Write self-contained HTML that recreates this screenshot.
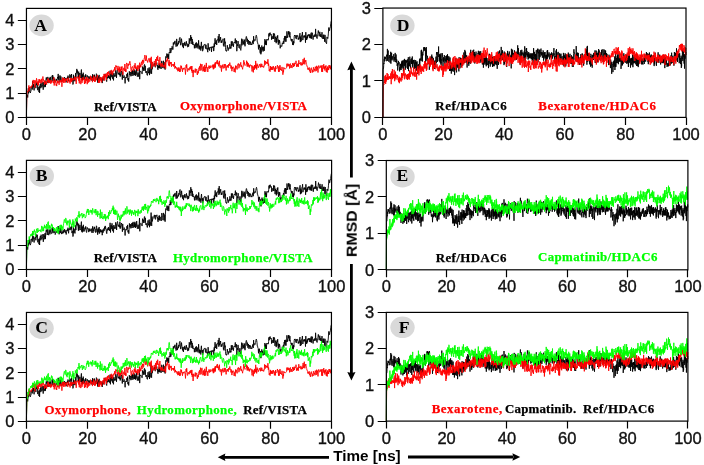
<!DOCTYPE html>
<html><head><meta charset="utf-8"><style>
html,body{margin:0;padding:0;background:#ffffff;}
svg{display:block;filter:blur(0.3px);}
text{will-change:transform;}
.tk{font-family:"Liberation Sans",sans-serif;font-size:16.5px;fill:#111;stroke:#111;stroke-width:0.35px;}
.lg{font-family:"Liberation Serif",serif;font-weight:bold;font-size:12.9px;stroke-width:0.25px;}
.lt{font-family:"Liberation Serif",serif;font-weight:bold;font-size:17.6px;fill:#000;text-anchor:middle;}
.ax{font-family:"Liberation Sans",sans-serif;font-weight:bold;font-size:15px;fill:#000;}
</style></head><body>
<svg width="704" height="465" viewBox="0 0 704 465">
<rect width="704" height="465" fill="#ffffff"/>
<clipPath id="cA"><rect x="25.45" y="7.40" width="307.00" height="110.00"/></clipPath>
<clipPath id="cB"><rect x="25.45" y="159.35" width="307.15" height="110.15"/></clipPath>
<clipPath id="cC"><rect x="25.45" y="311.45" width="307.00" height="109.85"/></clipPath>
<clipPath id="cD"><rect x="381.90" y="7.05" width="305.10" height="110.35"/></clipPath>
<clipPath id="cE"><rect x="385.30" y="159.50" width="303.60" height="110.30"/></clipPath>
<clipPath id="cF"><rect x="385.30" y="311.40" width="303.60" height="109.70"/></clipPath>
<ellipse cx="41.55" cy="25.40" rx="12.2" ry="10.8" fill="#d9d9d9"/>
<text x="40.70" y="31.00" class="lt">A</text>
<text x="94.05" y="110.9" fill="#000000" stroke="#000000" class="lg" textLength="62.56" lengthAdjust="spacing">Ref/VISTA</text>
<text x="179.90" y="110.4" fill="#ff0000" stroke="#ff0000" class="lg" textLength="127.03" lengthAdjust="spacing">Oxymorphone/VISTA</text>
<g clip-path="url(#cA)" fill="none" stroke-width="0.90" stroke-linejoin="round"><path stroke="#000000" d="M26.4 117.4l.4 -20.4 .3 -.9 .3 -1.4 .3 2.8 .3 -3.1 .3 -6.3 .3 5.2 .3 -2.6 .3 -2.6 .3 3.3 .3 -4.3 .3 5.3 .3 .6 .3 -1.4 .3 -.5 .3 -4 .3 .6 .3 -1.1 .4 2.9 .3 -8.3 .3 6 .3 -1.4 .3 -1.5 .3 4.5 .3 1.6 .3 -2.7 .3 -2.1 .3 -.2 .3 -.9 .3 1.4 .3 2.3 .3 -6 .3 3 .3 -1.4 .3 -.6 .3 -.5 .3 7.5 .4 -2.8 .3 -.5 .3 .6 .3 4.6 .3 -5.7 .3 6.5 .3 -7.6 .3 -1 .3 -.4 .3 4.3 .3 -5.6 .3 3.4 .3 .9 .3 .4 .3 -1.2 .3 -1.7 .3 -2.3 .3 7.6 .3 -4.6 .4 -3 .3 2.6 .3 -1 .3 3.5 .3 -6.3 .3 5.9 .3 -3.9 .3 -3.9 .3 -1.6 .3 2.1 .3 -1.6 .3 5 .3 -1.1 .3 -4.9 .3 3.2 .3 1.1 .3 1.9 .3 -3.6 .3 -1.7 .4 3.8 .3 .6 .3 -5.3 .3 3 .3 -.2 .3 1.7 .3 .2 .3 -.6 .3 -5.3 .3 3.6 .3 -4.3 .3 6.1 .3 -1.6 .3 -2.7 .3 2.1 .3 1.8 .3 -1 .3 -1 .3 3.8 .4 -1 .3 -1 .3 .1 .3 -1.6 .3 1.8 .3 -.3 .3 -2 .3 -1.4 .3 1.5 .3 -4.7 .3 5.7 .3 -3.5 .3 6.1 .3 -3.5 .3 -.5 .3 -2.8 .3 2.4 .3 3.2 .3 -4.5 .4 3.9 .3 1.6 .3 -1.9 .3 .3 .3 -.8 .3 1.9 .3 -3.8 .3 .9 .3 2.2 .3 -1 .3 -1 .3 -1.7 .3 2.8 .3 -1.7 .3 2.6 .3 -.7 .3 2.3 .3 -3.3 .4 -1 .3 1 .3 -2 .3 1.4 .3 -2.9 .3 3.4 .3 2.2 .3 -4.4 .3 1.1 .3 -.6 .3 -2.9 .3 1.4 .3 -.5 .3 2.7 .3 -.6 .3 -.3 .3 -3.1 .3 7 .3 -2.2 .4 .2 .3 5.5 .3 -.5 .3 -9.2 .3 6.3 .3 -4.3 .3 2.2 .3 1 .3 1.3 .3 -4.2 .3 -3.9 .3 4.8 .3 -5.3 .3 .1 .3 -3.9 .3 4.4 .3 -2.9 .3 2.1 .3 2.9 .4 3.2 .3 -7 .3 6.5 .3 -2 .3 -1.4 .3 -1.7 .3 5 .3 -1 .3 -.5 .3 -4.3 .3 -2.7 .3 10 .3 -4.9 .3 5.7 .3 -5.9 .3 4.4 .3 -6.1 .3 3.6 .3 3.3 .4 -1.3 .3 .3 .3 -3 .3 .3 .3 1.2 .3 -2.8 .3 2.8 .3 2.5 .3 .8 .3 -2.3 .3 -2.8 .3 1.3 .3 -.4 .3 .3 .3 3.3 .3 .2 .3 -3.7 .3 2.8 .3 -1.8 .4 -.4 .3 2.2 .3 -.4 .3 .2 .3 -2.4 .3 1.5 .3 2.6 .3 -1.1 .3 -2.4 .3 -2.9 .3 6.6 .3 -3.6 .3 1.5 .3 -3.2 .3 1.3 .3 -2.1 .3 2.6 .3 2.5 .3 .6 .4 -3.2 .3 .8 .3 -4.3 .3 .7 .3 5.8 .3 -2.9 .3 5.3 .3 -.6 .3 -5.8 .3 1.7 .3 2.3 .3 -5.3 .3 6.5 .3 -.2 .3 -4.1 .3 .7 .3 2.2 .3 -2.4 .3 .4 .4 2.1 .3 -1.1 .3 4.1 .3 -1.6 .3 -3.9 .3 2.9 .3 -3.1 .3 -.9 .3 2.5 .3 -1 .3 -3.4 .3 2.4 .3 -3.2 .3 .9 .3 2.3 .3 .9 .3 3.1 .3 .6 .4 -4.5 .3 .8 .3 .5 .3 -2.7 .3 2.1 .3 -2.8 .3 2.5 .3 -.6 .3 1.8 .3 -3.6 .3 -4.4 .3 9.7 .3 -5.1 .3 -2.2 .3 2.7 .3 .9 .3 -5.5 .3 6.8 .3 .7 .4 -4.8 .3 5.2 .3 1.3 .3 -7.5 .3 .8 .3 .9 .3 2.1 .3 -1.3 .3 1 .3 -6.1 .3 1.5 .3 .3 .3 5.8 .3 -5.2 .3 -2.5 .3 -.8 .3 2 .3 2.4 .3 .7 .4 -1.8 .3 1 .3 0 .3 1.5 .3 -5.6 .3 7 .3 -2.3 .3 .9 .3 -2.5 .3 -1.8 .3 1.8 .3 2 .3 4.9 .3 -7.8 .3 4.5 .3 .9 .3 .8 .3 -1.1 .3 -1.4 .4 1 .3 2.1 .3 4.8 .3 -5.7 .3 -.5 .3 0 .3 .9 .3 -1.4 .3 -2.6 .3 2.5 .3 -3.8 .3 7.4 .3 -.2 .3 -1.8 .3 3.4 .3 -3.9 .3 -6.4 .3 2.4 .3 1.4 .4 -3.1 .3 1.9 .3 2.4 .3 -2.1 .3 -.2 .3 -2.9 .3 4.8 .3 -5.1 .3 3.1 .3 -4.1 .3 5.7 .3 -.7 .3 -2.2 .3 -1.9 .3 4.4 .3 -5.4 .3 2.3 .3 3.8 .3 -4.3 .4 3.2 .3 -2.8 .3 -2.9 .3 4.8 .3 2.9 .3 -.6 .3 -3.5 .3 .2 .3 3.8 .3 -1.3 .3 -3.8 .3 -5.5 .3 13.2 .3 -7.4 .3 .3 .3 -.9 .3 .1 .3 .2 .4 .9 .3 1.4 .3 0 .3 -7.2 .3 1.6 .3 1 .3 -1.5 .3 3.2 .3 -4 .3 -2.3 .3 -.2 .3 6.3 .3 -4.9 .3 4.5 .3 2.6 .3 -.5 .3 .3 .3 -1.5 .3 3.9 .4 .3 .3 -3.1 .3 -4 .3 4.9 .3 -1.1 .3 .9 .3 -5.6 .3 7.7 .3 -5.3 .3 3.8 .3 -2.9 .3 -1.7 .3 -8.5 .3 9.6 .3 3.7 .3 -9.4 .3 4.9 .3 -2 .3 -.1 .4 -2 .3 -.1 .3 -.1 .3 -1.2 .3 -1 .3 3.1 .3 .6 .3 .8 .3 -4.3 .3 1.5 .3 -.3 .3 -.4 .3 -1.1 .3 3.5 .3 -1 .3 3.8 .3 .8 .3 -3.8 .3 1.9 .4 -4.3 .3 4.4 .3 -4.5 .3 4.9 .3 -2.3 .3 -.8 .3 -.1 .3 3.7 .3 -5.4 .3 -2.6 .3 .9 .3 3.6 .3 1 .3 1.7 .3 -4.4 .3 -2.9 .3 4.5 .3 3 .3 -4.7 .4 -1.3 .3 7.3 .3 -7.4 .3 -5.7 .3 .6 .3 .5 .3 -1.3 .3 -2.8 .3 5 .3 -1.5 .3 -2.9 .3 3 .3 -2.6 .3 4.5 .3 -6.1 .3 -.8 .3 .7 .3 -1.5 .3 -3.2 .4 4.9 .3 -.1 .3 -1.5 .3 -3.1 .3 .7 .3 -2.7 .3 .9 .3 2.4 .3 0 .3 -7 .3 1.9 .3 .2 .3 -2.6 .3 1.3 .3 -2.4 .3 -.2 .3 3.4 .3 1.3 .3 1.2 .4 -.6 .3 -7.2 .3 5 .3 2.3 .3 -2.3 .3 -.9 .3 -.5 .3 1.8 .3 -3.3 .3 1.5 .3 -4.3 .3 -.1 .3 -.7 .3 3.8 .3 4 .3 -.6 .3 -1.9 .3 -4 .4 3.6 .3 .6 .3 3.6 .3 -3.2 .3 1.7 .3 3.1 .3 -3.3 .3 -1.8 .3 2.4 .3 -3.2 .3 -.3 .3 2.3 .3 -.3 .3 2.2 .3 -1.3 .3 -3.5 .3 2.9 .3 -.2 .3 -.2 .4 3.3 .3 -.2 .3 -2.9 .3 2.5 .3 -1.7 .3 -6.5 .3 .6 .3 4.9 .3 -4.1 .3 .9 .3 -5.5 .3 5.1 .3 -.2 .3 -2.8 .3 6.8 .3 -5 .3 5.5 .3 -2.8 .3 1.8 .4 1.4 .3 -.5 .3 -.1 .3 4 .3 -3.5 .3 .8 .3 -.4 .3 -1.9 .3 4.9 .3 -5.9 .3 .4 .3 4.6 .3 -3.5 .3 -.1 .3 3.5 .3 1.3 .3 -2.4 .3 -5.8 .3 5.7 .4 3.4 .3 -3.7 .3 2.2 .3 .7 .3 -2.1 .3 4.1 .3 -6.3 .3 -2.4 .3 4.2 .3 2.4 .3 -2.4 .3 5.1 .3 -1 .3 -.6 .3 -3.6 .3 -.8 .3 .1 .3 -.9 .3 0 .4 -.3 .3 3.8 .3 .7 .3 -3.8 .3 3.8 .3 .6 .3 -.5 .3 -.8 .3 3 .3 1.3 .3 -8.9 .3 3.7 .3 2.4 .3 -1.1 .3 0 .3 2.3 .3 -3.5 .3 .9 .3 -.3 .4 -.5 .3 -.5 .3 5.2 .3 -4.9 .3 .6 .3 -.7 .3 .7 .3 -1.4 .3 -.3 .3 5.1 .3 -.2 .3 -7.3 .3 3.3 .3 -5.3 .3 -3.2 .3 5.8 .3 -1.2 .3 -1.6 .3 -.8 .4 4.5 .3 -5 .3 -.5 .3 .8 .3 -.1 .3 -3.9 .3 1.4 .3 5.1 .3 -8.8 .3 7.4 .3 -1.7 .3 .5 .3 -1.2 .3 -1.9 .3 4.5 .3 1.3 .3 -2.3 .3 2 .4 -1.2 .3 -.7 .3 -.6 .3 -1.4 .3 6.7 .3 -1.6 .3 2.7 .3 -4.4 .3 -3.8 .3 5.3 .3 -1.9 .3 6 .3 2.8 .3 -.4 .3 1.3 .3 -.2 .3 -1.5 .3 -4.5 .3 2.7 .4 -.4 .3 3 .3 -.9 .3 -1.8 .3 .8 .3 -1.8 .3 -2.6 .3 1.3 .3 3 .3 -1.3 .3 1.2 .3 -7 .3 4.8 .3 -1.6 .3 -3.3 .3 2.2 .3 2 .3 -1.2 .3 2.5 .4 -3.8 .3 -.9 .3 .3 .3 .5 .3 -1.7 .3 -2.7 .3 4.9 .3 -.2 .3 -.7 .3 -2.1 .3 10.8 .3 -4.3 .3 -2.5 .3 1.4 .3 -4.8 .3 2.2 .3 1.1 .3 3.6 .3 .3 .4 -.1 .3 -3.8 .3 3.3 .3 1.8 .3 1 .3 -2.1 .3 -6.4 .3 -3.2 .3 6.6 .3 -3 .3 .1 .3 -3 .3 4.1 .3 .6 .3 -2.8 .3 3.5 .3 -3.7 .3 -1.5 .3 6.7 .4 -4.9 .3 -1.1 .3 -2.8 .3 -1.1 .3 .4 .3 4.9 .3 -1 .3 -1.9 .3 5 .3 -.8 .3 -2.9 .3 2 .3 2.9 .3 -2.8 .3 -1 .3 2.3 .3 -1.9 .3 .4 .3 3 .4 -.9 .3 -.2 .3 1.1 .3 -2.3 .3 .3 .3 -2.4 .3 2.7 .3 .8 .3 -7.9 .3 5.3 .3 -1.8 .3 .3 .3 -.1 .3 .7 .3 -1.9 .3 -.3 .3 -2.4 .3 -.8 .4 1.4 .3 2.1 .3 3.6 .3 0 .3 1.7 .3 .5 .3 4.9 .3 -4.2 .3 2.2 .3 -2.6 .3 3.6 .3 3.6 .3 1.3 .3 -6 .3 7 .3 -2.2 .3 .1 .3 -6.7 .3 4.9 .4 -2.6 .3 -.8 .3 4.5 .3 -1.5 .3 -3.3 .3 1.7 .3 2.4 .3 -6.1 .3 -5.6 .3 5.8 .3 -4.3 .3 3.8 .3 -3.1 .3 3.8 .3 -5.7 .3 .9 .3 -.7 .3 -.3 .3 .8 .4 0 .3 -2.4 .3 -4.2 .3 2.8 .3 -3.1 .3 1 .3 -1.6 .3 2.6 .3 -.4 .3 .3 .3 -.7 .3 5.3 .3 -2.7 .3 -.6 .3 0 .3 2.6 .3 -.9 .3 -4.8 .3 5.6 .4 -3.3 .3 -2 .3 1.4 .3 7 .3 -5.3 .3 1.5 .3 -.3 .3 5.3 .3 -5.3 .3 4.1 .3 -5.7 .3 1.6 .3 -2.6 .3 5.9 .3 3.5 .3 -4.9 .3 .1 .3 3.4 .3 -3.1 .4 2 .3 6.1 .3 -2.4 .3 -.5 .3 -.1 .3 .7 .3 .6 .3 -1.1 .3 -2.6 .3 .4 .3 .7 .3 -2.3 .3 -.8 .3 2.8 .3 -5.4 .3 1.3 .3 -3.4 .3 5.4 .3 -5.7 .4 3 .3 2.8 .3 -5 .3 1.2 .3 -6.5 .3 3.7 .3 2.6 .3 -2.3 .3 -.5 .3 -3.6 .3 2.9 .3 -2.8 .3 5.9 .3 -2.5 .3 -2.6 .3 3.5 .3 2 .3 1.1 .3 1.7 .4 -1.4 .3 2.3 .3 -2.4 .3 3.6 .3 2.3 .3 -3.1 .3 3.3 .3 -3.9 .3 2.1 .3 -6.7 .3 -1.4 .3 .8 .3 -1 .3 2.4 .3 -.8 .3 1.8 .3 .7 .3 -3.8 .4 1.1 .3 .1 .3 -1.1 .3 .2 .3 3.9 .3 -1.7 .3 1.7 .3 -.7 .3 -.1 .3 -4.4 .3 -1.1 .3 8.9 .3 -5.5 .3 .8 .3 3.9 .3 -4 .3 -2.4 .3 -.1 .3 -2.7 .4 8 .3 -1.4 .3 -1.5 .3 -1.1 .3 -.6 .3 2 .3 -1.9 .3 1.3 .3 -1.1 .3 6.9 .3 -10.5 .3 6.2 .3 1.6 .3 -3.3 .3 2.7 .3 -3.9 .3 2.4 .3 -3.1 .3 .9 .4 -1.3 .3 1.8 .3 .1 .3 -1.7 .3 3.5 .3 -3.6 .3 .9 .3 2.9 .3 -5.5 .3 -.1 .3 6 .3 -3.6 .3 -2.4 .3 .4 .3 3.5 .3 3 .3 -4 .3 1.1 .3 .3 .4 -.3 .3 -2.1 .3 2.3 .3 -.9 .3 -7.1 .3 6.9 .3 -1.3 .3 2.9 .3 -.1 .3 1.3 .3 -3.2 .3 .3 .3 -2.7 .3 -2.5 .3 2.5 .3 .3 .3 3 .3 -1.9 .3 -2.6 .4 2.9 .3 2.1 .3 -2.6 .3 2.3 .3 -.1 .3 1 .3 -5.2 .3 6.5 .3 -.2 .3 -.6 .3 -2.8 .3 3.8 .3 -4.3 .3 2.3 .3 .9 .3 4 .3 -6.9 .3 4.3 .3 1.6 .4 2.3 .3 -.1 .3 .7 .3 -6.8 .3 .1 .3 1.2 .3 .5 .3 -2.1 .3 -3.5 .3 -5.5 .3 .7 .3 2.5 .3 -.1 .3 -3.1 .3 .1 .3 -1.3 .3 -2.8 .3 -1.7 .3 -1.2"/><path stroke="#ff0000" d="M26.4 117.4l.4 -23.2 .3 -.9 .3 -.9 .3 -1.1 .3 .6 .3 -2.7 .3 -.6 .3 -3.2 .3 5.4 .3 -2 .3 -.9 .3 0 .3 -.5 .3 -.9 .3 .5 .3 .7 .3 -2 .3 .7 .4 -.6 .3 -2.5 .3 -2.6 .3 -.8 .3 3.5 .3 -1.5 .3 -1.8 .3 .3 .3 5 .3 2.1 .3 -5.2 .3 -1.8 .3 1 .3 1.7 .3 -4.9 .3 .8 .3 2.4 .3 .8 .3 2.6 .4 -3.9 .3 4.5 .3 -4.9 .3 -1.4 .3 2.3 .3 -2 .3 3.6 .3 -2.9 .3 -.1 .3 .1 .3 3.1 .3 -4.5 .3 1 .3 2.6 .3 -.5 .3 -1.6 .3 -3.8 .3 3.6 .3 -.6 .4 2.4 .3 1.1 .3 2 .3 -4.7 .3 .6 .3 2.1 .3 .9 .3 -2.8 .3 1.3 .3 2.3 .3 -2 .3 -1.7 .3 .1 .3 -2.6 .3 3.2 .3 -2.9 .3 4 .3 -2.7 .3 .8 .4 1.9 .3 -2.9 .3 3.3 .3 .4 .3 -1.9 .3 1.6 .3 -3.3 .3 1.4 .3 -.4 .3 .5 .3 .8 .3 -.3 .3 0 .3 1.2 .3 -5.9 .3 8.2 .3 -3 .3 -1.6 .3 1.1 .4 -2.1 .3 1.9 .3 3.7 .3 -1.6 .3 2.2 .3 -4 .3 -1.5 .3 2.7 .3 -2.6 .3 1.5 .3 .5 .3 -1 .3 3.1 .3 -3.2 .3 .1 .3 -1.8 .3 0 .3 2.4 .3 .1 .4 -2 .3 -.4 .3 6.8 .3 -5.8 .3 -3.4 .3 3.9 .3 -2.1 .3 -1.5 .3 5 .3 -3.8 .3 -1.1 .3 1.3 .3 3.4 .3 -3.4 .3 2.5 .3 -2.8 .3 .3 .3 1.1 .4 -2.2 .3 2.8 .3 -.3 .3 2.2 .3 -4.1 .3 -1.1 .3 1.4 .3 1.5 .3 1.7 .3 -.5 .3 -2.1 .3 3.9 .3 -5.4 .3 3.2 .3 -3.5 .3 .4 .3 3.8 .3 -3.5 .3 1.8 .4 -1.5 .3 -.6 .3 2 .3 -.8 .3 -.8 .3 1.5 .3 -2.6 .3 -1 .3 .5 .3 1.3 .3 1.4 .3 -2.5 .3 6.6 .3 -4.5 .3 0 .3 -2.3 .3 -.3 .3 -.4 .3 1.7 .4 -.7 .3 3.3 .3 -2.2 .3 4.9 .3 -8.2 .3 .1 .3 6 .3 -.2 .3 3.1 .3 -2.4 .3 -3.6 .3 1.7 .3 3 .3 -2.4 .3 .4 .3 -3.4 .3 -.5 .3 2.6 .3 -.8 .4 2 .3 3.2 .3 -5 .3 .9 .3 -.9 .3 4.3 .3 -6.2 .3 3.4 .3 -.4 .3 -2.9 .3 7 .3 -1.1 .3 -4.1 .3 3.1 .3 .5 .3 -4.2 .3 1.7 .3 -.3 .3 1.8 .4 -.1 .3 -3.5 .3 -2.3 .3 4.4 .3 -2.7 .3 0 .3 1.9 .3 -.7 .3 3.6 .3 -1.8 .3 -2.5 .3 2.1 .3 -4.4 .3 5.1 .3 -1 .3 2.1 .3 -2.1 .3 -3.1 .3 5 .4 -2.8 .3 1.1 .3 -.1 .3 -2.4 .3 0 .3 -2.5 .3 1.6 .3 1.8 .3 .1 .3 4.6 .3 -2.6 .3 -1.5 .3 .4 .3 3.6 .3 -6.1 .3 .5 .3 3.3 .3 -1.2 .3 -2.1 .4 5 .3 -1.3 .3 -2.1 .3 -1.1 .3 -.2 .3 -1.5 .3 3.2 .3 -.7 .3 -4.7 .3 6.8 .3 -4.1 .3 -1.6 .3 2.2 .3 -3.3 .3 1.6 .3 -.7 .3 5.2 .3 -6.7 .4 -.5 .3 3.7 .3 -4.5 .3 2.3 .3 -.9 .3 -2 .3 2.8 .3 1.6 .3 -2.5 .3 1.1 .3 -1.2 .3 .6 .3 -.5 .3 -2.8 .3 -.6 .3 3.3 .3 -2.5 .3 4.4 .3 -2.6 .4 1 .3 -3.2 .3 .2 .3 1.1 .3 -2.2 .3 .5 .3 -2.7 .3 3.3 .3 -.6 .3 -1.6 .3 -3 .3 1.7 .3 -.9 .3 1.6 .3 1.6 .3 -.7 .3 1.8 .3 -4.5 .3 4.3 .4 -1.4 .3 3.6 .3 -4.7 .3 3.4 .3 -4.5 .3 5.5 .3 -2.3 .3 -.6 .3 1.4 .3 -3.6 .3 3 .3 -3.7 .3 5.3 .3 .5 .3 2.7 .3 -4.2 .3 -2 .3 -.8 .3 2.3 .4 .8 .3 -6.9 .3 3.5 .3 4.2 .3 -2.5 .3 2.7 .3 -7.6 .3 -1.3 .3 .2 .3 3.1 .3 1.8 .3 .7 .3 -5.2 .3 2 .3 -1.4 .3 .9 .3 -1.2 .3 -2.1 .3 -.6 .4 2.5 .3 1.9 .3 4 .3 2 .3 -1.1 .3 -3.1 .3 .4 .3 -1.4 .3 .2 .3 1.3 .3 2.7 .3 -1.7 .3 1.4 .3 -5.1 .3 1.9 .3 .7 .3 -4.6 .3 5.3 .3 -1.9 .4 2.4 .3 -1.4 .3 1.6 .3 -2.1 .3 -1.6 .3 4.6 .3 .9 .3 -5.6 .3 1.1 .3 -.1 .3 2.8 .3 -4.9 .3 -1.6 .3 4.7 .3 -2.7 .3 1.4 .3 1.1 .3 -3.9 .4 -1.6 .3 3 .3 .5 .3 -5.3 .3 2 .3 -1.8 .3 3.4 .3 -1 .3 -2.8 .3 -1.8 .3 0 .3 -2.9 .3 3.2 .3 2.6 .3 -1.1 .3 -2.3 .3 -1.8 .3 5.2 .3 -.1 .4 -.1 .3 1.9 .3 -1.3 .3 -1.4 .3 -1 .3 -.5 .3 1.7 .3 -.4 .3 2.7 .3 -4.4 .3 1 .3 1.8 .3 3.1 .3 -7 .3 11.9 .3 -4.5 .3 -.2 .3 -2.1 .3 4.7 .4 -2.5 .3 1.4 .3 -.3 .3 -4 .3 -.1 .3 .9 .3 .6 .3 3.9 .3 -7.5 .3 3.6 .3 2.5 .3 -5 .3 -3.1 .3 4 .3 -.3 .3 -4.9 .3 3.6 .3 1.2 .3 -.7 .4 5.3 .3 -3 .3 -.4 .3 -4.7 .3 7.1 .3 -.5 .3 2.8 .3 -2.9 .3 .4 .3 .4 .3 2.5 .3 -3.8 .3 2.8 .3 .1 .3 -.9 .3 1.1 .3 1.2 .3 0 .3 -2.6 .4 1.7 .3 -4.4 .3 4.1 .3 2.4 .3 -5.1 .3 -3.8 .3 2 .3 -.7 .3 -.3 .3 -2.9 .3 3.3 .3 .7 .3 2.1 .3 1.6 .3 -5.8 .3 1.3 .3 5.2 .3 -4.3 .3 1.1 .4 -.5 .3 1.7 .3 -2.2 .3 4.7 .3 -1.3 .3 -1.3 .3 1 .3 .4 .3 -.9 .3 -.5 .3 2.4 .3 -2.2 .3 1.3 .3 -3.4 .3 6.4 .3 -1.1 .3 -1.5 .3 2 .3 -.6 .4 .9 .3 -.7 .3 2.1 .3 -1.3 .3 .4 .3 2.5 .3 -3.8 .3 3.3 .3 -1.3 .3 -1.9 .3 1 .3 3.4 .3 -2.8 .3 2.4 .3 -.9 .3 -5.2 .3 2.9 .3 -2.3 .4 3.1 .3 .1 .3 2.5 .3 -3.4 .3 1.1 .3 -1.3 .3 .6 .3 .4 .3 -1.5 .3 .6 .3 .5 .3 2 .3 3.7 .3 -5.9 .3 -3.5 .3 3 .3 -3.8 .3 3.1 .3 3.9 .4 .3 .3 -3.3 .3 .3 .3 1 .3 -.7 .3 1.4 .3 -2.7 .3 .9 .3 -1 .3 -.9 .3 2.7 .3 -3 .3 .1 .3 4.8 .3 -5.2 .3 6.9 .3 -1.5 .3 -1.4 .3 7.1 .4 -7.2 .3 .3 .3 2.3 .3 -1 .3 -.2 .3 -.6 .3 -2.1 .3 4 .3 -1.2 .3 -.6 .3 -1.6 .3 -.2 .3 5.1 .3 .9 .3 -3.7 .3 .6 .3 1.4 .3 -3.5 .3 -2 .4 .8 .3 -2.3 .3 4.5 .3 -2.4 .3 -4.6 .3 2.6 .3 4 .3 -3.3 .3 -2.5 .3 -.6 .3 2.8 .3 .4 .3 4.1 .3 -1.5 .3 -3.2 .3 4.1 .3 -2.1 .3 3.3 .3 -7 .4 2.9 .3 -.8 .3 4.7 .3 -1.9 .3 -6.9 .3 5 .3 0 .3 -.7 .3 .6 .3 4.2 .3 -3.6 .3 -1 .3 .4 .3 -2.3 .3 3.2 .3 -1.3 .3 -1.4 .3 1.9 .3 .1 .4 -2.5 .3 .7 .3 .5 .3 .7 .3 -.2 .3 .2 .3 -2.6 .3 -.1 .3 4.6 .3 -4.5 .3 4 .3 -4.6 .3 3.3 .3 -3.2 .3 -1.7 .3 5 .3 -5.3 .3 1.8 .3 -.8 .4 -1.7 .3 .7 .3 -2.2 .3 4.1 .3 -1.6 .3 -.1 .3 .4 .3 3.4 .3 -3.9 .3 -1.6 .3 4.9 .3 2 .3 .1 .3 -1.3 .3 -1.3 .3 3.4 .3 3 .3 -5.7 .4 1.3 .3 -1.2 .3 -1.4 .3 3.9 .3 -1.6 .3 .3 .3 -1.9 .3 -1.3 .3 2.4 .3 1.8 .3 -4.2 .3 .7 .3 2.6 .3 3.2 .3 -2.1 .3 -1.6 .3 -1.3 .3 1.5 .3 -1.7 .4 2.5 .3 -.1 .3 -3.6 .3 1.3 .3 .5 .3 -1 .3 -2.3 .3 2.6 .3 0 .3 1.5 .3 1.9 .3 -3 .3 1.2 .3 4.4 .3 -4.3 .3 1.8 .3 -1.6 .3 -.2 .3 .1 .4 .1 .3 4.8 .3 -3.4 .3 2.1 .3 1.6 .3 .1 .3 -6.7 .3 2.8 .3 -2 .3 -.1 .3 1 .3 2.2 .3 -4.5 .3 -.4 .3 .5 .3 -1.7 .3 .3 .3 4.6 .3 -1 .4 -2.9 .3 .9 .3 .2 .3 -2.6 .3 -.6 .3 4.6 .3 -1.6 .3 1.8 .3 .4 .3 .3 .3 1.5 .3 -3 .3 .2 .3 -4.1 .3 -2.1 .3 3.2 .3 -1.1 .3 2.6 .3 .5 .4 -.5 .3 -.1 .3 -.6 .3 -.2 .3 -3.4 .3 3.7 .3 2.2 .3 -4.7 .3 4.4 .3 -1.7 .3 -1.3 .3 3.5 .3 -.3 .3 -1.7 .3 2.7 .3 -1.9 .3 -.7 .3 -.2 .3 1 .4 -.7 .3 .6 .3 4 .3 1.9 .3 -2.7 .3 -3.1 .3 1 .3 5.7 .3 -3.9 .3 -1.8 .3 3.2 .3 -4.9 .3 3.9 .3 -3.1 .3 2 .3 -6.9 .3 7.2 .3 -2.9 .4 4.3 .3 -5.9 .3 2.5 .3 -1.3 .3 1.5 .3 1.6 .3 -1.2 .3 .4 .3 -1.1 .3 -1.9 .3 .6 .3 1.2 .3 -.3 .3 1.8 .3 -3.7 .3 3.4 .3 -1.5 .3 -1.7 .3 1.7 .4 1.4 .3 -.1 .3 -1.2 .3 1.6 .3 .3 .3 -1.1 .3 -.3 .3 -5.7 .3 2.1 .3 2.1 .3 -3.6 .3 .7 .3 .4 .3 1.4 .3 -1.7 .3 1.1 .3 -.7 .3 1.5 .3 -4.5 .4 6.5 .3 -2.2 .3 2.2 .3 5.1 .3 -1.6 .3 1.6 .3 .8 .3 -5.7 .3 4 .3 -2.9 .3 2.5 .3 -2.5 .3 2.7 .3 -3.2 .3 2.9 .3 .5 .3 -1.1 .3 -2.7 .3 2.1 .4 -.4 .3 3.5 .3 -1.5 .3 -2.4 .3 4.1 .3 -5.5 .3 1.6 .3 .6 .3 .4 .3 -.2 .3 -.1 .3 -3.3 .3 1.5 .3 .2 .3 2.7 .3 2.3 .3 -5.5 .3 5.5 .3 -2.4 .4 -4.3 .3 .9 .3 4.1 .3 -1.4 .3 .4 .3 1 .3 .7 .3 -3.9 .3 2.6 .3 1 .3 4.2 .3 -4.5 .3 2.1 .3 -4.9 .3 .5 .3 1.2 .3 -.5 .3 0 .3 .2 .4 -.1 .3 -.5 .3 -.2 .3 -.5 .3 -3.8 .3 2.7 .3 -1.2 .3 -1.5 .3 1.3 .3 1.2 .3 -2.2 .3 -.1 .3 .2 .3 4.4 .3 -3.4 .3 -.5 .3 -1 .3 4.3 .3 -.8 .4 -1.9 .3 2.3 .3 .6 .3 -2.4 .3 -2.6 .3 1.8 .3 -.9 .3 3 .3 -3.6 .3 -.6 .3 3.3 .3 -2.8 .3 .4 .3 -.4 .3 .4 .3 -2.9 .3 2.9 .3 3.1 .4 -2.3 .3 -.3 .3 2.1 .3 -2.8 .3 3.4 .3 -1 .3 -5.6 .3 3.6 .3 -.9 .3 0 .3 1.2 .3 .3 .3 .1 .3 -2.6 .3 3.5 .3 -.3 .3 -1.9 .3 1 .3 .9 .4 -4.3 .3 -1.8 .3 2 .3 3.1 .3 -3.6 .3 -2.8 .3 6 .3 .6 .3 -3.7 .3 .9 .3 -1.5 .3 1.9 .3 2.3 .3 .3 .3 1.9 .3 0 .3 1.1 .3 2 .3 -1.6 .4 .8 .3 1 .3 -2.4 .3 3.9 .3 -.8 .3 -.8 .3 3.3 .3 -2.3 .3 -2.6 .3 -.4 .3 2 .3 -.4 .3 3.3 .3 -2 .3 -.6 .3 2.1 .3 -4.9 .3 .3 .3 2.4 .4 .2 .3 -1.2 .3 2.5 .3 -4.7 .3 1.3 .3 -.4 .3 3.5 .3 -5.1 .3 -.2 .3 3.9 .3 -2.9 .3 1.8 .3 3.9 .3 -5.2 .3 -1.7 .3 .8 .3 1.6 .3 .2 .3 -.1 .4 -2.5 .3 .3 .3 1.5 .3 .4 .3 -2.3 .3 6.3 .3 -3.8 .3 .8 .3 3.1 .3 -6.7 .3 3.4 .3 -3.3 .3 -1.1 .3 3.1 .3 1.9 .3 -2.6 .3 4 .3 -4.5 .3 1.7 .4 -2.4 .3 6.6 .3 -3.1 .3 -.9 .3 4.6 .3 -6 .3 3.4 .3 -2 .3 2.1 .3 -3.1 .3 -1.8 .3 2.9 .3 -1.3 .3 -1.7 .3 4.3 .3 -.4 .3 -2.7 .3 2.1 .3 -2.2"/></g>
<rect x="26.45" y="8.40" width="305.00" height="109.00" fill="none" stroke="#000" stroke-width="1.2"/>
<text x="14.4" y="123.2" class="tk" text-anchor="end">0</text>
<text x="14.4" y="98.9" class="tk" text-anchor="end">1</text>
<text x="14.4" y="74.6" class="tk" text-anchor="end">2</text>
<text x="14.4" y="50.3" class="tk" text-anchor="end">3</text>
<text x="14.4" y="26.0" class="tk" text-anchor="end">4</text>
<text x="26.4" y="139.9" class="tk" text-anchor="middle">0</text>
<text x="87.5" y="139.9" class="tk" text-anchor="middle">20</text>
<text x="148.4" y="139.9" class="tk" text-anchor="middle">40</text>
<text x="209.4" y="139.9" class="tk" text-anchor="middle">60</text>
<text x="270.4" y="139.9" class="tk" text-anchor="middle">80</text>
<text x="331.4" y="139.9" class="tk" text-anchor="middle">100</text>
<path d="M17.85 117.50H26.45M17.85 93.50H26.45M17.85 68.50H26.45M17.85 44.50H26.45M17.85 20.50H26.45M26.50 117.40V124.90M87.50 117.40V124.90M148.50 117.40V124.90M209.50 117.40V124.90M270.50 117.40V124.90M331.50 117.40V124.90" stroke="#000" stroke-width="1.2" fill="none"/>
<ellipse cx="41.80" cy="176.00" rx="12.2" ry="10.8" fill="#d9d9d9"/>
<text x="41.60" y="181.00" class="lt">B</text>
<text x="93.75" y="262.0" fill="#000000" stroke="#000000" class="lg" textLength="62.96" lengthAdjust="spacing">Ref/VISTA</text>
<text x="172.95" y="261.8" fill="#00ff00" stroke="#00ff00" class="lg" textLength="139.54" lengthAdjust="spacing">Hydromorphone/VISTA</text>
<g clip-path="url(#cB)" fill="none" stroke-width="0.90" stroke-linejoin="round"><path stroke="#000000" d="M26.4 269.5l.4 -20.4 .3 -.9 .3 -1.4 .3 2.8 .3 -3.1 .3 -6.3 .3 5.2 .3 -2.6 .3 -2.6 .3 3.3 .3 -4.3 .3 5.3 .3 .6 .3 -1.4 .3 -.5 .3 -4 .3 .6 .3 -1.1 .4 2.9 .3 -8.3 .3 6 .3 -1.4 .3 -1.5 .3 4.5 .3 1.6 .3 -2.7 .3 -2.1 .3 -.2 .3 -.9 .3 1.4 .3 2.3 .3 -6 .3 3 .3 -1.4 .3 -.6 .3 -.5 .4 7.5 .3 -2.8 .3 -.5 .3 .6 .3 4.6 .3 -5.7 .3 6.5 .3 -7.6 .3 -1 .3 -.4 .3 4.3 .3 -5.6 .3 3.4 .3 .9 .3 .4 .3 -1.2 .3 -1.7 .3 -2.3 .4 7.6 .3 -4.6 .3 -3 .3 2.6 .3 -1 .3 3.5 .3 -6.3 .3 5.9 .3 -3.9 .3 -3.9 .3 -1.6 .3 2.1 .3 -1.6 .3 5 .3 -1.1 .3 -4.9 .3 3.2 .3 1.1 .3 1.9 .4 -3.6 .3 -1.7 .3 3.8 .3 .6 .3 -5.3 .3 3 .3 -.2 .3 1.7 .3 .2 .3 -.6 .3 -5.3 .3 3.6 .3 -4.3 .3 6.1 .3 -1.6 .3 -2.7 .3 2.1 .3 1.8 .4 -1 .3 -1 .3 3.8 .3 -1 .3 -1 .3 .1 .3 -1.6 .3 1.8 .3 -.3 .3 -2 .3 -1.4 .3 1.5 .3 -4.7 .3 5.7 .3 -3.5 .3 6.1 .3 -3.5 .3 -.5 .4 -2.8 .3 2.4 .3 3.2 .3 -4.5 .3 3.9 .3 1.6 .3 -1.9 .3 .3 .3 -.8 .3 1.9 .3 -3.8 .3 .9 .3 2.2 .3 -1 .3 -1 .3 -1.7 .3 2.8 .3 -1.7 .3 2.6 .4 -.7 .3 2.3 .3 -3.3 .3 -1 .3 1 .3 -2 .3 1.4 .3 -2.9 .3 3.4 .3 2.2 .3 -4.4 .3 1.1 .3 -.6 .3 -2.9 .3 1.4 .3 -.5 .3 2.7 .3 -.6 .4 -.3 .3 -3.1 .3 7 .3 -2.2 .3 .2 .3 5.5 .3 -.5 .3 -9.2 .3 6.3 .3 -4.3 .3 2.2 .3 1 .3 1.3 .3 -4.2 .3 -3.9 .3 4.8 .3 -5.3 .3 .1 .4 -3.9 .3 4.4 .3 -2.9 .3 2.1 .3 2.9 .3 3.2 .3 -7 .3 6.5 .3 -2 .3 -1.4 .3 -1.7 .3 5 .3 -1 .3 -.5 .3 -4.3 .3 -2.7 .3 10 .3 -4.9 .3 5.7 .4 -5.9 .3 4.4 .3 -6.1 .3 3.6 .3 3.3 .3 -1.3 .3 .3 .3 -3 .3 .3 .3 1.2 .3 -2.8 .3 2.8 .3 2.5 .3 .8 .3 -2.3 .3 -2.8 .3 1.3 .3 -.4 .4 .3 .3 3.3 .3 .2 .3 -3.7 .3 2.8 .3 -1.8 .3 -.4 .3 2.2 .3 -.4 .3 .2 .3 -2.4 .3 1.5 .3 2.6 .3 -1.1 .3 -2.4 .3 -2.9 .3 6.6 .3 -3.6 .4 1.5 .3 -3.2 .3 1.3 .3 -2.1 .3 2.6 .3 2.5 .3 .6 .3 -3.2 .3 .8 .3 -4.3 .3 .7 .3 5.8 .3 -2.9 .3 5.3 .3 -.6 .3 -5.8 .3 1.7 .3 2.3 .3 -5.3 .4 6.5 .3 -.2 .3 -4.1 .3 .7 .3 2.2 .3 -2.4 .3 .4 .3 2.1 .3 -1.1 .3 4.1 .3 -1.6 .3 -3.9 .3 2.9 .3 -3.1 .3 -.9 .3 2.5 .3 -1 .3 -3.4 .4 2.4 .3 -3.2 .3 .9 .3 2.3 .3 .9 .3 3.1 .3 .6 .3 -4.5 .3 .8 .3 .5 .3 -2.7 .3 2.1 .3 -2.8 .3 2.5 .3 -.6 .3 1.8 .3 -3.6 .3 -4.4 .4 9.7 .3 -5.1 .3 -2.2 .3 2.7 .3 .9 .3 -5.5 .3 6.8 .3 .7 .3 -4.8 .3 5.2 .3 1.3 .3 -7.5 .3 .8 .3 .9 .3 2.1 .3 -1.3 .3 1 .3 -6.1 .3 1.5 .4 .3 .3 5.8 .3 -5.2 .3 -2.5 .3 -.8 .3 2 .3 2.4 .3 .7 .3 -1.8 .3 1 .3 0 .3 1.5 .3 -5.6 .3 7 .3 -2.3 .3 .9 .3 -2.5 .3 -1.8 .4 1.8 .3 2 .3 4.9 .3 -7.8 .3 4.5 .3 .9 .3 .8 .3 -1.1 .3 -1.4 .3 1 .3 2.1 .3 4.8 .3 -5.7 .3 -.5 .3 0 .3 .9 .3 -1.4 .3 -2.6 .4 2.5 .3 -3.8 .3 7.4 .3 -.2 .3 -1.8 .3 3.4 .3 -3.9 .3 -6.4 .3 2.4 .3 1.4 .3 -3.1 .3 1.9 .3 2.4 .3 -2.1 .3 -.2 .3 -2.9 .3 4.8 .3 -5.1 .3 3.1 .4 -4.1 .3 5.7 .3 -.7 .3 -2.2 .3 -1.9 .3 4.4 .3 -5.4 .3 2.3 .3 3.8 .3 -4.3 .3 3.2 .3 -2.8 .3 -2.9 .3 4.8 .3 2.9 .3 -.6 .3 -3.5 .3 .2 .4 3.8 .3 -1.3 .3 -3.8 .3 -5.5 .3 13.2 .3 -7.4 .3 .3 .3 -.9 .3 .1 .3 .2 .3 .9 .3 1.4 .3 0 .3 -7.2 .3 1.6 .3 1 .3 -1.5 .3 3.2 .4 -4 .3 -2.3 .3 -.2 .3 6.3 .3 -4.9 .3 4.5 .3 2.6 .3 -.5 .3 .3 .3 -1.5 .3 3.9 .3 .3 .3 -3.1 .3 -4 .3 4.9 .3 -1.1 .3 .9 .3 -5.6 .3 7.7 .4 -5.3 .3 3.8 .3 -2.9 .3 -1.7 .3 -8.5 .3 9.6 .3 3.7 .3 -9.4 .3 4.9 .3 -2 .3 -.1 .3 -2 .3 -.1 .3 -.1 .3 -1.2 .3 -1 .3 3.1 .3 .6 .4 .8 .3 -4.3 .3 1.5 .3 -.3 .3 -.4 .3 -1.1 .3 3.5 .3 -1 .3 3.8 .3 .8 .3 -3.8 .3 1.9 .3 -4.3 .3 4.4 .3 -4.5 .3 4.9 .3 -2.3 .3 -.8 .4 -.1 .3 3.7 .3 -5.4 .3 -2.6 .3 .9 .3 3.6 .3 1 .3 1.7 .3 -4.4 .3 -2.9 .3 4.5 .3 3 .3 -4.7 .3 -1.3 .3 7.3 .3 -7.4 .3 -5.7 .3 .6 .3 .5 .4 -1.3 .3 -2.8 .3 5 .3 -1.5 .3 -2.9 .3 3 .3 -2.6 .3 4.5 .3 -6.1 .3 -.8 .3 .7 .3 -1.5 .3 -3.2 .3 4.9 .3 -.1 .3 -1.5 .3 -3.1 .3 .7 .4 -2.7 .3 .9 .3 2.4 .3 0 .3 -7 .3 1.9 .3 .2 .3 -2.6 .3 1.3 .3 -2.4 .3 -.2 .3 3.4 .3 1.3 .3 1.2 .3 -.6 .3 -7.2 .3 5 .3 2.3 .4 -2.3 .3 -.9 .3 -.5 .3 1.8 .3 -3.3 .3 1.5 .3 -4.3 .3 -.1 .3 -.7 .3 3.8 .3 4 .3 -.6 .3 -1.9 .3 -4 .3 3.6 .3 .6 .3 3.6 .3 -3.2 .3 1.7 .4 3.1 .3 -3.3 .3 -1.8 .3 2.4 .3 -3.2 .3 -.3 .3 2.3 .3 -.3 .3 2.2 .3 -1.3 .3 -3.5 .3 2.9 .3 -.2 .3 -.2 .3 3.3 .3 -.2 .3 -2.9 .3 2.5 .4 -1.7 .3 -6.5 .3 .6 .3 4.9 .3 -4.1 .3 .9 .3 -5.5 .3 5.1 .3 -.2 .3 -2.8 .3 6.8 .3 -5 .3 5.5 .3 -2.8 .3 1.8 .3 1.4 .3 -.5 .3 -.1 .4 4 .3 -3.5 .3 .8 .3 -.4 .3 -1.9 .3 4.9 .3 -5.9 .3 .4 .3 4.6 .3 -3.5 .3 -.1 .3 3.5 .3 1.3 .3 -2.4 .3 -5.8 .3 5.7 .3 3.4 .3 -3.7 .3 2.2 .4 .7 .3 -2.1 .3 4.1 .3 -6.3 .3 -2.4 .3 4.2 .3 2.4 .3 -2.4 .3 5.1 .3 -1 .3 -.6 .3 -3.6 .3 -.8 .3 .1 .3 -.9 .3 0 .3 -.3 .3 3.8 .4 .7 .3 -3.8 .3 3.8 .3 .6 .3 -.5 .3 -.8 .3 3 .3 1.3 .3 -8.9 .3 3.7 .3 2.4 .3 -1.1 .3 0 .3 2.3 .3 -3.5 .3 .9 .3 -.3 .3 -.5 .4 -.5 .3 5.2 .3 -4.9 .3 .6 .3 -.7 .3 .7 .3 -1.4 .3 -.3 .3 5.1 .3 -.2 .3 -7.3 .3 3.3 .3 -5.3 .3 -3.2 .3 5.8 .3 -1.2 .3 -1.6 .3 -.8 .3 4.5 .4 -5 .3 -.5 .3 .8 .3 -.1 .3 -3.9 .3 1.4 .3 5.1 .3 -8.8 .3 7.4 .3 -1.7 .3 .5 .3 -1.2 .3 -1.9 .3 4.5 .3 1.3 .3 -2.3 .3 2 .3 -1.2 .4 -.7 .3 -.6 .3 -1.4 .3 6.7 .3 -1.6 .3 2.7 .3 -4.4 .3 -3.8 .3 5.3 .3 -1.9 .3 6 .3 2.8 .3 -.4 .3 1.3 .3 -.2 .3 -1.5 .3 -4.5 .3 2.7 .4 -.4 .3 3 .3 -.9 .3 -1.8 .3 .8 .3 -1.8 .3 -2.6 .3 1.3 .3 3 .3 -1.3 .3 1.2 .3 -7 .3 4.8 .3 -1.6 .3 -3.3 .3 2.2 .3 2 .3 -1.2 .3 2.5 .4 -3.8 .3 -.9 .3 .3 .3 .5 .3 -1.7 .3 -2.7 .3 4.9 .3 -.2 .3 -.7 .3 -2.1 .3 10.8 .3 -4.3 .3 -2.5 .3 1.4 .3 -4.8 .3 2.2 .3 1.1 .3 3.6 .4 .3 .3 -.1 .3 -3.8 .3 3.3 .3 1.8 .3 1 .3 -2.1 .3 -6.4 .3 -3.2 .3 6.6 .3 -3 .3 .1 .3 -3 .3 4.1 .3 .6 .3 -2.8 .3 3.5 .3 -3.7 .4 -1.5 .3 6.7 .3 -4.9 .3 -1.1 .3 -2.8 .3 -1.1 .3 .4 .3 4.9 .3 -1 .3 -1.9 .3 5 .3 -.8 .3 -2.9 .3 2 .3 2.9 .3 -2.8 .3 -1 .3 2.3 .3 -1.9 .4 .4 .3 3 .3 -.9 .3 -.2 .3 1.1 .3 -2.3 .3 .3 .3 -2.4 .3 2.7 .3 .8 .3 -7.9 .3 5.3 .3 -1.8 .3 .3 .3 -.1 .3 .7 .3 -1.9 .3 -.3 .4 -2.4 .3 -.8 .3 1.4 .3 2.1 .3 3.6 .3 0 .3 1.7 .3 .5 .3 4.9 .3 -4.2 .3 2.2 .3 -2.6 .3 3.6 .3 3.6 .3 1.3 .3 -6 .3 7 .3 -2.2 .4 .1 .3 -6.7 .3 4.9 .3 -2.6 .3 -.8 .3 4.5 .3 -1.5 .3 -3.3 .3 1.7 .3 2.4 .3 -6.1 .3 -5.6 .3 5.8 .3 -4.3 .3 3.8 .3 -3.1 .3 3.8 .3 -5.7 .3 .9 .4 -.7 .3 -.3 .3 .8 .3 0 .3 -2.4 .3 -4.2 .3 2.8 .3 -3.1 .3 1 .3 -1.6 .3 2.6 .3 -.4 .3 .3 .3 -.7 .3 5.3 .3 -2.7 .3 -.6 .3 0 .4 2.6 .3 -.9 .3 -4.8 .3 5.6 .3 -3.3 .3 -2 .3 1.4 .3 7 .3 -5.3 .3 1.5 .3 -.3 .3 5.3 .3 -5.3 .3 4.1 .3 -5.7 .3 1.6 .3 -2.6 .3 5.9 .4 3.5 .3 -4.9 .3 .1 .3 3.4 .3 -3.1 .3 2 .3 6.1 .3 -2.4 .3 -.5 .3 -.1 .3 .7 .3 .6 .3 -1.1 .3 -2.6 .3 .4 .3 .7 .3 -2.3 .3 -.8 .3 2.8 .4 -5.4 .3 1.3 .3 -3.4 .3 5.4 .3 -5.7 .3 3 .3 2.8 .3 -5 .3 1.2 .3 -6.5 .3 3.7 .3 2.6 .3 -2.3 .3 -.5 .3 -3.6 .3 2.9 .3 -2.8 .3 5.9 .4 -2.5 .3 -2.6 .3 3.5 .3 2 .3 1.1 .3 1.7 .3 -1.4 .3 2.3 .3 -2.4 .3 3.6 .3 2.3 .3 -3.1 .3 3.3 .3 -3.9 .3 2.1 .3 -6.7 .3 -1.4 .3 .8 .4 -1 .3 2.4 .3 -.8 .3 1.8 .3 .7 .3 -3.8 .3 1.1 .3 .1 .3 -1.1 .3 .2 .3 3.9 .3 -1.7 .3 1.7 .3 -.7 .3 -.1 .3 -4.4 .3 -1.1 .3 8.9 .3 -5.5 .4 .8 .3 3.9 .3 -4 .3 -2.4 .3 -.1 .3 -2.7 .3 8 .3 -1.4 .3 -1.5 .3 -1.1 .3 -.6 .3 2 .3 -1.9 .3 1.3 .3 -1.1 .3 6.9 .3 -10.5 .3 6.2 .4 1.6 .3 -3.3 .3 2.7 .3 -3.9 .3 2.4 .3 -3.1 .3 .9 .3 -1.3 .3 1.8 .3 .1 .3 -1.7 .3 3.5 .3 -3.6 .3 .9 .3 2.9 .3 -5.5 .3 -.1 .3 6 .4 -3.6 .3 -2.4 .3 .4 .3 3.5 .3 3 .3 -4 .3 1.1 .3 .3 .3 -.3 .3 -2.1 .3 2.3 .3 -.9 .3 -7.1 .3 6.9 .3 -1.3 .3 2.9 .3 -.1 .3 1.3 .3 -3.2 .4 .3 .3 -2.7 .3 -2.5 .3 2.5 .3 .3 .3 3 .3 -1.9 .3 -2.6 .3 2.9 .3 2.1 .3 -2.6 .3 2.3 .3 -.1 .3 1 .3 -5.2 .3 6.5 .3 -.2 .3 -.6 .4 -2.8 .3 3.8 .3 -4.3 .3 2.3 .3 .9 .3 4 .3 -6.9 .3 4.3 .3 1.6 .3 2.3 .3 -.1 .3 .7 .3 -6.8 .3 .1 .3 1.2 .3 .5 .3 -2.1 .3 -3.5 .4 -5.5 .3 .7 .3 2.5 .3 -.1 .3 -3.1 .3 .1 .3 -1.3 .3 -2.8 .3 -1.7 .3 -1.2"/><path stroke="#00ff00" d="M26.4 269.5l.4 -22.4 .3 -.6 .3 -.7 .3 1 .3 -6.7 .3 1.3 .3 1.1 .3 -1.9 .3 -4.1 .3 2.5 .3 -1.4 .3 -1.2 .3 -.6 .3 -1.4 .3 1.8 .3 -.4 .3 -2.1 .3 .8 .4 1.6 .3 -5.1 .3 1.7 .3 -1 .3 -.3 .3 3.7 .3 -4.3 .3 -1.2 .3 2 .3 -.6 .3 1.4 .3 4.1 .3 -4 .3 .3 .3 -4 .3 1.4 .3 1.2 .3 1.5 .4 -4.7 .3 1.1 .3 2.5 .3 -1.4 .3 .4 .3 0 .3 -.8 .3 .8 .3 -1.2 .3 1.4 .3 .9 .3 .3 .3 -3.3 .3 -3 .3 1.2 .3 3.5 .3 .6 .3 -4.5 .4 1.3 .3 3.1 .3 -3.1 .3 0 .3 -3.2 .3 3.2 .3 -2.2 .3 1.4 .3 1.1 .3 0 .3 .5 .3 -4.8 .3 2.3 .3 3.1 .3 -5.1 .3 -2.1 .3 0 .3 -.6 .3 7.1 .4 -2 .3 .9 .3 -2.4 .3 5 .3 -3.6 .3 1 .3 .6 .3 -2.2 .3 -2.2 .3 2.2 .3 -1.4 .3 1.3 .3 2.1 .3 .6 .3 .1 .3 -1.6 .3 3.8 .3 .4 .4 -3.2 .3 2.5 .3 -.9 .3 0 .3 1.2 .3 -1.7 .3 -2.1 .3 .5 .3 5.2 .3 -.8 .3 -5.2 .3 1.1 .3 5.9 .3 -1.9 .3 -2.8 .3 1.4 .3 -3.1 .3 -1.3 .4 -1 .3 3.2 .3 -.8 .3 -2.8 .3 5.8 .3 -5.3 .3 2.6 .3 -1.4 .3 .4 .3 3.1 .3 -.8 .3 -4 .3 -1.9 .3 -2 .3 -1.8 .3 .4 .3 1.8 .3 1.2 .3 -4.6 .4 -.1 .3 .7 .3 5.4 .3 -1.6 .3 2.8 .3 -4.7 .3 2.5 .3 -.8 .3 -.2 .3 0 .3 -1.7 .3 5.8 .3 1.5 .3 -8.4 .3 .4 .3 1 .3 3.4 .3 .3 .4 -.3 .3 2.1 .3 -1.3 .3 -2.5 .3 2.1 .3 -5.2 .3 8.4 .3 -2.6 .3 -4 .3 3.9 .3 .9 .3 .6 .3 -1.8 .3 -6.2 .3 2.2 .3 -.6 .3 .8 .3 -3.5 .4 0 .3 4.3 .3 -2.6 .3 -1.3 .3 -2.7 .3 1.4 .3 -1.8 .3 -3.5 .3 6.4 .3 -.1 .3 -3.5 .3 1.5 .3 .4 .3 .1 .3 -.8 .3 -1.8 .3 .7 .3 -1 .3 5 .4 -.8 .3 -2.5 .3 1.9 .3 -2.9 .3 1.5 .3 -.4 .3 -.5 .3 .6 .3 3 .3 -.3 .3 -.7 .3 -.3 .3 -2.2 .3 -3 .3 .7 .3 -3 .3 -.2 .3 3.5 .4 -3.6 .3 1.4 .3 4.6 .3 -3 .3 -.3 .3 .2 .3 -1.8 .3 .1 .3 -.3 .3 2.8 .3 -2.1 .3 1.8 .3 -2.3 .3 4.4 .3 -4.2 .3 -2 .3 1.8 .3 .8 .4 .2 .3 1.8 .3 .3 .3 -2.5 .3 -1.3 .3 .1 .3 3.3 .3 -3.8 .3 6.2 .3 -2.5 .3 -1 .3 -1 .3 3.2 .3 2.9 .3 -5.6 .3 2 .3 1.3 .3 -.5 .3 1.1 .4 -.8 .3 -.9 .3 5.2 .3 -9 .3 5.8 .3 2.5 .3 -1.1 .3 1.3 .3 -6.2 .3 4 .3 3.1 .3 -.3 .3 .5 .3 -2.3 .3 -.7 .3 2.2 .3 -4.4 .3 3.1 .4 1.4 .3 -4.2 .3 6.7 .3 -1.9 .3 -2.3 .3 1.5 .3 -.9 .3 -1.6 .3 1.7 .3 -1.8 .3 2.2 .3 1.3 .3 -7.2 .3 4.1 .3 -.2 .3 -5.2 .3 -.4 .3 3.4 .4 .4 .3 -1.8 .3 .1 .3 -2.3 .3 .9 .3 -.1 .3 -2.8 .3 1.8 .3 -3.5 .3 -.7 .3 8.2 .3 -6.4 .3 4.7 .3 2 .3 -4.2 .3 4.7 .3 -.5 .3 -4.5 .3 5.2 .4 -.9 .3 -1.3 .3 -2 .3 2.4 .3 6.9 .3 -1.8 .3 -1.4 .3 -3.1 .3 3 .3 -.7 .3 -.1 .3 4.6 .3 -1.6 .3 -1.4 .3 3.1 .3 -3.4 .3 -2.5 .3 3.7 .4 -2.9 .3 .6 .3 -1.6 .3 2.2 .3 -2.2 .3 -3.4 .3 1.7 .3 2.6 .3 -1.9 .3 -2.7 .3 3.6 .3 -.6 .3 -5.4 .3 5.5 .3 0 .3 .4 .3 -.9 .3 -7.1 .4 3.6 .3 3.6 .3 -1.1 .3 -1.9 .3 -.7 .3 2 .3 -2.1 .3 5 .3 -3.6 .3 .1 .3 -1.7 .3 3.4 .3 .6 .3 -3 .3 5.2 .3 -3.2 .3 -1.8 .3 -.3 .3 2.8 .4 .5 .3 -1.4 .3 2.7 .3 -1.9 .3 -1.7 .3 -1.5 .3 4 .3 -.4 .3 2.7 .3 -5.5 .3 2.3 .3 -1.8 .3 1.7 .3 -1.1 .3 -1 .3 .9 .3 4.5 .3 -6.9 .4 2.8 .3 1.6 .3 -2 .3 .4 .3 -.4 .3 1.9 .3 -3.1 .3 .2 .3 -.2 .3 2.2 .3 -2.7 .3 -1.8 .3 -1.4 .3 3 .3 -3.1 .3 1.8 .3 2.5 .3 -4.7 .4 3 .3 -3.8 .3 -1.3 .3 3.9 .3 1.7 .3 -5.9 .3 3.9 .3 .3 .3 -1.2 .3 2.8 .3 .5 .3 -.4 .3 3.6 .3 -8.1 .3 5.3 .3 .6 .3 -4.2 .3 -1 .3 2.2 .4 -2.4 .3 1 .3 -2.1 .3 1.3 .3 -1.6 .3 -3.2 .3 .7 .3 -.6 .3 -.2 .3 .4 .3 1.4 .3 -2.4 .3 -1.4 .3 2.1 .3 -1.6 .3 1.4 .3 -1.3 .3 -.9 .4 .8 .3 1.2 .3 1.4 .3 -.7 .3 -3.3 .3 0 .3 0 .3 1.8 .3 1.1 .3 -1.5 .3 1 .3 3.6 .3 -4.3 .3 -.2 .3 -3.4 .3 4.6 .3 .8 .3 -5.9 .4 6.4 .3 -3.1 .3 3 .3 1.2 .3 1.5 .3 -2.2 .3 -1 .3 1.5 .3 -.8 .3 1.7 .3 -3.7 .3 .9 .3 0 .3 5.6 .3 -3.6 .3 1.7 .3 -3.9 .3 -1 .3 2.8 .4 -2.8 .3 -3.4 .3 1.4 .3 -1.6 .3 2 .3 -.1 .3 .2 .3 -3.3 .3 -4.5 .3 -.1 .3 2.9 .3 3.5 .3 -.5 .3 .9 .3 3.6 .3 .9 .3 -3.5 .3 3 .4 -5.2 .3 3.3 .3 3.7 .3 -1.7 .3 -4.3 .3 7.6 .3 -1.9 .3 .1 .3 -1.5 .3 3.7 .3 2.3 .3 -1.4 .3 1.3 .3 -2.6 .3 2.2 .3 -5.2 .3 4.1 .3 -.4 .4 2.3 .3 -1.7 .3 .7 .3 1.7 .3 -2 .3 3.5 .3 -.2 .3 -3 .3 3.2 .3 1.3 .3 -4.5 .3 1.6 .3 7.6 .3 -5 .3 -2 .3 -.5 .3 2.6 .3 -4.7 .3 3.1 .4 -.1 .3 -.7 .3 .3 .3 -2.4 .3 .5 .3 2 .3 -3.8 .3 3.1 .3 -1.2 .3 -3.9 .3 3.4 .3 -3.3 .3 1.4 .3 -.4 .3 -.5 .3 -.6 .3 2.6 .3 -.2 .4 -.9 .3 -1.1 .3 2.7 .3 .4 .3 -1.6 .3 3.4 .3 2.5 .3 -6.4 .3 .7 .3 2.2 .3 1.2 .3 .8 .3 1.8 .3 -4.5 .3 4.2 .3 -4.3 .3 3.4 .3 -2.8 .4 -2.3 .3 .2 .3 4.7 .3 -1.6 .3 2.4 .3 -1.2 .3 -1.5 .3 -2.9 .3 5.5 .3 -2.2 .3 -.6 .3 2.7 .3 .5 .3 -1 .3 2.5 .3 -3.5 .3 -.6 .3 2.8 .3 -5 .4 .1 .3 -.9 .3 -.3 .3 3.3 .3 0 .3 1.1 .3 -.5 .3 .1 .3 -5.1 .3 -2.8 .3 6.1 .3 -1 .3 3.7 .3 -3 .3 .2 .3 .6 .3 -2.3 .3 .4 .4 -.6 .3 1.3 .3 -.4 .3 -1.4 .3 .3 .3 -2.1 .3 2.7 .3 -3.2 .3 .8 .3 -2 .3 .3 .3 1.5 .3 .8 .3 3 .3 -3 .3 -2.6 .3 -.7 .3 7.8 .4 -2.7 .3 -2 .3 1.6 .3 -1.9 .3 1.6 .3 .5 .3 -1.6 .3 5 .3 -2.8 .3 -1.3 .3 -3 .3 5.3 .3 -4.4 .3 -1.9 .3 3.7 .3 -1.6 .3 3.2 .3 -2.1 .3 1 .4 -4.4 .3 3.4 .3 -2 .3 3 .3 -1.1 .3 -2.3 .3 2.9 .3 -2.3 .3 .6 .3 -1.8 .3 -1.4 .3 7.3 .3 -4.4 .3 1.8 .3 1.4 .3 .6 .3 -.7 .3 3.6 .4 .8 .3 .7 .3 -3.4 .3 -1 .3 .8 .3 1.5 .3 1.8 .3 4 .3 -3.7 .3 .2 .3 .1 .3 -1.8 .3 2.8 .3 -.3 .3 4.2 .3 -7.6 .3 .9 .3 1 .4 -1.5 .3 3.7 .3 .1 .3 -5.6 .3 3.7 .3 -1 .3 -1.2 .3 -1.4 .3 .7 .3 -2.9 .3 4.3 .3 -.9 .3 1 .3 .5 .3 3.5 .3 -2.9 .3 -6.7 .3 -1 .3 5.3 .4 0 .3 -2.5 .3 2.3 .3 -4.4 .3 5.7 .3 .4 .3 3.6 .3 -10.2 .3 3 .3 -3 .3 6.1 .3 -4.1 .3 -.6 .3 -.7 .3 -3.8 .3 .9 .3 -.2 .3 4.1 .4 -2.4 .3 -1.6 .3 3.7 .3 -.8 .3 -.2 .3 2.1 .3 -3.6 .3 -2.7 .3 7.7 .3 -2 .3 -1.7 .3 4.7 .3 -1 .3 4.6 .3 -3.3 .3 1.6 .3 -.6 .3 1.1 .4 -2.2 .3 3.1 .3 3.9 .3 -10.6 .3 4.5 .3 1.7 .3 .2 .3 -3.4 .3 4.1 .3 -1.8 .3 0 .3 -1.2 .3 1.5 .3 -1.1 .3 .2 .3 .2 .3 -3.2 .3 1.4 .3 1.3 .4 -2.8 .3 .5 .3 .2 .3 -1 .3 -5.7 .3 4.3 .3 -1.3 .3 1.3 .3 -2.8 .3 1.9 .3 2.9 .3 .9 .3 -4.7 .3 1.4 .3 5 .3 -.2 .3 -2.8 .3 .3 .4 4.5 .3 -1.7 .3 -2.8 .3 1.6 .3 .5 .3 .4 .3 2.5 .3 -2.7 .3 -.4 .3 4.1 .3 -4.6 .3 -4.4 .3 1.3 .3 -1.1 .3 1.1 .3 -3.4 .3 4.5 .3 -5.2 .4 4.5 .3 -.5 .3 -2.4 .3 -.7 .3 .7 .3 0 .3 -1.6 .3 -1.4 .3 -2 .3 .9 .3 -3.1 .3 4.8 .3 2.1 .3 1.8 .3 -5.1 .3 4.1 .3 2.1 .3 -5.6 .3 -.5 .4 .8 .3 6.4 .3 -1.9 .3 -1.7 .3 1.6 .3 3.8 .3 -.8 .3 4.8 .3 -1.8 .3 -6.5 .3 1.7 .3 3.5 .3 .1 .3 -3.4 .3 2.3 .3 -3.3 .3 3.4 .3 -2.2 .4 -1.5 .3 2.5 .3 .5 .3 -.5 .3 -2.1 .3 -.2 .3 -.2 .3 .1 .3 -2.6 .3 3.2 .3 -5.6 .3 -.7 .3 1.8 .3 -1.2 .3 -1.6 .3 .2 .3 1.3 .3 -.5 .4 2.2 .3 2.8 .3 -5.5 .3 -.6 .3 5.6 .3 -2 .3 .1 .3 .4 .3 .9 .3 -2.9 .3 2.7 .3 -2.3 .3 1.1 .3 -5.5 .3 3.2 .3 1.3 .3 -1.4 .3 -3.4 .3 .4 .4 2.3 .3 -.3 .3 2.3 .3 -1.1 .3 -.2 .3 2.6 .3 -5.1 .3 8.7 .3 -4.2 .3 .4 .3 .6 .3 -2.9 .3 5.2 .3 -.4 .3 -2.2 .3 -1.1 .3 .2 .3 1.1 .4 -4.6 .3 4.1 .3 -2.8 .3 -4.4 .3 .6 .3 2.9 .3 2 .3 -1.1 .3 .7 .3 .4 .3 0 .3 -1.8 .3 1.5 .3 2.5 .3 .1 .3 2.8 .3 -4.9 .3 7.5 .4 -5.2 .3 4.3 .3 -.5 .3 1.1 .3 -6.6 .3 2.5 .3 -5 .3 8.4 .3 .5 .3 -5.4 .3 1.8 .3 1.8 .3 2.4 .3 -8.2 .3 2.4 .3 -.2 .3 1.9 .3 -2.9 .3 3.1 .4 -2.2 .3 1.1 .3 -3.7 .3 5.4 .3 -1.1 .3 -1.5 .3 2.7 .3 -.7 .3 .9 .3 -3.4 .3 4.1 .3 -4.2 .3 -2.9 .3 4.4 .3 1.9 .3 -.1 .3 -1.9 .3 2.1 .4 -1 .3 -1.6 .3 1.5 .3 -2.5 .3 5.1 .3 -4 .3 7.7 .3 -2 .3 -.5 .3 -.8 .3 -.1 .3 5.3 .3 4.1 .3 -6.1 .3 2.8 .3 -3 .3 -4.4 .3 1.2 .4 -.2 .3 .1 .3 -3.6 .3 -1.9 .3 4.4 .3 -7 .3 3.6 .3 -3.2 .3 2.9 .3 -3.2 .3 .3 .3 1.8 .3 -.3 .3 -1.3 .3 -.6 .3 .6 .3 1.1 .3 -.7 .3 -2.1 .4 6.7 .3 -4.6 .3 3.6 .3 -4.3 .3 1.5 .3 -.4 .3 1.7 .3 -1.8 .3 -3.2 .3 -3.1 .3 7 .3 -1.9 .3 -8 .3 4.3 .3 1.8 .3 .3 .3 5.4 .3 -8.7 .4 3 .3 3.2 .3 -4.5 .3 3.9 .3 0 .3 -3.2 .3 1 .3 -.2 .3 .2 .3 3.4 .3 .8 .3 -5.6 .3 -1.5 .3 2.2 .3 -.2 .3 3.5 .3 -.4 .3 1.8 .4 -6.6 .3 3.6 .3 -.8 .3 -3.3 .3 3.9 .3 -7.7 .3 4.1 .3 .4 .3 -1.6 .3 4.9"/></g>
<rect x="26.45" y="160.35" width="305.15" height="109.15" fill="none" stroke="#000" stroke-width="1.2"/>
<text x="14.4" y="275.3" class="tk" text-anchor="end">0</text>
<text x="14.4" y="251.0" class="tk" text-anchor="end">1</text>
<text x="14.4" y="226.7" class="tk" text-anchor="end">2</text>
<text x="14.4" y="202.4" class="tk" text-anchor="end">3</text>
<text x="14.4" y="178.1" class="tk" text-anchor="end">4</text>
<text x="26.4" y="292.0" class="tk" text-anchor="middle">0</text>
<text x="87.5" y="292.0" class="tk" text-anchor="middle">20</text>
<text x="148.5" y="292.0" class="tk" text-anchor="middle">40</text>
<text x="209.5" y="292.0" class="tk" text-anchor="middle">60</text>
<text x="270.6" y="292.0" class="tk" text-anchor="middle">80</text>
<text x="331.6" y="292.0" class="tk" text-anchor="middle">100</text>
<path d="M17.85 269.50H26.45M17.85 245.50H26.45M17.85 220.50H26.45M17.85 196.50H26.45M17.85 172.50H26.45M26.50 269.50V277.00M87.50 269.50V277.00M148.50 269.50V277.00M209.50 269.50V277.00M270.50 269.50V277.00M331.50 269.50V277.00" stroke="#000" stroke-width="1.2" fill="none"/>
<ellipse cx="41.55" cy="328.20" rx="12.2" ry="10.8" fill="#d9d9d9"/>
<text x="41.60" y="332.70" class="lt">C</text>
<text x="44.50" y="413.6" fill="#ff0000" stroke="#ff0000" class="lg" textLength="86.18" lengthAdjust="spacing">Oxymorphone,</text>
<text x="136.75" y="413.7" fill="#00ff00" stroke="#00ff00" class="lg" textLength="100.09" lengthAdjust="spacing">Hydromorphone,</text>
<text x="243.25" y="413.9" fill="#000000" stroke="#000000" class="lg" textLength="63.46" lengthAdjust="spacing">Ref/VISTA</text>
<g clip-path="url(#cC)" fill="none" stroke-width="0.90" stroke-linejoin="round"><path stroke="#000000" d="M26.4 421.3l.4 -20.4 .3 -.9 .3 -1.4 .3 2.8 .3 -3.1 .3 -6.3 .3 5.2 .3 -2.6 .3 -2.6 .3 3.3 .3 -4.3 .3 5.3 .3 .6 .3 -1.4 .3 -.5 .3 -4 .3 .6 .3 -1.1 .4 2.9 .3 -8.3 .3 6 .3 -1.4 .3 -1.5 .3 4.5 .3 1.6 .3 -2.7 .3 -2.1 .3 -.2 .3 -.9 .3 1.4 .3 2.3 .3 -6 .3 3 .3 -1.4 .3 -.6 .3 -.5 .3 7.5 .4 -2.8 .3 -.5 .3 .6 .3 4.6 .3 -5.7 .3 6.5 .3 -7.6 .3 -1 .3 -.4 .3 4.3 .3 -5.6 .3 3.4 .3 .9 .3 .4 .3 -1.2 .3 -1.7 .3 -2.3 .3 7.6 .3 -4.6 .4 -3 .3 2.6 .3 -1 .3 3.5 .3 -6.3 .3 5.9 .3 -3.9 .3 -3.9 .3 -1.6 .3 2.1 .3 -1.6 .3 5 .3 -1.1 .3 -4.9 .3 3.2 .3 1.1 .3 1.9 .3 -3.6 .3 -1.7 .4 3.8 .3 .6 .3 -5.3 .3 3 .3 -.2 .3 1.7 .3 .2 .3 -.6 .3 -5.3 .3 3.6 .3 -4.3 .3 6.1 .3 -1.6 .3 -2.7 .3 2.1 .3 1.8 .3 -1 .3 -1 .3 3.8 .4 -1 .3 -1 .3 .1 .3 -1.6 .3 1.8 .3 -.3 .3 -2 .3 -1.4 .3 1.5 .3 -4.7 .3 5.7 .3 -3.5 .3 6.1 .3 -3.5 .3 -.5 .3 -2.8 .3 2.4 .3 3.2 .3 -4.5 .4 3.9 .3 1.6 .3 -1.9 .3 .3 .3 -.8 .3 1.9 .3 -3.8 .3 .9 .3 2.2 .3 -1 .3 -1 .3 -1.7 .3 2.8 .3 -1.7 .3 2.6 .3 -.7 .3 2.3 .3 -3.3 .4 -1 .3 1 .3 -2 .3 1.4 .3 -2.9 .3 3.4 .3 2.2 .3 -4.4 .3 1.1 .3 -.6 .3 -2.9 .3 1.4 .3 -.5 .3 2.7 .3 -.6 .3 -.3 .3 -3.1 .3 7 .3 -2.2 .4 .2 .3 5.5 .3 -.5 .3 -9.2 .3 6.3 .3 -4.3 .3 2.2 .3 1 .3 1.3 .3 -4.2 .3 -3.9 .3 4.8 .3 -5.3 .3 .1 .3 -3.9 .3 4.4 .3 -2.9 .3 2.1 .3 2.9 .4 3.2 .3 -7 .3 6.5 .3 -2 .3 -1.4 .3 -1.7 .3 5 .3 -1 .3 -.5 .3 -4.3 .3 -2.7 .3 10 .3 -4.9 .3 5.7 .3 -5.9 .3 4.4 .3 -6.1 .3 3.6 .3 3.3 .4 -1.3 .3 .3 .3 -3 .3 .3 .3 1.2 .3 -2.8 .3 2.8 .3 2.5 .3 .8 .3 -2.3 .3 -2.8 .3 1.3 .3 -.4 .3 .3 .3 3.3 .3 .2 .3 -3.7 .3 2.8 .3 -1.8 .4 -.4 .3 2.2 .3 -.4 .3 .2 .3 -2.4 .3 1.5 .3 2.6 .3 -1.1 .3 -2.4 .3 -2.9 .3 6.6 .3 -3.6 .3 1.5 .3 -3.2 .3 1.3 .3 -2.1 .3 2.6 .3 2.5 .3 .6 .4 -3.2 .3 .8 .3 -4.3 .3 .7 .3 5.8 .3 -2.9 .3 5.3 .3 -.6 .3 -5.8 .3 1.7 .3 2.3 .3 -5.3 .3 6.5 .3 -.2 .3 -4.1 .3 .7 .3 2.2 .3 -2.4 .3 .4 .4 2.1 .3 -1.1 .3 4.1 .3 -1.6 .3 -3.9 .3 2.9 .3 -3.1 .3 -.9 .3 2.5 .3 -1 .3 -3.4 .3 2.4 .3 -3.2 .3 .9 .3 2.3 .3 .9 .3 3.1 .3 .6 .4 -4.5 .3 .8 .3 .5 .3 -2.7 .3 2.1 .3 -2.8 .3 2.5 .3 -.6 .3 1.8 .3 -3.6 .3 -4.4 .3 9.7 .3 -5.1 .3 -2.2 .3 2.7 .3 .9 .3 -5.5 .3 6.8 .3 .7 .4 -4.8 .3 5.2 .3 1.3 .3 -7.5 .3 .8 .3 .9 .3 2.1 .3 -1.3 .3 1 .3 -6.1 .3 1.5 .3 .3 .3 5.8 .3 -5.2 .3 -2.5 .3 -.8 .3 2 .3 2.4 .3 .7 .4 -1.8 .3 1 .3 0 .3 1.5 .3 -5.6 .3 7 .3 -2.3 .3 .9 .3 -2.5 .3 -1.8 .3 1.8 .3 2 .3 4.9 .3 -7.8 .3 4.5 .3 .9 .3 .8 .3 -1.1 .3 -1.4 .4 1 .3 2.1 .3 4.8 .3 -5.7 .3 -.5 .3 0 .3 .9 .3 -1.4 .3 -2.6 .3 2.5 .3 -3.8 .3 7.4 .3 -.2 .3 -1.8 .3 3.4 .3 -3.9 .3 -6.4 .3 2.4 .3 1.4 .4 -3.1 .3 1.9 .3 2.4 .3 -2.1 .3 -.2 .3 -2.9 .3 4.8 .3 -5.1 .3 3.1 .3 -4.1 .3 5.7 .3 -.7 .3 -2.2 .3 -1.9 .3 4.4 .3 -5.4 .3 2.3 .3 3.8 .3 -4.3 .4 3.2 .3 -2.8 .3 -2.9 .3 4.8 .3 2.9 .3 -.6 .3 -3.5 .3 .2 .3 3.8 .3 -1.3 .3 -3.8 .3 -5.5 .3 13.2 .3 -7.4 .3 .3 .3 -.9 .3 .1 .3 .2 .4 .9 .3 1.4 .3 0 .3 -7.2 .3 1.6 .3 1 .3 -1.5 .3 3.2 .3 -4 .3 -2.3 .3 -.2 .3 6.3 .3 -4.9 .3 4.5 .3 2.6 .3 -.5 .3 .3 .3 -1.5 .3 3.9 .4 .3 .3 -3.1 .3 -4 .3 4.9 .3 -1.1 .3 .9 .3 -5.6 .3 7.7 .3 -5.3 .3 3.8 .3 -2.9 .3 -1.7 .3 -8.5 .3 9.6 .3 3.7 .3 -9.4 .3 4.9 .3 -2 .3 -.1 .4 -2 .3 -.1 .3 -.1 .3 -1.2 .3 -1 .3 3.1 .3 .6 .3 .8 .3 -4.3 .3 1.5 .3 -.3 .3 -.4 .3 -1.1 .3 3.5 .3 -1 .3 3.8 .3 .8 .3 -3.8 .3 1.9 .4 -4.3 .3 4.4 .3 -4.5 .3 4.9 .3 -2.3 .3 -.8 .3 -.1 .3 3.7 .3 -5.4 .3 -2.6 .3 .9 .3 3.6 .3 1 .3 1.7 .3 -4.4 .3 -2.9 .3 4.5 .3 3 .3 -4.7 .4 -1.3 .3 7.3 .3 -7.4 .3 -5.7 .3 .6 .3 .5 .3 -1.3 .3 -2.8 .3 5 .3 -1.5 .3 -2.9 .3 3 .3 -2.6 .3 4.5 .3 -6.1 .3 -.8 .3 .7 .3 -1.5 .3 -3.2 .4 4.9 .3 -.1 .3 -1.5 .3 -3.1 .3 .7 .3 -2.7 .3 .9 .3 2.4 .3 0 .3 -7 .3 1.9 .3 .2 .3 -2.6 .3 1.3 .3 -2.4 .3 -.2 .3 3.4 .3 1.3 .3 1.2 .4 -.6 .3 -7.2 .3 5 .3 2.3 .3 -2.3 .3 -.9 .3 -.5 .3 1.8 .3 -3.3 .3 1.5 .3 -4.3 .3 -.1 .3 -.7 .3 3.8 .3 4 .3 -.6 .3 -1.9 .3 -4 .4 3.6 .3 .6 .3 3.6 .3 -3.2 .3 1.7 .3 3.1 .3 -3.3 .3 -1.8 .3 2.4 .3 -3.2 .3 -.3 .3 2.3 .3 -.3 .3 2.2 .3 -1.3 .3 -3.5 .3 2.9 .3 -.2 .3 -.2 .4 3.3 .3 -.2 .3 -2.9 .3 2.5 .3 -1.7 .3 -6.5 .3 .6 .3 4.9 .3 -4.1 .3 .9 .3 -5.5 .3 5.1 .3 -.2 .3 -2.8 .3 6.8 .3 -5 .3 5.5 .3 -2.8 .3 1.8 .4 1.4 .3 -.5 .3 -.1 .3 4 .3 -3.5 .3 .8 .3 -.4 .3 -1.9 .3 4.9 .3 -5.9 .3 .4 .3 4.6 .3 -3.5 .3 -.1 .3 3.5 .3 1.3 .3 -2.4 .3 -5.8 .3 5.7 .4 3.4 .3 -3.7 .3 2.2 .3 .7 .3 -2.1 .3 4.1 .3 -6.3 .3 -2.4 .3 4.2 .3 2.4 .3 -2.4 .3 5.1 .3 -1 .3 -.6 .3 -3.6 .3 -.8 .3 .1 .3 -.9 .3 0 .4 -.3 .3 3.8 .3 .7 .3 -3.8 .3 3.8 .3 .6 .3 -.5 .3 -.8 .3 3 .3 1.3 .3 -8.9 .3 3.7 .3 2.4 .3 -1.1 .3 0 .3 2.3 .3 -3.5 .3 .9 .3 -.3 .4 -.5 .3 -.5 .3 5.2 .3 -4.9 .3 .6 .3 -.7 .3 .7 .3 -1.4 .3 -.3 .3 5.1 .3 -.2 .3 -7.3 .3 3.3 .3 -5.3 .3 -3.2 .3 5.8 .3 -1.2 .3 -1.6 .3 -.8 .4 4.5 .3 -5 .3 -.5 .3 .8 .3 -.1 .3 -3.9 .3 1.4 .3 5.1 .3 -8.8 .3 7.4 .3 -1.7 .3 .5 .3 -1.2 .3 -1.9 .3 4.5 .3 1.3 .3 -2.3 .3 2 .4 -1.2 .3 -.7 .3 -.6 .3 -1.4 .3 6.7 .3 -1.6 .3 2.7 .3 -4.4 .3 -3.8 .3 5.3 .3 -1.9 .3 6 .3 2.8 .3 -.4 .3 1.3 .3 -.2 .3 -1.5 .3 -4.5 .3 2.7 .4 -.4 .3 3 .3 -.9 .3 -1.8 .3 .8 .3 -1.8 .3 -2.6 .3 1.3 .3 3 .3 -1.3 .3 1.2 .3 -7 .3 4.8 .3 -1.6 .3 -3.3 .3 2.2 .3 2 .3 -1.2 .3 2.5 .4 -3.8 .3 -.9 .3 .3 .3 .5 .3 -1.7 .3 -2.7 .3 4.9 .3 -.2 .3 -.7 .3 -2.1 .3 10.8 .3 -4.3 .3 -2.5 .3 1.4 .3 -4.8 .3 2.2 .3 1.1 .3 3.6 .3 .3 .4 -.1 .3 -3.8 .3 3.3 .3 1.8 .3 1 .3 -2.1 .3 -6.4 .3 -3.2 .3 6.6 .3 -3 .3 .1 .3 -3 .3 4.1 .3 .6 .3 -2.8 .3 3.5 .3 -3.7 .3 -1.5 .3 6.7 .4 -4.9 .3 -1.1 .3 -2.8 .3 -1.1 .3 .4 .3 4.9 .3 -1 .3 -1.9 .3 5 .3 -.8 .3 -2.9 .3 2 .3 2.9 .3 -2.8 .3 -1 .3 2.3 .3 -1.9 .3 .4 .3 3 .4 -.9 .3 -.2 .3 1.1 .3 -2.3 .3 .3 .3 -2.4 .3 2.7 .3 .8 .3 -7.9 .3 5.3 .3 -1.8 .3 .3 .3 -.1 .3 .7 .3 -1.9 .3 -.3 .3 -2.4 .3 -.8 .4 1.4 .3 2.1 .3 3.6 .3 0 .3 1.7 .3 .5 .3 4.9 .3 -4.2 .3 2.2 .3 -2.6 .3 3.6 .3 3.6 .3 1.3 .3 -6 .3 7 .3 -2.2 .3 .1 .3 -6.7 .3 4.9 .4 -2.6 .3 -.8 .3 4.5 .3 -1.5 .3 -3.3 .3 1.7 .3 2.4 .3 -6.1 .3 -5.6 .3 5.8 .3 -4.3 .3 3.8 .3 -3.1 .3 3.8 .3 -5.7 .3 .9 .3 -.7 .3 -.3 .3 .8 .4 0 .3 -2.4 .3 -4.2 .3 2.8 .3 -3.1 .3 1 .3 -1.6 .3 2.6 .3 -.4 .3 .3 .3 -.7 .3 5.3 .3 -2.7 .3 -.6 .3 0 .3 2.6 .3 -.9 .3 -4.8 .3 5.6 .4 -3.3 .3 -2 .3 1.4 .3 7 .3 -5.3 .3 1.5 .3 -.3 .3 5.3 .3 -5.3 .3 4.1 .3 -5.7 .3 1.6 .3 -2.6 .3 5.9 .3 3.5 .3 -4.9 .3 .1 .3 3.4 .3 -3.1 .4 2 .3 6.1 .3 -2.4 .3 -.5 .3 -.1 .3 .7 .3 .6 .3 -1.1 .3 -2.6 .3 .4 .3 .7 .3 -2.3 .3 -.8 .3 2.8 .3 -5.4 .3 1.3 .3 -3.4 .3 5.4 .3 -5.7 .4 3 .3 2.8 .3 -5 .3 1.2 .3 -6.5 .3 3.7 .3 2.6 .3 -2.3 .3 -.5 .3 -3.6 .3 2.9 .3 -2.8 .3 5.9 .3 -2.5 .3 -2.6 .3 3.5 .3 2 .3 1.1 .3 1.7 .4 -1.4 .3 2.3 .3 -2.4 .3 3.6 .3 2.3 .3 -3.1 .3 3.3 .3 -3.9 .3 2.1 .3 -6.7 .3 -1.4 .3 .8 .3 -1 .3 2.4 .3 -.8 .3 1.8 .3 .7 .3 -3.8 .4 1.1 .3 .1 .3 -1.1 .3 .2 .3 3.9 .3 -1.7 .3 1.7 .3 -.7 .3 -.1 .3 -4.4 .3 -1.1 .3 8.9 .3 -5.5 .3 .8 .3 3.9 .3 -4 .3 -2.4 .3 -.1 .3 -2.7 .4 8 .3 -1.4 .3 -1.5 .3 -1.1 .3 -.6 .3 2 .3 -1.9 .3 1.3 .3 -1.1 .3 6.9 .3 -10.5 .3 6.2 .3 1.6 .3 -3.3 .3 2.7 .3 -3.9 .3 2.4 .3 -3.1 .3 .9 .4 -1.3 .3 1.8 .3 .1 .3 -1.7 .3 3.5 .3 -3.6 .3 .9 .3 2.9 .3 -5.5 .3 -.1 .3 6 .3 -3.6 .3 -2.4 .3 .4 .3 3.5 .3 3 .3 -4 .3 1.1 .3 .3 .4 -.3 .3 -2.1 .3 2.3 .3 -.9 .3 -7.1 .3 6.9 .3 -1.3 .3 2.9 .3 -.1 .3 1.3 .3 -3.2 .3 .3 .3 -2.7 .3 -2.5 .3 2.5 .3 .3 .3 3 .3 -1.9 .3 -2.6 .4 2.9 .3 2.1 .3 -2.6 .3 2.3 .3 -.1 .3 1 .3 -5.2 .3 6.5 .3 -.2 .3 -.6 .3 -2.8 .3 3.8 .3 -4.3 .3 2.3 .3 .9 .3 4 .3 -6.9 .3 4.3 .3 1.6 .4 2.3 .3 -.1 .3 .7 .3 -6.8 .3 .1 .3 1.2 .3 .5 .3 -2.1 .3 -3.5 .3 -5.5 .3 .7 .3 2.5 .3 -.1 .3 -3.1 .3 .1 .3 -1.3 .3 -2.8 .3 -1.7 .3 -1.2"/><path stroke="#ff0000" d="M26.4 421.3l.4 -23.2 .3 -.9 .3 -.9 .3 -1.1 .3 .6 .3 -2.7 .3 -.6 .3 -3.2 .3 5.4 .3 -2 .3 -.9 .3 0 .3 -.5 .3 -.9 .3 .5 .3 .7 .3 -2 .3 .7 .4 -.6 .3 -2.5 .3 -2.6 .3 -.8 .3 3.5 .3 -1.5 .3 -1.8 .3 .3 .3 5 .3 2.1 .3 -5.2 .3 -1.8 .3 1 .3 1.7 .3 -4.9 .3 .8 .3 2.4 .3 .8 .3 2.6 .4 -3.9 .3 4.5 .3 -4.9 .3 -1.4 .3 2.3 .3 -2 .3 3.6 .3 -2.9 .3 -.1 .3 .1 .3 3.1 .3 -4.5 .3 1 .3 2.6 .3 -.5 .3 -1.6 .3 -3.8 .3 3.6 .3 -.6 .4 2.4 .3 1.1 .3 2 .3 -4.7 .3 .6 .3 2.1 .3 .9 .3 -2.8 .3 1.3 .3 2.3 .3 -2 .3 -1.7 .3 .1 .3 -2.6 .3 3.2 .3 -2.9 .3 4 .3 -2.7 .3 .8 .4 1.9 .3 -2.9 .3 3.3 .3 .4 .3 -1.9 .3 1.6 .3 -3.3 .3 1.4 .3 -.4 .3 .5 .3 .8 .3 -.3 .3 0 .3 1.2 .3 -5.9 .3 8.2 .3 -3 .3 -1.6 .3 1.1 .4 -2.1 .3 1.9 .3 3.7 .3 -1.6 .3 2.2 .3 -4 .3 -1.5 .3 2.7 .3 -2.6 .3 1.5 .3 .5 .3 -1 .3 3.1 .3 -3.2 .3 .1 .3 -1.8 .3 0 .3 2.4 .3 .1 .4 -2 .3 -.4 .3 6.8 .3 -5.8 .3 -3.4 .3 3.9 .3 -2.1 .3 -1.5 .3 5 .3 -3.8 .3 -1.1 .3 1.3 .3 3.4 .3 -3.4 .3 2.5 .3 -2.8 .3 .3 .3 1.1 .4 -2.2 .3 2.8 .3 -.3 .3 2.2 .3 -4.1 .3 -1.1 .3 1.4 .3 1.5 .3 1.7 .3 -.5 .3 -2.1 .3 3.9 .3 -5.4 .3 3.2 .3 -3.5 .3 .4 .3 3.8 .3 -3.5 .3 1.8 .4 -1.5 .3 -.6 .3 2 .3 -.8 .3 -.8 .3 1.5 .3 -2.6 .3 -1 .3 .5 .3 1.3 .3 1.4 .3 -2.5 .3 6.6 .3 -4.5 .3 0 .3 -2.3 .3 -.3 .3 -.4 .3 1.7 .4 -.7 .3 3.3 .3 -2.2 .3 4.9 .3 -8.2 .3 .1 .3 6 .3 -.2 .3 3.1 .3 -2.4 .3 -3.6 .3 1.7 .3 3 .3 -2.4 .3 .4 .3 -3.4 .3 -.5 .3 2.6 .3 -.8 .4 2 .3 3.2 .3 -5 .3 .9 .3 -.9 .3 4.3 .3 -6.2 .3 3.4 .3 -.4 .3 -2.9 .3 7 .3 -1.1 .3 -4.1 .3 3.1 .3 .5 .3 -4.2 .3 1.7 .3 -.3 .3 1.8 .4 -.1 .3 -3.5 .3 -2.3 .3 4.4 .3 -2.7 .3 0 .3 1.9 .3 -.7 .3 3.6 .3 -1.8 .3 -2.5 .3 2.1 .3 -4.4 .3 5.1 .3 -1 .3 2.1 .3 -2.1 .3 -3.1 .3 5 .4 -2.8 .3 1.1 .3 -.1 .3 -2.4 .3 0 .3 -2.5 .3 1.6 .3 1.8 .3 .1 .3 4.6 .3 -2.6 .3 -1.5 .3 .4 .3 3.6 .3 -6.1 .3 .5 .3 3.3 .3 -1.2 .3 -2.1 .4 5 .3 -1.3 .3 -2.1 .3 -1.1 .3 -.2 .3 -1.5 .3 3.2 .3 -.7 .3 -4.7 .3 6.8 .3 -4.1 .3 -1.6 .3 2.2 .3 -3.3 .3 1.6 .3 -.7 .3 5.2 .3 -6.7 .4 -.5 .3 3.7 .3 -4.5 .3 2.3 .3 -.9 .3 -2 .3 2.8 .3 1.6 .3 -2.5 .3 1.1 .3 -1.2 .3 .6 .3 -.5 .3 -2.8 .3 -.6 .3 3.3 .3 -2.5 .3 4.4 .3 -2.6 .4 1 .3 -3.2 .3 .2 .3 1.1 .3 -2.2 .3 .5 .3 -2.7 .3 3.3 .3 -.6 .3 -1.6 .3 -3 .3 1.7 .3 -.9 .3 1.6 .3 1.6 .3 -.7 .3 1.8 .3 -4.5 .3 4.3 .4 -1.4 .3 3.6 .3 -4.7 .3 3.4 .3 -4.5 .3 5.5 .3 -2.3 .3 -.6 .3 1.4 .3 -3.6 .3 3 .3 -3.7 .3 5.3 .3 .5 .3 2.7 .3 -4.2 .3 -2 .3 -.8 .3 2.3 .4 .8 .3 -6.9 .3 3.5 .3 4.2 .3 -2.5 .3 2.7 .3 -7.6 .3 -1.3 .3 .2 .3 3.1 .3 1.8 .3 .7 .3 -5.2 .3 2 .3 -1.4 .3 .9 .3 -1.2 .3 -2.1 .3 -.6 .4 2.5 .3 1.9 .3 4 .3 2 .3 -1.1 .3 -3.1 .3 .4 .3 -1.4 .3 .2 .3 1.3 .3 2.7 .3 -1.7 .3 1.4 .3 -5.1 .3 1.9 .3 .7 .3 -4.6 .3 5.3 .3 -1.9 .4 2.4 .3 -1.4 .3 1.6 .3 -2.1 .3 -1.6 .3 4.6 .3 .9 .3 -5.6 .3 1.1 .3 -.1 .3 2.8 .3 -4.9 .3 -1.6 .3 4.7 .3 -2.7 .3 1.4 .3 1.1 .3 -3.9 .4 -1.6 .3 3 .3 .5 .3 -5.3 .3 2 .3 -1.8 .3 3.4 .3 -1 .3 -2.8 .3 -1.8 .3 0 .3 -2.9 .3 3.2 .3 2.6 .3 -1.1 .3 -2.3 .3 -1.8 .3 5.2 .3 -.1 .4 -.1 .3 1.9 .3 -1.3 .3 -1.4 .3 -1 .3 -.5 .3 1.7 .3 -.4 .3 2.7 .3 -4.4 .3 1 .3 1.8 .3 3.1 .3 -7 .3 11.9 .3 -4.5 .3 -.2 .3 -2.1 .3 4.7 .4 -2.5 .3 1.4 .3 -.3 .3 -4 .3 -.1 .3 .9 .3 .6 .3 3.9 .3 -7.5 .3 3.6 .3 2.5 .3 -5 .3 -3.1 .3 4 .3 -.3 .3 -4.9 .3 3.6 .3 1.2 .3 -.7 .4 5.3 .3 -3 .3 -.4 .3 -4.7 .3 7.1 .3 -.5 .3 2.8 .3 -2.9 .3 .4 .3 .4 .3 2.5 .3 -3.8 .3 2.8 .3 .1 .3 -.9 .3 1.1 .3 1.2 .3 0 .3 -2.6 .4 1.7 .3 -4.4 .3 4.1 .3 2.4 .3 -5.1 .3 -3.8 .3 2 .3 -.7 .3 -.3 .3 -2.9 .3 3.3 .3 .7 .3 2.1 .3 1.6 .3 -5.8 .3 1.3 .3 5.2 .3 -4.3 .3 1.1 .4 -.5 .3 1.7 .3 -2.2 .3 4.7 .3 -1.3 .3 -1.3 .3 1 .3 .4 .3 -.9 .3 -.5 .3 2.4 .3 -2.2 .3 1.3 .3 -3.4 .3 6.4 .3 -1.1 .3 -1.5 .3 2 .3 -.6 .4 .9 .3 -.7 .3 2.1 .3 -1.3 .3 .4 .3 2.5 .3 -3.8 .3 3.3 .3 -1.3 .3 -1.9 .3 1 .3 3.4 .3 -2.8 .3 2.4 .3 -.9 .3 -5.2 .3 2.9 .3 -2.3 .4 3.1 .3 .1 .3 2.5 .3 -3.4 .3 1.1 .3 -1.3 .3 .6 .3 .4 .3 -1.5 .3 .6 .3 .5 .3 2 .3 3.7 .3 -5.9 .3 -3.5 .3 3 .3 -3.8 .3 3.1 .3 3.9 .4 .3 .3 -3.3 .3 .3 .3 1 .3 -.7 .3 1.4 .3 -2.7 .3 .9 .3 -1 .3 -.9 .3 2.7 .3 -3 .3 .1 .3 4.8 .3 -5.2 .3 6.9 .3 -1.5 .3 -1.4 .3 7.1 .4 -7.2 .3 .3 .3 2.3 .3 -1 .3 -.2 .3 -.6 .3 -2.1 .3 4 .3 -1.2 .3 -.6 .3 -1.6 .3 -.2 .3 5.1 .3 .9 .3 -3.7 .3 .6 .3 1.4 .3 -3.5 .3 -2 .4 .8 .3 -2.3 .3 4.5 .3 -2.4 .3 -4.6 .3 2.6 .3 4 .3 -3.3 .3 -2.5 .3 -.6 .3 2.8 .3 .4 .3 4.1 .3 -1.5 .3 -3.2 .3 4.1 .3 -2.1 .3 3.3 .3 -7 .4 2.9 .3 -.8 .3 4.7 .3 -1.9 .3 -6.9 .3 5 .3 0 .3 -.7 .3 .6 .3 4.2 .3 -3.6 .3 -1 .3 .4 .3 -2.3 .3 3.2 .3 -1.3 .3 -1.4 .3 1.9 .3 .1 .4 -2.5 .3 .7 .3 .5 .3 .7 .3 -.2 .3 .2 .3 -2.6 .3 -.1 .3 4.6 .3 -4.5 .3 4 .3 -4.6 .3 3.3 .3 -3.2 .3 -1.7 .3 5 .3 -5.3 .3 1.8 .3 -.8 .4 -1.7 .3 .7 .3 -2.2 .3 4.1 .3 -1.6 .3 -.1 .3 .4 .3 3.4 .3 -3.9 .3 -1.6 .3 4.9 .3 2 .3 .1 .3 -1.3 .3 -1.3 .3 3.4 .3 3 .3 -5.7 .4 1.3 .3 -1.2 .3 -1.4 .3 3.9 .3 -1.6 .3 .3 .3 -1.9 .3 -1.3 .3 2.4 .3 1.8 .3 -4.2 .3 .7 .3 2.6 .3 3.2 .3 -2.1 .3 -1.6 .3 -1.3 .3 1.5 .3 -1.7 .4 2.5 .3 -.1 .3 -3.6 .3 1.3 .3 .5 .3 -1 .3 -2.3 .3 2.6 .3 0 .3 1.5 .3 1.9 .3 -3 .3 1.2 .3 4.4 .3 -4.3 .3 1.8 .3 -1.6 .3 -.2 .3 .1 .4 .1 .3 4.8 .3 -3.4 .3 2.1 .3 1.6 .3 .1 .3 -6.7 .3 2.8 .3 -2 .3 -.1 .3 1 .3 2.2 .3 -4.5 .3 -.4 .3 .5 .3 -1.7 .3 .3 .3 4.6 .3 -1 .4 -2.9 .3 .9 .3 .2 .3 -2.6 .3 -.6 .3 4.6 .3 -1.6 .3 1.8 .3 .4 .3 .3 .3 1.5 .3 -3 .3 .2 .3 -4.1 .3 -2.1 .3 3.2 .3 -1.1 .3 2.6 .3 .5 .4 -.5 .3 -.1 .3 -.6 .3 -.2 .3 -3.4 .3 3.7 .3 2.2 .3 -4.7 .3 4.4 .3 -1.7 .3 -1.3 .3 3.5 .3 -.3 .3 -1.7 .3 2.7 .3 -1.9 .3 -.7 .3 -.2 .3 1 .4 -.7 .3 .6 .3 4 .3 1.9 .3 -2.7 .3 -3.1 .3 1 .3 5.7 .3 -3.9 .3 -1.8 .3 3.2 .3 -4.9 .3 3.9 .3 -3.1 .3 2 .3 -6.9 .3 7.2 .3 -2.9 .4 4.3 .3 -5.9 .3 2.5 .3 -1.3 .3 1.5 .3 1.6 .3 -1.2 .3 .4 .3 -1.1 .3 -1.9 .3 .6 .3 1.2 .3 -.3 .3 1.8 .3 -3.7 .3 3.4 .3 -1.5 .3 -1.7 .3 1.7 .4 1.4 .3 -.1 .3 -1.2 .3 1.6 .3 .3 .3 -1.1 .3 -.3 .3 -5.7 .3 2.1 .3 2.1 .3 -3.6 .3 .7 .3 .4 .3 1.4 .3 -1.7 .3 1.1 .3 -.7 .3 1.5 .3 -4.5 .4 6.5 .3 -2.2 .3 2.2 .3 5.1 .3 -1.6 .3 1.6 .3 .8 .3 -5.7 .3 4 .3 -2.9 .3 2.5 .3 -2.5 .3 2.7 .3 -3.2 .3 2.9 .3 .5 .3 -1.1 .3 -2.7 .3 2.1 .4 -.4 .3 3.5 .3 -1.5 .3 -2.4 .3 4.1 .3 -5.5 .3 1.6 .3 .6 .3 .4 .3 -.2 .3 -.1 .3 -3.3 .3 1.5 .3 .2 .3 2.7 .3 2.3 .3 -5.5 .3 5.5 .3 -2.4 .4 -4.3 .3 .9 .3 4.1 .3 -1.4 .3 .4 .3 1 .3 .7 .3 -3.9 .3 2.6 .3 1 .3 4.2 .3 -4.5 .3 2.1 .3 -4.9 .3 .5 .3 1.2 .3 -.5 .3 0 .3 .2 .4 -.1 .3 -.5 .3 -.2 .3 -.5 .3 -3.8 .3 2.7 .3 -1.2 .3 -1.5 .3 1.3 .3 1.2 .3 -2.2 .3 -.1 .3 .2 .3 4.4 .3 -3.4 .3 -.5 .3 -1 .3 4.3 .3 -.8 .4 -1.9 .3 2.3 .3 .6 .3 -2.4 .3 -2.6 .3 1.8 .3 -.9 .3 3 .3 -3.6 .3 -.6 .3 3.3 .3 -2.8 .3 .4 .3 -.4 .3 .4 .3 -2.9 .3 2.9 .3 3.1 .4 -2.3 .3 -.3 .3 2.1 .3 -2.8 .3 3.4 .3 -1 .3 -5.6 .3 3.6 .3 -.9 .3 0 .3 1.2 .3 .3 .3 .1 .3 -2.6 .3 3.5 .3 -.3 .3 -1.9 .3 1 .3 .9 .4 -4.3 .3 -1.8 .3 2 .3 3.1 .3 -3.6 .3 -2.8 .3 6 .3 .6 .3 -3.7 .3 .9 .3 -1.5 .3 1.9 .3 2.3 .3 .3 .3 1.9 .3 0 .3 1.1 .3 2 .3 -1.6 .4 .8 .3 1 .3 -2.4 .3 3.9 .3 -.8 .3 -.8 .3 3.3 .3 -2.3 .3 -2.6 .3 -.4 .3 2 .3 -.4 .3 3.3 .3 -2 .3 -.6 .3 2.1 .3 -4.9 .3 .3 .3 2.4 .4 .2 .3 -1.2 .3 2.5 .3 -4.7 .3 1.3 .3 -.4 .3 3.5 .3 -5.1 .3 -.2 .3 3.9 .3 -2.9 .3 1.8 .3 3.9 .3 -5.2 .3 -1.7 .3 .8 .3 1.6 .3 .2 .3 -.1 .4 -2.5 .3 .3 .3 1.5 .3 .4 .3 -2.3 .3 6.3 .3 -3.8 .3 .8 .3 3.1 .3 -6.7 .3 3.4 .3 -3.3 .3 -1.1 .3 3.1 .3 1.9 .3 -2.6 .3 4 .3 -4.5 .3 1.7 .4 -2.4 .3 6.6 .3 -3.1 .3 -.9 .3 4.6 .3 -6 .3 3.4 .3 -2 .3 2.1 .3 -3.1 .3 -1.8 .3 2.9 .3 -1.3 .3 -1.7 .3 4.3 .3 -.4 .3 -2.7 .3 2.1 .3 -2.2"/><path stroke="#00ff00" d="M26.4 421.3l.4 -22.4 .3 -.6 .3 -.7 .3 1 .3 -6.7 .3 1.3 .3 1.1 .3 -1.9 .3 -4.1 .3 2.5 .3 -1.4 .3 -1.2 .3 -.6 .3 -1.4 .3 1.8 .3 -.4 .3 -2.1 .3 .8 .4 1.6 .3 -5.1 .3 1.7 .3 -1 .3 -.3 .3 3.7 .3 -4.3 .3 -1.2 .3 2 .3 -.6 .3 1.4 .3 4.1 .3 -4 .3 .3 .3 -4 .3 1.4 .3 1.2 .3 1.5 .3 -4.7 .4 1.1 .3 2.5 .3 -1.4 .3 .4 .3 0 .3 -.8 .3 .8 .3 -1.2 .3 1.4 .3 .9 .3 .3 .3 -3.3 .3 -3 .3 1.2 .3 3.5 .3 .6 .3 -4.5 .3 1.3 .3 3.1 .4 -3.1 .3 0 .3 -3.2 .3 3.2 .3 -2.2 .3 1.4 .3 1.1 .3 0 .3 .5 .3 -4.8 .3 2.3 .3 3.1 .3 -5.1 .3 -2.1 .3 0 .3 -.6 .3 7.1 .3 -2 .3 .9 .4 -2.4 .3 5 .3 -3.6 .3 1 .3 .6 .3 -2.2 .3 -2.2 .3 2.2 .3 -1.4 .3 1.3 .3 2.1 .3 .6 .3 .1 .3 -1.6 .3 3.8 .3 .4 .3 -3.2 .3 2.5 .3 -.9 .4 0 .3 1.2 .3 -1.7 .3 -2.1 .3 .5 .3 5.2 .3 -.8 .3 -5.2 .3 1.1 .3 5.9 .3 -1.9 .3 -2.8 .3 1.4 .3 -3.1 .3 -1.3 .3 -1 .3 3.2 .3 -.8 .3 -2.8 .4 5.8 .3 -5.3 .3 2.6 .3 -1.4 .3 .4 .3 3.1 .3 -.8 .3 -4 .3 -1.9 .3 -2 .3 -1.8 .3 .4 .3 1.8 .3 1.2 .3 -4.6 .3 -.1 .3 .7 .3 5.4 .4 -1.6 .3 2.8 .3 -4.7 .3 2.5 .3 -.8 .3 -.2 .3 0 .3 -1.7 .3 5.8 .3 1.5 .3 -8.4 .3 .4 .3 1 .3 3.4 .3 .3 .3 -.3 .3 2.1 .3 -1.3 .3 -2.5 .4 2.1 .3 -5.2 .3 8.4 .3 -2.6 .3 -4 .3 3.9 .3 .9 .3 .6 .3 -1.8 .3 -6.2 .3 2.2 .3 -.6 .3 .8 .3 -3.5 .3 0 .3 4.3 .3 -2.6 .3 -1.3 .3 -2.7 .4 1.4 .3 -1.8 .3 -3.5 .3 6.4 .3 -.1 .3 -3.5 .3 1.5 .3 .4 .3 .1 .3 -.8 .3 -1.8 .3 .7 .3 -1 .3 5 .3 -.8 .3 -2.5 .3 1.9 .3 -2.9 .3 1.5 .4 -.4 .3 -.5 .3 .6 .3 3 .3 -.3 .3 -.7 .3 -.3 .3 -2.2 .3 -3 .3 .7 .3 -3 .3 -.2 .3 3.5 .3 -3.6 .3 1.4 .3 4.6 .3 -3 .3 -.3 .3 .2 .4 -1.8 .3 .1 .3 -.3 .3 2.8 .3 -2.1 .3 1.8 .3 -2.3 .3 4.4 .3 -4.2 .3 -2 .3 1.8 .3 .8 .3 .2 .3 1.8 .3 .3 .3 -2.5 .3 -1.3 .3 .1 .3 3.3 .4 -3.8 .3 6.2 .3 -2.5 .3 -1 .3 -1 .3 3.2 .3 2.9 .3 -5.6 .3 2 .3 1.3 .3 -.5 .3 1.1 .3 -.8 .3 -.9 .3 5.2 .3 -9 .3 5.8 .3 2.5 .3 -1.1 .4 1.3 .3 -6.2 .3 4 .3 3.1 .3 -.3 .3 .5 .3 -2.3 .3 -.7 .3 2.2 .3 -4.4 .3 3.1 .3 1.4 .3 -4.2 .3 6.7 .3 -1.9 .3 -2.3 .3 1.5 .3 -.9 .4 -1.6 .3 1.7 .3 -1.8 .3 2.2 .3 1.3 .3 -7.2 .3 4.1 .3 -.2 .3 -5.2 .3 -.4 .3 3.4 .3 .4 .3 -1.8 .3 .1 .3 -2.3 .3 .9 .3 -.1 .3 -2.8 .3 1.8 .4 -3.5 .3 -.7 .3 8.2 .3 -6.4 .3 4.7 .3 2 .3 -4.2 .3 4.7 .3 -.5 .3 -4.5 .3 5.2 .3 -.9 .3 -1.3 .3 -2 .3 2.4 .3 6.9 .3 -1.8 .3 -1.4 .3 -3.1 .4 3 .3 -.7 .3 -.1 .3 4.6 .3 -1.6 .3 -1.4 .3 3.1 .3 -3.4 .3 -2.5 .3 3.7 .3 -2.9 .3 .6 .3 -1.6 .3 2.2 .3 -2.2 .3 -3.4 .3 1.7 .3 2.6 .3 -1.9 .4 -2.7 .3 3.6 .3 -.6 .3 -5.4 .3 5.5 .3 0 .3 .4 .3 -.9 .3 -7.1 .3 3.6 .3 3.6 .3 -1.1 .3 -1.9 .3 -.7 .3 2 .3 -2.1 .3 5 .3 -3.6 .3 .1 .4 -1.7 .3 3.4 .3 .6 .3 -3 .3 5.2 .3 -3.2 .3 -1.8 .3 -.3 .3 2.8 .3 .5 .3 -1.4 .3 2.7 .3 -1.9 .3 -1.7 .3 -1.5 .3 4 .3 -.4 .3 2.7 .3 -5.5 .4 2.3 .3 -1.8 .3 1.7 .3 -1.1 .3 -1 .3 .9 .3 4.5 .3 -6.9 .3 2.8 .3 1.6 .3 -2 .3 .4 .3 -.4 .3 1.9 .3 -3.1 .3 .2 .3 -.2 .3 2.2 .4 -2.7 .3 -1.8 .3 -1.4 .3 3 .3 -3.1 .3 1.8 .3 2.5 .3 -4.7 .3 3 .3 -3.8 .3 -1.3 .3 3.9 .3 1.7 .3 -5.9 .3 3.9 .3 .3 .3 -1.2 .3 2.8 .3 .5 .4 -.4 .3 3.6 .3 -8.1 .3 5.3 .3 .6 .3 -4.2 .3 -1 .3 2.2 .3 -2.4 .3 1 .3 -2.1 .3 1.3 .3 -1.6 .3 -3.2 .3 .7 .3 -.6 .3 -.2 .3 .4 .3 1.4 .4 -2.4 .3 -1.4 .3 2.1 .3 -1.6 .3 1.4 .3 -1.3 .3 -.9 .3 .8 .3 1.2 .3 1.4 .3 -.7 .3 -3.3 .3 0 .3 0 .3 1.8 .3 1.1 .3 -1.5 .3 1 .3 3.6 .4 -4.3 .3 -.2 .3 -3.4 .3 4.6 .3 .8 .3 -5.9 .3 6.4 .3 -3.1 .3 3 .3 1.2 .3 1.5 .3 -2.2 .3 -1 .3 1.5 .3 -.8 .3 1.7 .3 -3.7 .3 .9 .3 0 .4 5.6 .3 -3.6 .3 1.7 .3 -3.9 .3 -1 .3 2.8 .3 -2.8 .3 -3.4 .3 1.4 .3 -1.6 .3 2 .3 -.1 .3 .2 .3 -3.3 .3 -4.5 .3 -.1 .3 2.9 .3 3.5 .3 -.5 .4 .9 .3 3.6 .3 .9 .3 -3.5 .3 3 .3 -5.2 .3 3.3 .3 3.7 .3 -1.7 .3 -4.3 .3 7.6 .3 -1.9 .3 .1 .3 -1.5 .3 3.7 .3 2.3 .3 -1.4 .3 1.3 .3 -2.6 .4 2.2 .3 -5.2 .3 4.1 .3 -.4 .3 2.3 .3 -1.7 .3 .7 .3 1.7 .3 -2 .3 3.5 .3 -.2 .3 -3 .3 3.2 .3 1.3 .3 -4.5 .3 1.6 .3 7.6 .3 -5 .4 -2 .3 -.5 .3 2.6 .3 -4.7 .3 3.1 .3 -.1 .3 -.7 .3 .3 .3 -2.4 .3 .5 .3 2 .3 -3.8 .3 3.1 .3 -1.2 .3 -3.9 .3 3.4 .3 -3.3 .3 1.4 .3 -.4 .4 -.5 .3 -.6 .3 2.6 .3 -.2 .3 -.9 .3 -1.1 .3 2.7 .3 .4 .3 -1.6 .3 3.4 .3 2.5 .3 -6.4 .3 .7 .3 2.2 .3 1.2 .3 .8 .3 1.8 .3 -4.5 .3 4.2 .4 -4.3 .3 3.4 .3 -2.8 .3 -2.3 .3 .2 .3 4.7 .3 -1.6 .3 2.4 .3 -1.2 .3 -1.5 .3 -2.9 .3 5.5 .3 -2.2 .3 -.6 .3 2.7 .3 .5 .3 -1 .3 2.5 .3 -3.5 .4 -.6 .3 2.8 .3 -5 .3 .1 .3 -.9 .3 -.3 .3 3.3 .3 0 .3 1.1 .3 -.5 .3 .1 .3 -5.1 .3 -2.8 .3 6.1 .3 -1 .3 3.7 .3 -3 .3 .2 .3 .6 .4 -2.3 .3 .4 .3 -.6 .3 1.3 .3 -.4 .3 -1.4 .3 .3 .3 -2.1 .3 2.7 .3 -3.2 .3 .8 .3 -2 .3 .3 .3 1.5 .3 .8 .3 3 .3 -3 .3 -2.6 .3 -.7 .4 7.8 .3 -2.7 .3 -2 .3 1.6 .3 -1.9 .3 1.6 .3 .5 .3 -1.6 .3 5 .3 -2.8 .3 -1.3 .3 -3 .3 5.3 .3 -4.4 .3 -1.9 .3 3.7 .3 -1.6 .3 3.2 .3 -2.1 .4 1 .3 -4.4 .3 3.4 .3 -2 .3 3 .3 -1.1 .3 -2.3 .3 2.9 .3 -2.3 .3 .6 .3 -1.8 .3 -1.4 .3 7.3 .3 -4.4 .3 1.8 .3 1.4 .3 .6 .3 -.7 .4 3.6 .3 .8 .3 .7 .3 -3.4 .3 -1 .3 .8 .3 1.5 .3 1.8 .3 4 .3 -3.7 .3 .2 .3 .1 .3 -1.8 .3 2.8 .3 -.3 .3 4.2 .3 -7.6 .3 .9 .3 1 .4 -1.5 .3 3.7 .3 .1 .3 -5.6 .3 3.7 .3 -1 .3 -1.2 .3 -1.4 .3 .7 .3 -2.9 .3 4.3 .3 -.9 .3 1 .3 .5 .3 3.5 .3 -2.9 .3 -6.7 .3 -1 .3 5.3 .4 0 .3 -2.5 .3 2.3 .3 -4.4 .3 5.7 .3 .4 .3 3.6 .3 -10.2 .3 3 .3 -3 .3 6.1 .3 -4.1 .3 -.6 .3 -.7 .3 -3.8 .3 .9 .3 -.2 .3 4.1 .3 -2.4 .4 -1.6 .3 3.7 .3 -.8 .3 -.2 .3 2.1 .3 -3.6 .3 -2.7 .3 7.7 .3 -2 .3 -1.7 .3 4.7 .3 -1 .3 4.6 .3 -3.3 .3 1.6 .3 -.6 .3 1.1 .3 -2.2 .3 3.1 .4 3.9 .3 -10.6 .3 4.5 .3 1.7 .3 .2 .3 -3.4 .3 4.1 .3 -1.8 .3 0 .3 -1.2 .3 1.5 .3 -1.1 .3 .2 .3 .2 .3 -3.2 .3 1.4 .3 1.3 .3 -2.8 .3 .5 .4 .2 .3 -1 .3 -5.7 .3 4.3 .3 -1.3 .3 1.3 .3 -2.8 .3 1.9 .3 2.9 .3 .9 .3 -4.7 .3 1.4 .3 5 .3 -.2 .3 -2.8 .3 .3 .3 4.5 .3 -1.7 .4 -2.8 .3 1.6 .3 .5 .3 .4 .3 2.5 .3 -2.7 .3 -.4 .3 4.1 .3 -4.6 .3 -4.4 .3 1.3 .3 -1.1 .3 1.1 .3 -3.4 .3 4.5 .3 -5.2 .3 4.5 .3 -.5 .3 -2.4 .4 -.7 .3 .7 .3 0 .3 -1.6 .3 -1.4 .3 -2 .3 .9 .3 -3.1 .3 4.8 .3 2.1 .3 1.8 .3 -5.1 .3 4.1 .3 2.1 .3 -5.6 .3 -.5 .3 .8 .3 6.4 .3 -1.9 .4 -1.7 .3 1.6 .3 3.8 .3 -.8 .3 4.8 .3 -1.8 .3 -6.5 .3 1.7 .3 3.5 .3 .1 .3 -3.4 .3 2.3 .3 -3.3 .3 3.4 .3 -2.2 .3 -1.5 .3 2.5 .3 .5 .3 -.5 .4 -2.1 .3 -.2 .3 -.2 .3 .1 .3 -2.6 .3 3.2 .3 -5.6 .3 -.7 .3 1.8 .3 -1.2 .3 -1.6 .3 .2 .3 1.3 .3 -.5 .3 2.2 .3 2.8 .3 -5.5 .3 -.6 .3 5.6 .4 -2 .3 .1 .3 .4 .3 .9 .3 -2.9 .3 2.7 .3 -2.3 .3 1.1 .3 -5.5 .3 3.2 .3 1.3 .3 -1.4 .3 -3.4 .3 .4 .3 2.3 .3 -.3 .3 2.3 .3 -1.1 .3 -.2 .4 2.6 .3 -5.1 .3 8.7 .3 -4.2 .3 .4 .3 .6 .3 -2.9 .3 5.2 .3 -.4 .3 -2.2 .3 -1.1 .3 .2 .3 1.1 .3 -4.6 .3 4.1 .3 -2.8 .3 -4.4 .3 .6 .3 2.9 .4 2 .3 -1.1 .3 .7 .3 .4 .3 0 .3 -1.8 .3 1.5 .3 2.5 .3 .1 .3 2.8 .3 -4.9 .3 7.5 .3 -5.2 .3 4.3 .3 -.5 .3 1.1 .3 -6.6 .3 2.5 .4 -5 .3 8.4 .3 .5 .3 -5.4 .3 1.8 .3 1.8 .3 2.4 .3 -8.2 .3 2.4 .3 -.2 .3 1.9 .3 -2.9 .3 3.1 .3 -2.2 .3 1.1 .3 -3.7 .3 5.4 .3 -1.1 .3 -1.5 .4 2.7 .3 -.7 .3 .9 .3 -3.4 .3 4.1 .3 -4.2 .3 -2.9 .3 4.4 .3 1.9 .3 -.1 .3 -1.9 .3 2.1 .3 -1 .3 -1.6 .3 1.5 .3 -2.5 .3 5.1 .3 -4 .3 7.7 .4 -2 .3 -.5 .3 -.8 .3 -.1 .3 5.3 .3 4.1 .3 -6.1 .3 2.8 .3 -3 .3 -4.4 .3 1.2 .3 -.2 .3 .1 .3 -3.6 .3 -1.9 .3 4.4 .3 -7 .3 3.6 .3 -3.2 .4 2.9 .3 -3.2 .3 .3 .3 1.8 .3 -.3 .3 -1.3 .3 -.6 .3 .6 .3 1.1 .3 -.7 .3 -2.1 .3 6.7 .3 -4.6 .3 3.6 .3 -4.3 .3 1.5 .3 -.4 .3 1.7 .3 -1.8 .4 -3.2 .3 -3.1 .3 7 .3 -1.9 .3 -8 .3 4.3 .3 1.8 .3 .3 .3 5.4 .3 -8.7 .3 3 .3 3.2 .3 -4.5 .3 3.9 .3 0 .3 -3.2 .3 1 .3 -.2 .3 .2 .4 3.4 .3 .8 .3 -5.6 .3 -1.5 .3 2.2 .3 -.2 .3 3.5 .3 -.4 .3 1.8 .3 -6.6 .3 3.6 .3 -.8 .3 -3.3 .3 3.9 .3 -7.7 .3 4.1 .3 .4 .3 -1.6 .3 4.9"/></g>
<rect x="26.45" y="312.45" width="305.00" height="108.85" fill="none" stroke="#000" stroke-width="1.2"/>
<text x="14.4" y="427.1" class="tk" text-anchor="end">0</text>
<text x="14.4" y="402.8" class="tk" text-anchor="end">1</text>
<text x="14.4" y="378.5" class="tk" text-anchor="end">2</text>
<text x="14.4" y="354.2" class="tk" text-anchor="end">3</text>
<text x="14.4" y="329.9" class="tk" text-anchor="end">4</text>
<text x="26.4" y="443.8" class="tk" text-anchor="middle">0</text>
<text x="87.5" y="443.8" class="tk" text-anchor="middle">20</text>
<text x="148.4" y="443.8" class="tk" text-anchor="middle">40</text>
<text x="209.4" y="443.8" class="tk" text-anchor="middle">60</text>
<text x="270.4" y="443.8" class="tk" text-anchor="middle">80</text>
<text x="331.4" y="443.8" class="tk" text-anchor="middle">100</text>
<path d="M17.85 421.50H26.45M17.85 397.50H26.45M17.85 372.50H26.45M17.85 348.50H26.45M17.85 324.50H26.45M26.50 421.30V428.80M87.50 421.30V428.80M148.50 421.30V428.80M209.50 421.30V428.80M270.50 421.30V428.80M331.50 421.30V428.80" stroke="#000" stroke-width="1.2" fill="none"/>
<ellipse cx="402.40" cy="25.40" rx="12.2" ry="10.8" fill="#d9d9d9"/>
<text x="403.00" y="31.20" class="lt">D</text>
<text x="435.35" y="110.3" fill="#000000" stroke="#000000" class="lg" textLength="71.46" lengthAdjust="spacing">Ref/HDAC6</text>
<text x="538.35" y="109.9" fill="#ff0000" stroke="#ff0000" class="lg" textLength="117.53" lengthAdjust="spacing">Bexarotene/HDAC6</text>
<g clip-path="url(#cD)" fill="none" stroke-width="0.90" stroke-linejoin="round"><path stroke="#000000" d="M382.9 117.4l.2 -47.5 .2 -1.7 .2 .3 .2 -2.8 .1 -2.8 .2 .9 .2 -4.6 .2 2.2 .2 -4.7 .2 2.3 .2 -.7 .2 .7 .2 -2.2 .2 1.5 .1 -.2 .2 1.1 .2 1.5 .2 .5 .2 -5.7 .2 .9 .2 -1.8 .2 1.4 .2 -.2 .1 -6.9 .2 11.9 .2 -4.1 .2 -3.2 .2 -3 .2 7.6 .2 1.5 .2 2.1 .2 -1.1 .2 -3.1 .1 .5 .2 -2.5 .2 -.5 .2 5.6 .2 2.1 .2 -2.4 .2 -3.7 .2 -4.8 .2 11.9 .2 -8.1 .1 4.7 .2 -4.5 .2 -3 .2 3.9 .2 2.3 .2 -.7 .2 -2 .2 1.4 .2 .5 .1 2.1 .2 -2.3 .2 -.1 .2 -2.8 .2 -.7 .2 -.3 .2 7.6 .2 -4.3 .2 .9 .2 -1.3 .1 2.5 .2 .5 .2 -7.1 .2 7.7 .2 1.5 .2 -1.3 .2 -6.4 .2 1.7 .2 6.5 .1 -.1 .2 -3.1 .2 1.2 .2 5.2 .2 -.7 .2 -1.8 .2 7.2 .2 -3.2 .2 -.9 .2 -3.2 .1 -2.3 .2 1.5 .2 2 .2 -2.2 .2 .9 .2 3.5 .2 4.8 .2 -3 .2 -1 .1 2.4 .2 -2.8 .2 -3.1 .2 4.2 .2 .7 .2 1.2 .2 -5.8 .2 -1.8 .2 5.3 .2 -6.9 .1 7.7 .2 -4.1 .2 .8 .2 -4.5 .2 5.9 .2 -5.8 .2 5.1 .2 5.7 .2 -4.9 .2 -1 .1 -5.9 .2 6.3 .2 -1.1 .2 -6.1 .2 4.4 .2 3 .2 1.8 .2 1.6 .2 -3.9 .1 -5.9 .2 5.6 .2 2.2 .2 -6.9 .2 -.5 .2 2.3 .2 -1.6 .2 .8 .2 .2 .2 -2.6 .1 9.5 .2 -3.5 .2 -2.1 .2 3 .2 -9.1 .2 13.9 .2 -8.5 .2 2.9 .2 -1 .1 -3.2 .2 4.7 .2 -1.7 .2 -7.6 .2 5.8 .2 4.5 .2 -.7 .2 2.1 .2 -6 .2 -3.2 .1 3.6 .2 -2.3 .2 3.5 .2 -5.6 .2 1.5 .2 -.1 .2 -3.3 .2 9.9 .2 -6.1 .1 7.2 .2 -6.3 .2 .4 .2 .1 .2 -1.7 .2 3.6 .2 -.5 .2 -3.3 .2 8.9 .2 -5 .1 2 .2 -3.1 .2 1.1 .2 4.7 .2 -3.8 .2 -4.5 .2 3 .2 -1.1 .2 2.5 .2 -1.7 .1 7.8 .2 -3.2 .2 -6.1 .2 2.8 .2 1 .2 .2 .2 8.7 .2 -9 .2 4.2 .1 -.5 .2 -4.4 .2 3.4 .2 .3 .2 -3.2 .2 -1.1 .2 -4.4 .2 9.7 .2 -4.7 .2 -6 .1 1.3 .2 -.6 .2 1.5 .2 -.9 .2 -4.9 .2 -4.3 .2 5.2 .2 -5.8 .2 6.6 .1 4.5 .2 -9.2 .2 9.9 .2 -5.6 .2 -2.1 .2 1.5 .2 -2.5 .2 -1.1 .2 -.8 .2 -1.3 .1 -2.3 .2 3 .2 -3.3 .2 2.6 .2 -2 .2 -.5 .2 3.8 .2 -2.9 .2 4.2 .2 9.9 .1 -3.4 .2 -8.9 .2 6.5 .2 -9.3 .2 7.3 .2 2.4 .2 3.9 .2 -2.7 .2 -1.6 .1 -.6 .2 1.3 .2 2.5 .2 3.7 .2 .9 .2 -2 .2 -.5 .2 .9 .2 1.4 .2 -1.4 .1 7.2 .2 -4.2 .2 -1.1 .2 -3.3 .2 3.3 .2 .3 .2 -6.2 .2 .9 .2 -3 .1 4 .2 3.4 .2 -1.7 .2 -6.4 .2 -1.2 .2 4.7 .2 -1.3 .2 7 .2 -8.3 .2 3.6 .1 1.6 .2 .6 .2 -4.4 .2 4.1 .2 0 .2 5.7 .2 -6.8 .2 7.8 .2 -1.9 .1 -4.3 .2 .6 .2 -2.9 .2 3.4 .2 .6 .2 -3.5 .2 6.1 .2 -10.3 .2 6.3 .2 -7.7 .1 -2.3 .2 -1 .2 2.3 .2 -1.7 .2 -.6 .2 9.8 .2 -3.9 .2 -4.1 .2 .1 .2 -.4 .1 .1 .2 -7.1 .2 10.5 .2 -3.1 .2 7.3 .2 -2 .2 -4.7 .2 6 .2 1.9 .1 -7.6 .2 4.9 .2 -5 .2 8.9 .2 -10.2 .2 11.8 .2 -2 .2 -1.9 .2 -2 .2 1 .1 -6.8 .2 .5 .2 -.6 .2 4.2 .2 2 .2 7 .2 -8 .2 3 .2 -4.4 .1 2.6 .2 .9 .2 -.4 .2 -5.2 .2 2.6 .2 3.1 .2 3.4 .2 -4.7 .2 .6 .2 1.2 .1 -4 .2 -1.2 .2 .6 .2 5.8 .2 .4 .2 -7.4 .2 5 .2 -4.3 .2 4.1 .1 -.5 .2 -5.6 .2 6.2 .2 -4.2 .2 .4 .2 3.4 .2 1.6 .2 1.4 .2 -6.6 .2 .9 .1 8.3 .2 -3.9 .2 9.3 .2 -7.3 .2 -6.2 .2 11.4 .2 -3.5 .2 5.5 .2 -3.9 .2 3.6 .1 -3.7 .2 6.7 .2 -5.4 .2 .6 .2 -.4 .2 -5.7 .2 5.7 .2 -.3 .2 2.8 .1 -7.1 .2 5.9 .2 2 .2 -7.5 .2 2.8 .2 -5.1 .2 4.4 .2 .7 .2 .9 .2 7.2 .1 -4.4 .2 -6.8 .2 3.4 .2 2.2 .2 -4.6 .2 -2 .2 -4.7 .2 11.1 .2 -.9 .1 4 .2 -.2 .2 -8.9 .2 2.7 .2 1.4 .2 -6 .2 -1.4 .2 2.1 .2 5.8 .2 -.6 .1 -7.5 .2 8.2 .2 1.1 .2 2.3 .2 -14.2 .2 7.5 .2 -2.8 .2 3.7 .2 .1 .1 2.6 .2 -8.4 .2 5.3 .2 -7.5 .2 6.6 .2 -3.5 .2 -2.6 .2 8.8 .2 -6.7 .2 3.3 .1 1.5 .2 -2.6 .2 2.4 .2 -4.1 .2 4.9 .2 -5.9 .2 -4 .2 1 .2 6.6 .2 -2.7 .1 -8.2 .2 3.2 .2 .7 .2 6.7 .2 -2.9 .2 -10.3 .2 3.5 .2 5.3 .2 -2 .1 -5.2 .2 2.6 .2 8.5 .2 -1.1 .2 -2.6 .2 -3.6 .2 6.4 .2 -.4 .2 6.3 .2 -6.7 .1 -3.1 .2 -.8 .2 5.5 .2 -4.4 .2 3.5 .2 2.3 .2 -5.6 .2 7.5 .2 -4.1 .1 1 .2 -3.8 .2 0 .2 -.1 .2 2.4 .2 -2.3 .2 4.9 .2 -5.1 .2 -8.9 .2 3.1 .1 -.5 .2 3.3 .2 .7 .2 -1.4 .2 -.5 .2 .6 .2 3.5 .2 -3.7 .2 5.5 .1 -9.8 .2 3.1 .2 1.1 .2 5.1 .2 -8 .2 -2.2 .2 5.6 .2 -1.3 .2 5.7 .2 -7.6 .1 1.6 .2 9.8 .2 -9.7 .2 3.5 .2 -.7 .2 .3 .2 1.3 .2 -6.6 .2 5.5 .2 -.9 .1 -1 .2 2.5 .2 2.3 .2 -4 .2 -.9 .2 3.7 .2 -1.6 .2 -4 .2 .7 .1 -2 .2 -1.1 .2 3.9 .2 0 .2 3.9 .2 -6.2 .2 4.9 .2 -2.5 .2 -3.5 .2 6.6 .1 4.8 .2 -1.1 .2 -2.9 .2 -7.5 .2 3.7 .2 .3 .2 4.9 .2 -4.8 .2 1.6 .1 -.8 .2 5.8 .2 -4.7 .2 7.3 .2 -4.5 .2 1 .2 -.4 .2 -3.1 .2 10.2 .2 -6.1 .1 1.3 .2 1.7 .2 -3.9 .2 -2.6 .2 3.9 .2 1.2 .2 -5.5 .2 6.8 .2 -6.4 .1 3.5 .2 -.7 .2 -1 .2 -4.1 .2 10.5 .2 -9.3 .2 7.9 .2 -5 .2 -1.8 .2 3 .1 4 .2 -.4 .2 0 .2 -2.5 .2 -1.3 .2 -1.5 .2 8.7 .2 -8.6 .2 -2.2 .2 6.2 .1 .3 .2 -6 .2 -4 .2 1.2 .2 2.8 .2 8.8 .2 -10.7 .2 5.7 .2 -2.9 .1 5.7 .2 -4.6 .2 3.7 .2 -1.3 .2 -7.6 .2 8.6 .2 -6.1 .2 3.4 .2 6.5 .2 -10.2 .1 3.4 .2 2.6 .2 .2 .2 3.2 .2 -9.2 .2 7.3 .2 -2.9 .2 4.8 .2 -7.5 .1 -2.5 .2 2.3 .2 -1 .2 6 .2 .8 .2 -4.8 .2 4.3 .2 -2.1 .2 1.8 .2 1.6 .1 -5.6 .2 -2.2 .2 -2.3 .2 1.8 .2 12 .2 -10 .2 -1.7 .2 1.7 .2 2.4 .2 -5.9 .1 1.4 .2 8.2 .2 -9.4 .2 -4.1 .2 4.4 .2 3.8 .2 -9.1 .2 3.2 .2 7.7 .1 -6.5 .2 -1.3 .2 .5 .2 6.3 .2 -.9 .2 -3.7 .2 -8.9 .2 8.4 .2 -.3 .2 2.3 .1 -2 .2 -3.6 .2 8.3 .2 -9.7 .2 7.7 .2 -.7 .2 1.2 .2 -.6 .2 -.5 .1 4.8 .2 -4.2 .2 7.1 .2 -13.6 .2 5.9 .2 6.5 .2 -6.5 .2 1.7 .2 1.2 .2 -3.6 .1 4.8 .2 -2.5 .2 -.8 .2 -3.5 .2 2.5 .2 -2 .2 11.8 .2 -11.4 .2 .7 .1 -3.1 .2 2.8 .2 -5.1 .2 4.9 .2 -.1 .2 -1.6 .2 4.1 .2 .3 .2 -5 .2 -.2 .1 .3 .2 -2.1 .2 4.3 .2 1.1 .2 -2.2 .2 .5 .2 2.4 .2 2.4 .2 -1.9 .2 1.7 .1 -4.1 .2 12.7 .2 -19.6 .2 10.9 .2 -6.3 .2 -.5 .2 -1.4 .2 5.7 .2 -7.5 .1 4.6 .2 -1.2 .2 4.4 .2 -2.4 .2 2.8 .2 -3.7 .2 -1.3 .2 1.8 .2 -.5 .2 -3.8 .1 4.6 .2 1.2 .2 4.1 .2 -8.4 .2 3.2 .2 .9 .2 1.9 .2 1.1 .2 -.8 .1 -3.6 .2 5.2 .2 -4.9 .2 -3.3 .2 5.2 .2 -1.4 .2 -6.3 .2 -3.8 .2 8.4 .2 -1.2 .1 3.1 .2 -7.5 .2 7.3 .2 -.2 .2 -2.8 .2 2.7 .2 -.4 .2 .9 .2 4.3 .1 -2.4 .2 7.1 .2 -6.1 .2 -5.4 .2 -2.8 .2 1.9 .2 4 .2 -3.7 .2 3.9 .2 2.3 .1 -8.9 .2 4.7 .2 -.3 .2 -1.5 .2 -.1 .2 1 .2 2 .2 -.9 .2 -1.2 .2 1.4 .1 5.8 .2 -5.3 .2 -3.8 .2 6.5 .2 -8.9 .2 -2.9 .2 2.8 .2 12.3 .2 -6.9 .1 -1.1 .2 -1.1 .2 6.5 .2 -7.4 .2 -2.9 .2 3.1 .2 -3.6 .2 7.3 .2 -3.6 .2 -.5 .1 5.6 .2 -3.3 .2 1.8 .2 -1 .2 5.2 .2 -5.1 .2 3.7 .2 -6.1 .2 6.5 .1 -3.6 .2 -1.5 .2 4.4 .2 -2.9 .2 -.3 .2 1.2 .2 -.2 .2 2.2 .2 -4.4 .2 .9 .1 4 .2 -.4 .2 1.4 .2 -3.4 .2 -2.3 .2 5.3 .2 -5.6 .2 8 .2 -3 .1 3 .2 -7.6 .2 9.9 .2 -6.4 .2 1.3 .2 -10.4 .2 6 .2 .6 .2 1.1 .2 -3.9 .1 5.6 .2 3.3 .2 -6 .2 3.6 .2 1 .2 -5.3 .2 2.2 .2 4.8 .2 -8.3 .2 -2.7 .1 7.2 .2 3.1 .2 -6.1 .2 -.1 .2 -1.5 .2 -3.5 .2 3.2 .2 -3.8 .2 13.7 .1 -5.2 .2 -2.9 .2 -2.2 .2 1 .2 -3.6 .2 7.4 .2 3 .2 -8.8 .2 -1.1 .2 2.4 .1 4.9 .2 -1 .2 -3.7 .2 .8 .2 -4.2 .2 -.5 .2 3 .2 3.8 .2 -3.2 .1 1.7 .2 .2 .2 -.2 .2 3.9 .2 -.4 .2 -5.1 .2 2 .2 -3.9 .2 .7 .2 1.4 .1 8.2 .2 -4.9 .2 2.7 .2 -4.1 .2 1.8 .2 -3.8 .2 4 .2 -4.4 .2 5.8 .1 -1.6 .2 -.8 .2 -.1 .2 8 .2 -7.6 .2 5 .2 -5.9 .2 5.8 .2 -4.7 .2 -5.3 .1 0 .2 8.2 .2 -8.7 .2 7.4 .2 -3.7 .2 1.4 .2 .2 .2 .9 .2 .2 .2 -4.2 .1 2.6 .2 .2 .2 3.9 .2 .4 .2 -2.6 .2 -3.2 .2 1.5 .2 2.2 .2 -2.9 .1 1.8 .2 -1.8 .2 -.7 .2 3.3 .2 -4.7 .2 2.1 .2 4.8 .2 -4.2 .2 3.2 .2 -2.7 .1 .2 .2 -2.4 .2 3.1 .2 -1.4 .2 -2.4 .2 0 .2 -4.5 .2 6.6 .2 -1.2 .1 7.3 .2 -4.4 .2 5.9 .2 -.2 .2 -5.9 .2 3.8 .2 -2 .2 5.8 .2 -13.2 .2 13.9 .1 -8.4 .2 -7 .2 11.8 .2 -8.5 .2 1.8 .2 3.1 .2 -.5 .2 -.7 .2 -1.2 .1 -.3 .2 -2.7 .2 11.4 .2 -8 .2 1.9 .2 4.7 .2 -7.6 .2 -1 .2 2.2 .2 .3 .1 .6 .2 -2 .2 4.2 .2 -1.1 .2 2.6 .2 -6.5 .2 2.6 .2 2.6 .2 3.2 .2 -1.4 .1 -1.7 .2 -2.5 .2 -.3 .2 7.3 .2 -.3 .2 -1.1 .2 1.5 .2 1.1 .2 -11.7 .1 4 .2 2.8 .2 6.7 .2 -11.4 .2 2.2 .2 1.6 .2 -2.7 .2 2.2 .2 -5 .2 6.1 .1 -2.2 .2 3.2 .2 6 .2 -4.3 .2 -7.8 .2 3 .2 2.7 .2 -1.9 .2 -.2 .1 -2.5 .2 6.1 .2 -6.2 .2 7 .2 1.2 .2 -4.6 .2 -6.3 .2 7.4 .2 -2.9 .2 3.1 .1 -4.6 .2 1.5 .2 2.9 .2 -2.1 .2 -2.3 .2 -1.8 .2 5.8 .2 2 .2 -1.2 .1 2.9 .2 -6.6 .2 7.3 .2 -4.7 .2 -4 .2 4.5 .2 -.1 .2 -2.6 .2 9.6 .2 -10 .1 6.8 .2 -2.7 .2 5.1 .2 1.1 .2 -5.7 .2 -8 .2 -3.9 .2 -.2 .2 3.4 .2 .7 .1 -.7 .2 1.3 .2 5.2 .2 .8 .2 -2 .2 -.4 .2 3.2 .2 .6 .2 -2.3 .1 -12.9 .2 13 .2 -5.8 .2 1.1 .2 3.1 .2 4.6 .2 -9.5 .2 1.4 .2 5.6 .2 .2 .1 -1.4 .2 -5.5 .2 10 .2 -2.3 .2 -.4 .2 .5 .2 3.4 .2 .8 .2 -3.5 .1 -3.8 .2 2 .2 .9 .2 -3.3 .2 .6 .2 -3.6 .2 6.9 .2 -.1 .2 3.8 .2 -4.9 .1 -1.8 .2 3.9 .2 -8.5 .2 5.7 .2 -5.4 .2 6.1 .2 1.9 .2 1.3 .2 -2.2 .2 -2.8 .1 7.5 .2 -7.3 .2 -3.1 .2 -.7 .2 3.4 .2 -3.1 .2 2.4 .2 .9 .2 -3.3 .1 .9 .2 -3.6 .2 3.6 .2 -4 .2 -2.4 .2 5.5 .2 -2.7 .2 -1.3 .2 13.9 .2 -18 .1 14.9 .2 -15.7 .2 12.3 .2 3.3 .2 -3.1 .2 -4.8 .2 5 .2 -1 .2 -4.4 .1 5 .2 -3 .2 -.8 .2 9.9 .2 -3.2 .2 -5 .2 1.1 .2 -.6 .2 10 .2 -6.2 .1 -6.6 .2 1.2 .2 .1 .2 3.4 .2 1.4 .2 5.8 .2 -1.8 .2 3.8 .2 -12.8 .1 2.9 .2 0 .2 .8 .2 -3.7 .2 -.3 .2 5.4 .2 -7.1 .2 3.6 .2 .2 .2 -.5 .1 -2.6 .2 -.1 .2 2.4 .2 -5.5 .2 12.6 .2 -9.3 .2 6.4 .2 -2.6 .2 .3 .2 -7.2 .1 4.9 .2 0 .2 -2.1 .2 8.8 .2 -5.9 .2 -3.4 .2 6.5 .2 -2.6 .2 1.5 .1 4.1 .2 -10.9 .2 3.2 .2 -5.7 .2 2.7 .2 5.6 .2 -6.9 .2 4.9 .2 -.5 .2 3 .1 2.1 .2 -5.9 .2 3.6 .2 -1.1 .2 1.9 .2 -6.1 .2 6.9 .2 .3 .2 -9.5 .1 3.6 .2 -.6 .2 -.3 .2 -3.4 .2 7.8 .2 -.8 .2 3.6 .2 -2.2 .2 4.7 .2 -4 .1 -3.1 .2 -3.2 .2 -2.8 .2 8.9 .2 .9 .2 -5.8 .2 4.6 .2 -7.8 .2 2.8 .1 6 .2 -3.8 .2 -4.4 .2 8.3 .2 -3.7 .2 .2 .2 -2.4 .2 2.3 .2 1.7 .2 -3.2 .1 2.6 .2 .5 .2 -.9 .2 1.1 .2 1 .2 -.3 .2 -.6 .2 2.1 .2 5.7 .2 -3.8 .1 -6.6 .2 4.7 .2 -.6 .2 -1.9 .2 6.6 .2 1 .2 -1.7 .2 5.3 .2 -7.9 .1 -.6 .2 1.9 .2 .2 .2 1.9 .2 -.4 .2 10.6 .2 -12 .2 2.4 .2 .1 .2 -.2 .1 -.1 .2 6.5 .2 1.6 .2 -6.2 .2 -1.7 .2 -2.8 .2 5.6 .2 -4.5 .2 -2.2 .1 5.5 .2 -.3 .2 -9.1 .2 13.6 .2 -5.3 .2 2.1 .2 -1.7 .2 -13.2 .2 14.9 .2 -4.3 .1 .2 .2 .3 .2 -5 .2 4.9 .2 -4.4 .2 -2.3 .2 4.3 .2 -6.5 .2 9 .1 -5.6 .2 -3 .2 9.8 .2 -3.2 .2 -3.4 .2 1.2 .2 1.4 .2 -6.5 .2 7.6 .2 -6 .1 -1.8 .2 8.5 .2 -3.3 .2 2.4 .2 -2.3 .2 -1 .2 11.1 .2 -3.6 .2 .3 .2 -11.2 .1 6.2 .2 -3.5 .2 7.8 .2 -6.2 .2 6.7 .2 -2.3 .2 .4 .2 -1.5 .2 1.5 .1 -2.5 .2 -.6 .2 -7.1 .2 7.4 .2 -5.1 .2 6.6 .2 -.4 .2 -2.7 .2 -1.7 .2 1.3 .1 1.3 .2 -2.3 .2 -.4 .2 5.7 .2 -6.7 .2 -1.8 .2 4.3 .2 2 .2 3.1 .1 -4.3 .2 -3.1 .2 6.2 .2 .3 .2 -.8 .2 -6.7 .2 7.4 .2 4.1 .2 -7 .2 -4.6 .1 6.2 .2 1.2 .2 -1.3 .2 -6.2 .2 6.6 .2 .4 .2 -3.5 .2 4.3 .2 4.5 .1 -8.2 .2 .8 .2 -2.1 .2 2.8 .2 -3 .2 6.6 .2 -2.3 .2 3.1 .2 -7.1 .2 4 .1 -7.6 .2 7.2 .2 5.4 .2 -6.7 .2 2 .2 .8 .2 -2.7 .2 -5.4 .2 5.4 .2 2.6 .1 -8 .2 .6 .2 4.6 .2 2.1 .2 -4.4 .2 4.7 .2 -.1 .2 1.7 .2 -5.4 .1 -4.4 .2 4.1 .2 -4.1 .2 11.3 .2 -7 .2 7.1 .2 -9.6 .2 -.9 .2 10.4 .2 -4 .1 -2.4 .2 7.6 .2 -3.7 .2 1.2 .2 -4.3 .2 1.4 .2 1.7 .2 -.5 .2 -2.7 .1 -1.3 .2 2.3 .2 -4.2 .2 4 .2 -3.4 .2 -.7 .2 2.6 .2 -3.8 .2 1.8 .2 -.2 .1 7.1 .2 -3.1 .2 -2.5 .2 1.3 .2 3.9 .2 -1.7 .2 2.1 .2 .2 .2 -6.8 .1 3.9 .2 -2.3 .2 -1.2 .2 3.3 .2 -2.8 .2 5.2 .2 -1.4 .2 -6.1 .2 -2.1 .2 2.7 .1 4.7 .2 -.1 .2 -4.9 .2 2.8 .2 -1.6 .2 0 .2 -5.9 .2 3.6 .2 -2.2 .2 2.6 .1 1.1 .2 4.4 .2 -4.5 .2 -3.6 .2 2.5 .2 3.7 .2 4.6 .2 -5.9 .2 -4.2 .1 6.6 .2 -1.3 .2 -2.9 .2 -4 .2 8.6 .2 -4.8 .2 -.4 .2 3.8 .2 -3.7 .2 5.7 .1 -5.6 .2 -1.4 .2 2.3 .2 6.1 .2 -8.4 .2 .9 .2 2.2 .2 -1.3 .2 3.6 .1 .3 .2 -1.7 .2 -1.9 .2 -.6 .2 3 .2 -4.1 .2 1.9 .2 3.7 .2 4.4 .2 1 .1 -9.7 .2 7.3 .2 .7 .2 -2.9 .2 -4.7 .2 -4.1 .2 4.6 .2 1.8 .2 -1.1 .2 .2 .1 2 .2 5.6 .2 -7.9 .2 1.1 .2 3.2 .2 -.8 .2 -3.7 .2 1.7 .2 .4 .1 -1.2 .2 -6.3 .2 9.3 .2 -4.9 .2 3 .2 3.2 .2 -6.3 .2 1.3 .2 -2 .2 -1.3 .1 1.6 .2 3.2 .2 -.4 .2 -.5 .2 6 .2 -1.5 .2 -3.9 .2 3.8 .2 -3.1 .1 -3.8 .2 4.4 .2 -2.5 .2 4.8 .2 -4.9 .2 4.8 .2 0 .2 -1.3 .2 2 .2 -8.1 .1 6 .2 1.4 .2 -7.9 .2 2.9 .2 -1.1 .2 6.2 .2 1.1 .2 4.3 .2 -9.3 .1 3.7 .2 .9 .2 -6.1 .2 7.6 .2 -2.8 .2 2.2 .2 -1.9 .2 -2.3 .2 2.6 .2 .4 .1 3.8 .2 -.6 .2 -2.9 .2 .2 .2 2.6 .2 -2.6 .2 -.3 .2 3 .2 -.1 .2 -5.7 .1 -2.9 .2 1.3 .2 5 .2 1 .2 0 .2 -5.6 .2 6.1 .2 -8.3 .2 4.7 .1 -3.5 .2 2.3 .2 -5.5 .2 .2 .2 8.3 .2 -10.9 .2 5 .2 5.4 .2 -5.3 .2 1.1 .1 1.3 .2 -2.9 .2 -1.6 .2 7.2 .2 -3.4 .2 1.8 .2 -1.2 .2 5.6 .2 -8.2 .1 .6 .2 -6.1 .2 8.2 .2 -1 .2 -3.3 .2 -.4 .2 -2.4 .2 0 .2 5.4 .2 -4 .1 -1.9 .2 6.9 .2 -11.2 .2 6.6 .2 .5 .2 5.6 .2 -3.1 .2 4.1 .2 -9.8 .1 5.6 .2 -1.9 .2 -1.4 .2 1.3 .2 1 .2 -3.1 .2 5.7 .2 3.8 .2 -2.4 .2 -7.3 .1 -.3 .2 7.1 .2 -.8 .2 -1.5 .2 6.1 .2 -4.3 .2 2.2 .2 -6.3 .2 12.2 .2 -4.4 .1 2.8 .2 -8.9 .2 .2 .2 1.4 .2 -9.6 .2 5.8 .2 5.7 .2 -4.2 .2 -2.8 .1 2.9 .2 -5.9 .2 5.7 .2 3.4 .2 3.7 .2 -9.4 .2 14.3 .2 -10.7 .2 -3.6 .2 4.4 .1 -1.6 .2 -2.5 .2 -1.5 .2 -1.1 .2 3"/><path stroke="#ff0000" d="M382.9 117.4l.2 -19.1 .2 -12 .2 -1 .2 -.4 .1 -.7 .2 .4 .2 -2.6 .2 1 .2 -3.3 .2 -3.5 .2 5.6 .2 -3 .2 -3.9 .2 8.4 .1 .7 .2 -5.7 .2 3.4 .2 -3.5 .2 -1 .2 2.9 .2 -4.7 .2 -2.4 .2 2.5 .1 3.9 .2 -2.6 .2 2.9 .2 -5.6 .2 4.9 .2 .7 .2 -1 .2 -2.1 .2 1.9 .2 -1.2 .1 1 .2 -2.1 .2 -.1 .2 2.3 .2 .6 .2 -1.6 .2 1.4 .2 -5.4 .2 4.1 .2 -.8 .1 7.5 .2 -12.7 .2 1.9 .2 2.2 .2 2 .2 -1.7 .2 -6.9 .2 10.2 .2 -4.7 .1 1.5 .2 .9 .2 -.1 .2 1.3 .2 -4.2 .2 3 .2 -7.1 .2 2.7 .2 4.2 .2 4.5 .1 -5.3 .2 -2.3 .2 4.8 .2 -6.8 .2 3.7 .2 1.3 .2 3 .2 -2.9 .2 0 .1 -2 .2 .1 .2 1.5 .2 .5 .2 -1.6 .2 2.6 .2 .4 .2 -1.7 .2 3.7 .2 -1.8 .1 0 .2 3.8 .2 -3.5 .2 0 .2 -.5 .2 5 .2 -6.4 .2 .2 .2 3.5 .1 -2.4 .2 .4 .2 1.2 .2 -1.3 .2 2.7 .2 .5 .2 -3.3 .2 -5.3 .2 5.7 .2 1.6 .1 -.5 .2 -3.6 .2 -2.6 .2 4.2 .2 -4.4 .2 .1 .2 1.2 .2 -1.5 .2 -2.1 .2 2.4 .1 2.3 .2 -7.3 .2 10.4 .2 .4 .2 -5.3 .2 1.5 .2 -.1 .2 -.4 .2 -1.5 .1 1.3 .2 2.8 .2 .8 .2 0 .2 .8 .2 -4.4 .2 1.6 .2 -1.4 .2 3.4 .2 -4.3 .1 5.9 .2 -5 .2 -1 .2 3.4 .2 1.3 .2 -5.1 .2 3.7 .2 1 .2 -2.7 .1 4 .2 -2.5 .2 -6.7 .2 5.6 .2 -4.7 .2 5.7 .2 -1.3 .2 -1.6 .2 -.9 .2 -.7 .1 -5.1 .2 6.1 .2 -1.8 .2 1.8 .2 -1.3 .2 .8 .2 1.6 .2 -1.4 .2 1.4 .1 -1.7 .2 3.3 .2 -3.3 .2 -1.5 .2 -4.2 .2 1.8 .2 4 .2 2 .2 -2.3 .2 -.3 .1 3.8 .2 -1.2 .2 2 .2 -2.7 .2 -5.8 .2 4.5 .2 1.8 .2 -.1 .2 -.4 .2 -1.7 .1 7 .2 -4.7 .2 -1.7 .2 -.9 .2 -4.8 .2 5.6 .2 -2.1 .2 -5.2 .2 6.9 .1 -.3 .2 .2 .2 -3.4 .2 6.2 .2 -1.8 .2 -1.9 .2 -3.9 .2 .4 .2 1.6 .2 -5.3 .1 5.2 .2 2.1 .2 -5 .2 -1.2 .2 5.3 .2 3.1 .2 -3.3 .2 -3.2 .2 -.9 .1 3.9 .2 -3.9 .2 4.7 .2 -3.1 .2 1.6 .2 -3.1 .2 3 .2 -.7 .2 1 .2 1.9 .1 -7.6 .2 1 .2 1.3 .2 1.9 .2 -7.4 .2 5.8 .2 -2.5 .2 -2.2 .2 3.4 .2 -3.9 .1 6.8 .2 -1 .2 -2.1 .2 5.5 .2 -.4 .2 -7 .2 6.2 .2 -6.5 .2 1.6 .1 -2.5 .2 -.4 .2 -.2 .2 -2.7 .2 4.9 .2 -.4 .2 -4.8 .2 4.4 .2 -5 .2 1.5 .1 4.1 .2 1.9 .2 .7 .2 -9.8 .2 9.5 .2 .6 .2 -6.1 .2 1 .2 .7 .1 .5 .2 .8 .2 1.1 .2 -1.1 .2 -3.6 .2 -1.6 .2 .3 .2 4.5 .2 6.3 .2 -7 .1 2.6 .2 6.2 .2 -10.8 .2 4.7 .2 2.7 .2 -2.3 .2 .6 .2 -.6 .2 2.3 .1 -1.5 .2 -1.4 .2 1.3 .2 -4.6 .2 5.5 .2 1.8 .2 .4 .2 -1.6 .2 -1.2 .2 -.1 .1 1.2 .2 -.1 .2 -.1 .2 -3.1 .2 2.5 .2 1.1 .2 2.3 .2 .8 .2 -4.4 .2 1.5 .1 .2 .2 2.8 .2 -3.2 .2 3.6 .2 -1.1 .2 .3 .2 -5.2 .2 4.1 .2 -.7 .1 -2.6 .2 1.8 .2 -2.2 .2 .6 .2 -.5 .2 1.7 .2 -2.9 .2 2.1 .2 3.4 .2 -4.4 .1 4.2 .2 -.6 .2 -1.8 .2 -1.1 .2 10.4 .2 -6.1 .2 -3.5 .2 7.3 .2 -8.7 .1 1.3 .2 1.4 .2 -1.9 .2 2.7 .2 -4.8 .2 -1.4 .2 8.1 .2 -2.3 .2 -4.3 .2 2.2 .1 1.7 .2 -5.1 .2 7.7 .2 -4.8 .2 .5 .2 .6 .2 -5 .2 6.8 .2 -5.2 .1 1.7 .2 -5.5 .2 .7 .2 6.6 .2 .9 .2 -2.6 .2 3.1 .2 -1.2 .2 -2.1 .2 2.8 .1 -7.3 .2 3.8 .2 1.8 .2 1.9 .2 -1.8 .2 -4.4 .2 1.2 .2 -2.7 .2 .4 .2 1.1 .1 2.6 .2 -1.5 .2 .3 .2 4.7 .2 -5.9 .2 3.6 .2 -2.5 .2 3.4 .2 -1.5 .1 -7.4 .2 8.5 .2 -4.6 .2 -5.4 .2 7.8 .2 -1.4 .2 1.2 .2 -2.5 .2 5.5 .2 -5.6 .1 -.8 .2 -5.1 .2 5.9 .2 2.2 .2 -1.4 .2 7.6 .2 -7.5 .2 -5.1 .2 4.9 .1 -.9 .2 .3 .2 -.9 .2 3.4 .2 -5.3 .2 4.6 .2 -1.4 .2 -3.8 .2 4.2 .2 1.8 .1 -5.8 .2 4.7 .2 -3.9 .2 4.7 .2 4.5 .2 -7.3 .2 -3.5 .2 5 .2 -2 .1 -.1 .2 1.4 .2 -.4 .2 -2.4 .2 1 .2 2.3 .2 -3.2 .2 .7 .2 -.1 .2 -1.9 .1 9.6 .2 -6.7 .2 -.7 .2 4.8 .2 -10.4 .2 6.2 .2 1.9 .2 -.1 .2 -2.3 .2 2.1 .1 1.8 .2 -3.2 .2 -2.5 .2 1 .2 -1.2 .2 3.3 .2 .9 .2 -3.5 .2 1.6 .1 -1.2 .2 1.6 .2 -3.1 .2 0 .2 -1.3 .2 1.6 .2 .5 .2 1.4 .2 -3.4 .2 3.8 .1 2.9 .2 -3.5 .2 -4 .2 -.6 .2 .8 .2 -.1 .2 3.9 .2 .5 .2 1.2 .1 -.1 .2 -5.7 .2 2.4 .2 -2.4 .2 -3.3 .2 2.2 .2 5.7 .2 -3.9 .2 2.7 .2 -3.8 .1 7.7 .2 -2.5 .2 -1.3 .2 -7.1 .2 9.9 .2 -6.9 .2 2 .2 2.8 .2 -3.9 .1 -4.9 .2 6 .2 1.2 .2 -3.1 .2 1.1 .2 5.8 .2 -4.1 .2 .4 .2 3.4 .2 -1.3 .1 -.4 .2 .6 .2 -4.6 .2 .5 .2 5.4 .2 -2.4 .2 -.3 .2 2.3 .2 -3.9 .2 -3 .1 5.4 .2 -3.5 .2 6.9 .2 -8.7 .2 3.5 .2 3.2 .2 1.6 .2 -1 .2 -8.1 .1 8.1 .2 -2.2 .2 -1.4 .2 2.7 .2 -6.3 .2 7.9 .2 -7.5 .2 3.4 .2 -1.9 .2 .1 .1 -2.2 .2 3.7 .2 -2.8 .2 2.8 .2 .7 .2 -3 .2 -3.1 .2 1.5 .2 -1.4 .1 1.3 .2 8.5 .2 -6.4 .2 -3.8 .2 6.5 .2 1.8 .2 1.1 .2 -11.9 .2 6.6 .2 -4.1 .1 2.3 .2 -4.2 .2 -3.6 .2 10 .2 -3.1 .2 .3 .2 2.8 .2 -2.3 .2 -.5 .1 -2.3 .2 -2.3 .2 2.9 .2 4.7 .2 -5.5 .2 3.2 .2 -1 .2 1.8 .2 -3.6 .2 -4.4 .1 2.1 .2 2 .2 .1 .2 1.7 .2 .7 .2 -.3 .2 -.2 .2 2.8 .2 3.6 .2 -5.8 .1 2.6 .2 -1.7 .2 2.9 .2 .3 .2 -2.5 .2 -1.2 .2 .3 .2 4.7 .2 1.7 .1 -3.6 .2 -4.3 .2 6.4 .2 0 .2 -8.4 .2 8.3 .2 -.4 .2 -1 .2 1.2 .2 .7 .1 -2.8 .2 .1 .2 .6 .2 4.7 .2 -7.4 .2 2.5 .2 -.5 .2 -2 .2 .4 .1 .2 .2 .3 .2 1.9 .2 1 .2 1.2 .2 -5.6 .2 3.4 .2 -.7 .2 -3 .2 -3 .1 6.4 .2 -3.2 .2 1.9 .2 3.6 .2 -1.5 .2 -7.9 .2 8 .2 -4.9 .2 2.1 .2 -2.1 .1 -.3 .2 1.6 .2 6 .2 -8 .2 2 .2 .5 .2 -3 .2 4.4 .2 -1.5 .1 1 .2 6.3 .2 -2.2 .2 -2.1 .2 4.8 .2 -7.7 .2 -1 .2 .8 .2 -.7 .2 5.3 .1 -3.7 .2 -1.5 .2 .4 .2 .9 .2 .2 .2 -3.8 .2 5.3 .2 -3 .2 -2.3 .1 6.7 .2 1.8 .2 -8 .2 6.6 .2 1 .2 -4.1 .2 2.9 .2 -.2 .2 .6 .2 -1 .1 -7.1 .2 4.5 .2 .7 .2 6.4 .2 2.1 .2 -3.7 .2 -7.6 .2 -.1 .2 8.6 .1 -.3 .2 -6.6 .2 .6 .2 1.5 .2 -1 .2 2.6 .2 -2.8 .2 2.5 .2 -3.2 .2 5.6 .1 3.7 .2 -10.5 .2 -1 .2 3.1 .2 3.5 .2 1.3 .2 -5.2 .2 3.9 .2 -2.3 .2 -1.9 .1 .8 .2 6 .2 -5.9 .2 2.4 .2 3.1 .2 -3.9 .2 -.7 .2 -.1 .2 -1.9 .1 7 .2 -7.3 .2 -1.7 .2 5.2 .2 1.8 .2 -3.2 .2 -2.5 .2 2.1 .2 .5 .2 1.5 .1 -7.4 .2 .5 .2 3.3 .2 -4.9 .2 7.1 .2 -5 .2 6.2 .2 -2.9 .2 -2.5 .1 -.3 .2 -.9 .2 3.2 .2 1.3 .2 -.3 .2 1.1 .2 -.7 .2 -3.3 .2 -.6 .2 8.7 .1 -7.7 .2 1.6 .2 -.9 .2 .8 .2 .4 .2 -.2 .2 5.8 .2 -5.9 .2 3.9 .1 -3.5 .2 2.4 .2 5.6 .2 -5.5 .2 1.2 .2 .7 .2 -5.9 .2 6.1 .2 1 .2 -6.7 .1 5 .2 1.8 .2 4.9 .2 -6.5 .2 -1.5 .2 -3.4 .2 6 .2 -4.2 .2 .2 .2 1.8 .1 1.9 .2 4.7 .2 -4.8 .2 1.8 .2 4.2 .2 -7.1 .2 2.2 .2 1.1 .2 -6.6 .1 6.8 .2 2.1 .2 .6 .2 -6.4 .2 2.9 .2 1.6 .2 2.4 .2 -2.3 .2 -.1 .2 -.3 .1 .9 .2 -1.1 .2 -2.1 .2 2.2 .2 -3.7 .2 11 .2 -4.7 .2 -6.8 .2 1.3 .1 3.4 .2 -1.6 .2 .9 .2 -.7 .2 -3 .2 7 .2 -2.1 .2 3 .2 -1 .2 2.3 .1 -2.4 .2 -1.9 .2 -.5 .2 -.9 .2 -1.7 .2 -.2 .2 2.8 .2 -5.1 .2 3.5 .1 -.6 .2 1.6 .2 -3.3 .2 2.6 .2 4.3 .2 -4.4 .2 1.6 .2 3.5 .2 -.1 .2 -1.5 .1 -7.7 .2 5.5 .2 -4.6 .2 -.3 .2 2.3 .2 .1 .2 5.5 .2 -7.2 .2 7.4 .2 -4.7 .1 1.4 .2 -3.7 .2 1.7 .2 -1.8 .2 2.7 .2 .9 .2 -3.4 .2 -2.4 .2 4.8 .1 2.2 .2 2.6 .2 -.9 .2 -.8 .2 -.7 .2 .2 .2 .9 .2 -2.2 .2 -3.6 .2 1 .1 1.9 .2 -1.1 .2 .5 .2 -1.8 .2 6.8 .2 -1.8 .2 -1.1 .2 1.1 .2 -3.3 .1 8.8 .2 -6.1 .2 -1.4 .2 3.4 .2 -2.1 .2 -3.1 .2 -1 .2 1.6 .2 1.4 .2 -.3 .1 -3.4 .2 2.9 .2 -2.6 .2 3 .2 -1.9 .2 2.5 .2 -1.1 .2 -2.8 .2 5.8 .1 -1.3 .2 -1.7 .2 1.3 .2 -3.5 .2 2.3 .2 -4.9 .2 .4 .2 1.1 .2 4.2 .2 2.3 .1 2.9 .2 -7.9 .2 -.4 .2 .5 .2 -3 .2 .4 .2 3.4 .2 3 .2 .5 .2 -.7 .1 .2 .2 .4 .2 -2.2 .2 2.9 .2 -3.7 .2 2 .2 -3.1 .2 4.4 .2 -1 .1 .4 .2 -3.9 .2 -7.6 .2 7.5 .2 1.4 .2 .7 .2 -1.2 .2 -.9 .2 2.9 .2 .6 .1 2.9 .2 -7.6 .2 -1.1 .2 3.5 .2 2.2 .2 -.9 .2 -2 .2 -3.2 .2 2 .1 -1.9 .2 3.6 .2 .3 .2 -5.1 .2 7.9 .2 -1.8 .2 -7.8 .2 5.2 .2 -3.5 .2 12.6 .1 -11.6 .2 3.3 .2 1.1 .2 -.7 .2 8.2 .2 -7.2 .2 -3.7 .2 -5.3 .2 7.9 .1 -8.5 .2 6.3 .2 1.5 .2 2.8 .2 -3.6 .2 3.4 .2 1.1 .2 -7.9 .2 4 .2 -.4 .1 -2.1 .2 3.8 .2 .8 .2 -1.8 .2 -1.9 .2 -2.6 .2 6.4 .2 -4.7 .2 -.7 .2 2.3 .1 -2 .2 1.2 .2 4 .2 .4 .2 -4.6 .2 3.4 .2 .7 .2 -4.9 .2 2.4 .1 -1 .2 3 .2 -1.4 .2 .1 .2 2.6 .2 -7.3 .2 5.4 .2 3.8 .2 -2.6 .2 -5 .1 4.2 .2 -3 .2 1.2 .2 1.8 .2 -1.7 .2 2.1 .2 -4.2 .2 -.4 .2 1.6 .1 -7.4 .2 8.6 .2 -6 .2 1.5 .2 -1.1 .2 1.8 .2 8.1 .2 -5.2 .2 -3.5 .2 3.5 .1 5.4 .2 -4.3 .2 -2.8 .2 -2.4 .2 5.4 .2 -1.8 .2 1.8 .2 .8 .2 -2.8 .1 -4.3 .2 2.7 .2 1.7 .2 .2 .2 -1.8 .2 3.5 .2 .3 .2 -1.4 .2 -1.7 .2 2.4 .1 -3.7 .2 6.9 .2 -4.3 .2 .4 .2 -2 .2 4.1 .2 1 .2 -1.6 .2 -.6 .2 1.5 .1 -2.5 .2 2.1 .2 -3.9 .2 0 .2 -.7 .2 -4.6 .2 4.5 .2 1.5 .2 1.1 .1 -6.1 .2 4.6 .2 1 .2 -3 .2 3.2 .2 .8 .2 -1.3 .2 -4.5 .2 3.9 .2 .1 .1 4.4 .2 -1.1 .2 -4.5 .2 2.8 .2 -1.7 .2 -2.1 .2 3.6 .2 -4.1 .2 5.4 .1 -1.1 .2 .8 .2 2 .2 -4.7 .2 .1 .2 -1.9 .2 5.1 .2 -5.3 .2 -2.8 .2 4.8 .1 -.9 .2 8.2 .2 -12.6 .2 4.8 .2 -.9 .2 4.2 .2 -2.9 .2 2.6 .2 -5.5 .2 1.4 .1 .4 .2 -2.4 .2 7.4 .2 -5.1 .2 1.6 .2 -6.2 .2 2.5 .2 1.3 .2 .6 .1 -10.2 .2 11.2 .2 -6.7 .2 2.9 .2 .2 .2 4.6 .2 -5.2 .2 4.5 .2 1 .2 -4.7 .1 4.4 .2 -4.3 .2 3.2 .2 -3.2 .2 .7 .2 3.9 .2 .2 .2 -.3 .2 -2.1 .1 -1.1 .2 -5 .2 4 .2 3.9 .2 -.3 .2 .2 .2 -3.1 .2 .9 .2 .8 .2 .5 .1 -.1 .2 .2 .2 -.4 .2 3.2 .2 -3.7 .2 2.1 .2 -2.1 .2 2.3 .2 3.5 .1 -1.8 .2 -3.5 .2 -1.5 .2 -.1 .2 .8 .2 .3 .2 .3 .2 -1.5 .2 1.6 .2 -2.7 .1 1.4 .2 -.3 .2 1.1 .2 -6.4 .2 9.4 .2 -3.7 .2 .3 .2 -1.1 .2 1.7 .2 -3.9 .1 9.7 .2 -8.9 .2 7.3 .2 -2.5 .2 -2.3 .2 1 .2 -1.5 .2 1.1 .2 -1.4 .1 -.5 .2 1.5 .2 3.7 .2 -1.9 .2 -4.3 .2 -.4 .2 .5 .2 0 .2 1.5 .2 -4.8 .1 6.7 .2 .3 .2 1.5 .2 -4.4 .2 4.4 .2 -2.4 .2 4.4 .2 -1.7 .2 -6.1 .1 1.4 .2 1.3 .2 .5 .2 -.1 .2 1.9 .2 1.3 .2 -1.1 .2 -4.4 .2 4 .2 4.2 .1 -3.1 .2 2.7 .2 -2 .2 -3.5 .2 2.2 .2 1.2 .2 -6.7 .2 -.5 .2 3.9 .1 -2.9 .2 5 .2 .1 .2 -3.1 .2 2.3 .2 -2.2 .2 9.1 .2 -9.7 .2 2.7 .2 -.2 .1 3.1 .2 -2.6 .2 -4.6 .2 .3 .2 1.1 .2 .2 .2 -1.6 .2 2.1 .2 1.2 .2 1.3 .1 -1.9 .2 .7 .2 -.2 .2 -1.5 .2 7.3 .2 -2 .2 -2.5 .2 -4.5 .2 1.3 .1 .8 .2 -1.2 .2 .1 .2 -3.3 .2 .2 .2 3.4 .2 -1.4 .2 -2.4 .2 -2.1 .2 4.2 .1 -3.8 .2 1.4 .2 4.3 .2 -3.1 .2 -.1 .2 .4 .2 -3.7 .2 -1.6 .2 -.2 .1 2 .2 1.3 .2 .9 .2 -1.3 .2 2.7 .2 -3.5 .2 2 .2 -1.4 .2 2.4 .2 -6.6 .1 2 .2 2.1 .2 2.6 .2 -2.9 .2 -.3 .2 3.8 .2 -2.4 .2 -3.9 .2 5.3 .1 .6 .2 -3.1 .2 -4 .2 6.8 .2 -1.1 .2 .7 .2 -.3 .2 -2.1 .2 1.5 .2 5.6 .1 -6 .2 .9 .2 .9 .2 .2 .2 1.1 .2 -1.5 .2 3.5 .2 3.1 .2 -3.4 .2 1.2 .1 -7.7 .2 5.1 .2 -4.1 .2 8 .2 0 .2 -2.7 .2 4.1 .2 -3 .2 2.4 .1 -4.3 .2 5.6 .2 -2.8 .2 3.7 .2 -5.4 .2 -2 .2 3 .2 2.4 .2 -2.5 .2 -1.8 .1 1.2 .2 -1.1 .2 -2.3 .2 3.4 .2 2.3 .2 1.4 .2 -3.1 .2 -.2 .2 2 .1 -2.1 .2 -5.1 .2 5.3 .2 -1.7 .2 -1.7 .2 .7 .2 -7 .2 5.4 .2 -2.1 .2 4.1 .1 -4.1 .2 2.3 .2 1.9 .2 -7.5 .2 -1.3 .2 3.8 .2 .1 .2 3.1 .2 -4.7 .1 2.6 .2 -1.8 .2 -1.6 .2 1.3 .2 3.5 .2 -2.1 .2 -.3 .2 -.8 .2 4.5 .2 -3.3 .1 2.4 .2 -.6 .2 -4.7 .2 1.9 .2 4.2 .2 -2 .2 3.2 .2 1.1 .2 -.6 .2 -1.4 .1 -3.7 .2 .8 .2 9.2 .2 -6.1 .2 1.9 .2 -1.4 .2 -1.7 .2 1.2 .2 .5 .1 2.7 .2 -6 .2 6.5 .2 -5.2 .2 2.4 .2 .7 .2 3.3 .2 -6.2 .2 3.4 .2 1.8 .1 -1.9 .2 -1.1 .2 4.2 .2 -1.3 .2 .9 .2 -5.1 .2 1.7 .2 2.8 .2 -.8 .1 .4 .2 5.2 .2 -5.1 .2 -4.1 .2 6.9 .2 -.7 .2 -2.5 .2 -3.4 .2 3.5 .2 -7.6 .1 5.4 .2 3.4 .2 1 .2 -5.3 .2 -.1 .2 1.8 .2 -2.4 .2 -.4 .2 3.8 .1 1.8 .2 .8 .2 -3.1 .2 -.1 .2 -3.9 .2 2.5 .2 1.2 .2 .8 .2 -3.6 .2 -.6 .1 4.1 .2 -1.8 .2 3.8 .2 -1.2 .2 -1.4 .2 .9 .2 -.9 .2 -1.5 .2 1.7 .2 -2.9 .1 3.9 .2 -2.5 .2 4.3 .2 .7 .2 -2.8 .2 -2.9 .2 4.6 .2 -1 .2 -3.9 .1 3.4 .2 -3.7 .2 6.3 .2 .9 .2 -5.2 .2 2.3 .2 -.4 .2 6.2 .2 -7.2 .2 2.1 .1 1 .2 -1 .2 3.6 .2 -1.3 .2 -.2 .2 -4.8 .2 2.9 .2 -4.1 .2 4.8 .1 1.1 .2 -6.2 .2 6.4 .2 -4.7 .2 5.4 .2 -5.8 .2 4.5 .2 -7.1 .2 -2.5 .2 2 .1 2.6 .2 1.7 .2 -1.6 .2 -3.5 .2 6.2 .2 2 .2 -7.4 .2 5.4 .2 -.6 .2 0 .1 -.8 .2 -.6 .2 -.1 .2 4.6 .2 -3.2 .2 .8 .2 -4.6 .2 4.4 .2 .2 .1 3.6 .2 -6.2 .2 -1.3 .2 3.6 .2 -3.2 .2 2.7 .2 .4 .2 -1.9 .2 3.3 .2 .3 .1 -3 .2 .6 .2 -2.5 .2 0 .2 6.6 .2 -4.5 .2 5 .2 -6.1 .2 -.4 .1 2.6 .2 2.1 .2 -5.4 .2 2.3 .2 3.8 .2 -6.1 .2 -.8 .2 2.1 .2 -1.8 .2 -.5 .1 4.8 .2 -4 .2 .6 .2 2.1 .2 -3.5 .2 2.4 .2 1.4 .2 .3 .2 6.5 .1 -3.7 .2 -.1 .2 -6.8 .2 1 .2 -.7 .2 1.9 .2 -1.2 .2 3.2 .2 1.4 .2 .4 .1 -4.4 .2 2.6 .2 .3 .2 -.6 .2 -2 .2 4 .2 -3.8 .2 1.1 .2 -4.3 .2 4.9 .1 2.4 .2 -1.3 .2 -.7 .2 3.1 .2 4.2 .2 -9.3 .2 1.2 .2 .1 .2 .6 .1 -1.4 .2 -.7 .2 5.5 .2 -5.7 .2 3.6 .2 -1.3 .2 1.1 .2 0 .2 .1 .2 2.3 .1 -1.9 .2 -.3 .2 -2.7 .2 4.5 .2 -1 .2 -.5 .2 4.5 .2 -7 .2 -.5 .1 .6 .2 3.4 .2 -5.2 .2 4 .2 -3.5 .2 3.6 .2 1.9 .2 -6.1 .2 7.7 .2 -3.9 .1 0 .2 -1.9 .2 .6 .2 -5.9 .2 -.7 .2 6 .2 -2.6 .2 -4.4 .2 5.7 .1 -5.2 .2 2.5 .2 -1.4 .2 -2.8 .2 -.3 .2 3 .2 .3 .2 -5.2 .2 -2.4 .2 1 .1 .7 .2 -1.4 .2 4.3 .2 -3.4 .2 -1.9 .2 1 .2 5 .2 -.1 .2 -6.3 .2 7.4 .1 -.9 .2 -6.6 .2 5.8 .2 -.2 .2 -5.5 .2 2.4 .2 1.5 .2 3.4 .2 -3.2 .1 .5 .2 1.2 .2 1.9 .2 -6.5 .2 1.5 .2 -.2 .2 .7 .2 5.4 .2 -4.2 .2 -1.1 .1 2.8 .2 5.4 .2 -1.1 .2 -2.8 .2 -3.5"/></g>
<rect x="382.90" y="8.05" width="303.10" height="109.35" fill="none" stroke="#000" stroke-width="1.2"/>
<text x="370.9" y="123.2" class="tk" text-anchor="end">0</text>
<text x="370.9" y="86.8" class="tk" text-anchor="end">1</text>
<text x="370.9" y="50.3" class="tk" text-anchor="end">2</text>
<text x="370.9" y="13.8" class="tk" text-anchor="end">3</text>
<text x="382.9" y="139.9" class="tk" text-anchor="middle">0</text>
<text x="443.5" y="139.9" class="tk" text-anchor="middle">20</text>
<text x="504.1" y="139.9" class="tk" text-anchor="middle">40</text>
<text x="564.8" y="139.9" class="tk" text-anchor="middle">60</text>
<text x="625.4" y="139.9" class="tk" text-anchor="middle">80</text>
<text x="686.0" y="139.9" class="tk" text-anchor="middle">100</text>
<path d="M374.30 117.50H382.90M374.30 80.50H382.90M374.30 44.50H382.90M374.30 8.50H382.90M382.50 117.40V124.90M443.50 117.40V124.90M504.50 117.40V124.90M564.50 117.40V124.90M625.50 117.40V124.90M686.50 117.40V124.90" stroke="#000" stroke-width="1.2" fill="none"/>
<ellipse cx="402.50" cy="176.70" rx="12.2" ry="10.8" fill="#d9d9d9"/>
<text x="402.40" y="181.00" class="lt">E</text>
<text x="435.65" y="261.7" fill="#000000" stroke="#000000" class="lg" textLength="70.86" lengthAdjust="spacing">Ref/HDAC6</text>
<text x="538.10" y="261.4" fill="#00ff00" stroke="#00ff00" class="lg" textLength="119.29" lengthAdjust="spacing">Capmatinib/HDAC6</text>
<g clip-path="url(#cE)" fill="none" stroke-width="0.90" stroke-linejoin="round"><path stroke="#000000" d="M386.3 269.8l.2 -47.5 .2 -1.7 .2 .3 .2 -2.8 .1 -2.7 .2 .8 .2 -4.5 .2 2.1 .2 -4.6 .2 2.2 .2 -.7 .2 .7 .2 -2.2 .1 1.6 .2 -.3 .2 1.1 .2 1.5 .2 .5 .2 -5.6 .2 .8 .2 -1.7 .1 1.3 .2 -.2 .2 -6.8 .2 11.8 .2 -4.1 .2 -3.2 .2 -3 .2 7.7 .2 1.5 .1 2.1 .2 -1.2 .2 -3 .2 .4 .2 -2.4 .2 -.5 .2 5.5 .2 2.1 .2 -2.3 .1 -3.8 .2 -4.7 .2 11.8 .2 -8.1 .2 4.8 .2 -4.5 .2 -3.1 .2 4 .2 2.2 .1 -.7 .2 -2 .2 1.5 .2 .4 .2 2.2 .2 -2.4 .2 0 .2 -2.8 .2 -.7 .1 -.4 .2 7.7 .2 -4.4 .2 1 .2 -1.3 .2 2.5 .2 .4 .2 -7.1 .1 7.7 .2 1.5 .2 -1.3 .2 -6.4 .2 1.8 .2 6.4 .2 0 .2 -3.2 .2 1.2 .1 5.2 .2 -.6 .2 -1.9 .2 7.2 .2 -3.2 .2 -.9 .2 -3.2 .2 -2.2 .2 1.4 .1 2 .2 -2.1 .2 .8 .2 3.5 .2 4.8 .2 -2.9 .2 -1.1 .2 2.4 .2 -2.8 .1 -3.1 .2 4.2 .2 .8 .2 1.2 .2 -5.8 .2 -1.8 .2 5.3 .2 -7 .2 7.7 .1 -4.1 .2 .8 .2 -4.5 .2 5.9 .2 -5.8 .2 5.1 .2 5.7 .2 -4.9 .1 -1 .2 -5.9 .2 6.3 .2 -1.1 .2 -6.1 .2 4.5 .2 2.9 .2 1.8 .2 1.7 .1 -4 .2 -5.8 .2 5.6 .2 2.2 .2 -7 .2 -.5 .2 2.3 .2 -1.6 .2 .8 .1 .2 .2 -2.6 .2 9.5 .2 -3.4 .2 -2.2 .2 3.1 .2 -9.1 .2 13.8 .2 -8.5 .1 2.9 .2 -1 .2 -3.2 .2 4.7 .2 -1.7 .2 -7.6 .2 5.8 .2 4.5 .1 -.7 .2 2.1 .2 -5.9 .2 -3.2 .2 3.5 .2 -2.2 .2 3.5 .2 -5.7 .2 1.6 .1 -.1 .2 -3.4 .2 9.9 .2 -6.1 .2 7.2 .2 -6.3 .2 .4 .2 .1 .2 -1.7 .1 3.6 .2 -.5 .2 -3.3 .2 9 .2 -5 .2 1.9 .2 -3 .2 1.1 .2 4.6 .1 -3.8 .2 -4.4 .2 2.9 .2 -1 .2 2.4 .2 -1.7 .2 7.8 .2 -3.2 .2 -6.1 .1 2.8 .2 1 .2 .2 .2 8.8 .2 -9 .2 4.1 .2 -.5 .2 -4.4 .1 3.5 .2 .2 .2 -3.1 .2 -1.2 .2 -4.4 .2 9.7 .2 -4.7 .2 -6 .2 1.4 .1 -.7 .2 1.5 .2 -.8 .2 -5 .2 -4.3 .2 5.2 .2 -5.8 .2 6.6 .2 4.5 .1 -9.2 .2 9.9 .2 -5.5 .2 -2.2 .2 1.5 .2 -2.4 .2 -1.2 .2 -.8 .2 -1.2 .1 -2.4 .2 3.1 .2 -3.4 .2 2.7 .2 -2.1 .2 -.4 .2 3.7 .2 -2.9 .2 4.2 .1 10 .2 -3.5 .2 -8.9 .2 6.6 .2 -9.3 .2 7.2 .2 2.4 .2 3.9 .1 -2.7 .2 -1.6 .2 -.6 .2 1.3 .2 2.5 .2 3.7 .2 .9 .2 -1.9 .2 -.6 .1 1 .2 1.3 .2 -1.4 .2 7.2 .2 -4.2 .2 -1.1 .2 -3.3 .2 3.3 .2 .3 .1 -6.2 .2 .9 .2 -3 .2 4 .2 3.5 .2 -1.7 .2 -6.5 .2 -1.2 .2 4.7 .1 -1.3 .2 7 .2 -8.3 .2 3.6 .2 1.7 .2 .5 .2 -4.4 .2 4.1 .1 0 .2 5.8 .2 -6.9 .2 7.8 .2 -1.9 .2 -4.3 .2 .6 .2 -2.9 .2 3.4 .1 .6 .2 -3.5 .2 6.2 .2 -10.4 .2 6.3 .2 -7.7 .2 -2.3 .2 -.9 .2 2.3 .1 -1.8 .2 -.5 .2 9.8 .2 -3.9 .2 -4.2 .2 .2 .2 -.5 .2 .1 .2 -7.1 .1 10.5 .2 -3 .2 7.3 .2 -2.1 .2 -4.7 .2 6 .2 2 .2 -7.7 .2 4.9 .1 -5 .2 9 .2 -10.3 .2 11.8 .2 -2 .2 -1.8 .2 -2 .2 .9 .1 -6.8 .2 .5 .2 -.6 .2 4.2 .2 2 .2 7 .2 -8 .2 3 .2 -4.4 .1 2.6 .2 1 .2 -.4 .2 -5.3 .2 2.6 .2 3.1 .2 3.4 .2 -4.6 .2 .5 .1 1.2 .2 -4 .2 -1.1 .2 .5 .2 5.8 .2 .5 .2 -7.5 .2 5.1 .2 -4.3 .1 4.1 .2 -.6 .2 -5.6 .2 6.2 .2 -4.2 .2 .5 .2 3.3 .2 1.7 .2 1.4 .1 -6.7 .2 .9 .2 8.4 .2 -4 .2 9.3 .2 -7.3 .2 -6.2 .2 11.5 .1 -3.5 .2 5.4 .2 -3.9 .2 3.6 .2 -3.7 .2 6.7 .2 -5.4 .2 .6 .2 -.4 .1 -5.7 .2 5.8 .2 -.4 .2 2.8 .2 -7.1 .2 5.9 .2 2.1 .2 -7.6 .2 2.8 .1 -5.1 .2 4.4 .2 .7 .2 .9 .2 7.3 .2 -4.5 .2 -6.8 .2 3.4 .2 2.2 .1 -4.6 .2 -1.9 .2 -4.8 .2 11.2 .2 -1 .2 4 .2 -.2 .2 -8.9 .1 2.8 .2 1.4 .2 -6.1 .2 -1.4 .2 2.2 .2 5.7 .2 -.6 .2 -7.4 .2 8.1 .1 1.1 .2 2.4 .2 -14.3 .2 7.5 .2 -2.7 .2 3.6 .2 .2 .2 2.5 .2 -8.4 .1 5.4 .2 -7.6 .2 6.6 .2 -3.5 .2 -2.6 .2 8.8 .2 -6.6 .2 3.3 .2 1.5 .1 -2.7 .2 2.5 .2 -4.2 .2 4.9 .2 -5.8 .2 -4.1 .2 1 .2 6.6 .2 -2.7 .1 -8.1 .2 3.1 .2 .7 .2 6.7 .2 -2.9 .2 -10.3 .2 3.6 .2 5.2 .1 -2 .2 -5.1 .2 2.5 .2 8.6 .2 -1.1 .2 -2.6 .2 -3.6 .2 6.3 .2 -.4 .1 6.4 .2 -6.8 .2 -3.1 .2 -.8 .2 5.5 .2 -4.4 .2 3.6 .2 2.2 .2 -5.6 .1 7.5 .2 -4.1 .2 1 .2 -3.8 .2 0 .2 -.1 .2 2.5 .2 -2.4 .2 4.9 .1 -5.1 .2 -8.9 .2 3.2 .2 -.6 .2 3.4 .2 .6 .2 -1.4 .2 -.4 .2 .6 .1 3.4 .2 -3.7 .2 5.6 .2 -9.9 .2 3.2 .2 1.1 .2 5 .2 -8 .1 -2.2 .2 5.6 .2 -1.2 .2 5.6 .2 -7.6 .2 1.6 .2 9.8 .2 -9.7 .2 3.5 .1 -.7 .2 .4 .2 1.2 .2 -6.6 .2 5.5 .2 -.8 .2 -1.1 .2 2.6 .2 2.3 .1 -4 .2 -1 .2 3.8 .2 -1.7 .2 -4 .2 .7 .2 -2 .2 -1.1 .2 4 .1 0 .2 3.9 .2 -6.3 .2 4.9 .2 -2.5 .2 -3.5 .2 6.7 .2 4.8 .1 -1.2 .2 -2.8 .2 -7.6 .2 3.8 .2 .3 .2 4.8 .2 -4.7 .2 1.5 .2 -.8 .1 5.8 .2 -4.7 .2 7.3 .2 -4.5 .2 1 .2 -.4 .2 -3.1 .2 10.3 .2 -6.2 .1 1.4 .2 1.6 .2 -3.9 .2 -2.6 .2 3.9 .2 1.2 .2 -5.5 .2 6.8 .2 -6.3 .1 3.4 .2 -.6 .2 -1.1 .2 -4.1 .2 10.6 .2 -9.3 .2 7.8 .2 -4.9 .2 -1.8 .1 2.9 .2 4 .2 -.4 .2 .1 .2 -2.5 .2 -1.4 .2 -1.5 .2 8.8 .1 -8.7 .2 -2.2 .2 6.2 .2 .3 .2 -6 .2 -4 .2 1.3 .2 2.7 .2 8.8 .1 -10.6 .2 5.7 .2 -2.9 .2 5.7 .2 -4.7 .2 3.7 .2 -1.3 .2 -7.6 .2 8.6 .1 -6.1 .2 3.4 .2 6.5 .2 -10.1 .2 3.3 .2 2.6 .2 .2 .2 3.2 .2 -9.2 .1 7.3 .2 -2.9 .2 4.8 .2 -7.4 .2 -2.6 .2 2.4 .2 -1.1 .2 6 .2 .8 .1 -4.8 .2 4.3 .2 -2 .2 1.7 .2 1.6 .2 -5.5 .2 -2.3 .2 -2.3 .1 1.8 .2 12 .2 -10 .2 -1.7 .2 1.7 .2 2.4 .2 -5.9 .2 1.4 .2 8.2 .1 -9.4 .2 -4.1 .2 4.5 .2 3.8 .2 -9.2 .2 3.2 .2 7.7 .2 -6.4 .2 -1.4 .1 .5 .2 6.4 .2 -.9 .2 -3.8 .2 -8.9 .2 8.4 .2 -.3 .2 2.3 .2 -1.9 .1 -3.6 .2 8.2 .2 -9.6 .2 7.6 .2 -.7 .2 1.2 .2 -.6 .2 -.5 .1 4.8 .2 -4.2 .2 7.1 .2 -13.6 .2 6 .2 6.4 .2 -6.5 .2 1.7 .2 1.3 .1 -3.6 .2 4.7 .2 -2.4 .2 -.8 .2 -3.6 .2 2.5 .2 -1.9 .2 11.7 .2 -11.3 .1 .6 .2 -3.1 .2 2.9 .2 -5.1 .2 4.8 .2 0 .2 -1.7 .2 4.2 .2 .2 .1 -5 .2 -.2 .2 .3 .2 -2 .2 4.2 .2 1.1 .2 -2.2 .2 .5 .2 2.4 .1 2.5 .2 -2 .2 1.7 .2 -4.1 .2 12.7 .2 -19.6 .2 11 .2 -6.3 .1 -.5 .2 -1.5 .2 5.7 .2 -7.4 .2 4.5 .2 -1.2 .2 4.4 .2 -2.4 .2 2.8 .1 -3.6 .2 -1.3 .2 1.7 .2 -.5 .2 -3.7 .2 4.5 .2 1.3 .2 4 .2 -8.4 .1 3.2 .2 .9 .2 2 .2 1 .2 -.8 .2 -3.6 .2 5.2 .2 -4.8 .2 -3.4 .1 5.3 .2 -1.5 .2 -6.3 .2 -3.7 .2 8.4 .2 -1.3 .2 3.1 .2 -7.4 .2 7.2 .1 -.2 .2 -2.8 .2 2.7 .2 -.4 .2 .9 .2 4.4 .2 -2.4 .2 7 .1 -6.1 .2 -5.3 .2 -2.8 .2 1.8 .2 4 .2 -3.6 .2 3.8 .2 2.3 .2 -8.9 .1 4.7 .2 -.3 .2 -1.5 .2 -.1 .2 1.1 .2 1.9 .2 -.8 .2 -1.3 .2 1.4 .1 5.8 .2 -5.3 .2 -3.8 .2 6.6 .2 -9 .2 -2.9 .2 2.9 .2 12.2 .2 -6.9 .1 -1 .2 -1.1 .2 6.4 .2 -7.4 .2 -2.8 .2 3 .2 -3.6 .2 7.4 .1 -3.7 .2 -.4 .2 5.5 .2 -3.2 .2 1.8 .2 -1 .2 5.2 .2 -5.1 .2 3.7 .1 -6.2 .2 6.5 .2 -3.6 .2 -1.4 .2 4.3 .2 -2.9 .2 -.3 .2 1.2 .2 -.2 .1 2.2 .2 -4.3 .2 .9 .2 3.9 .2 -.3 .2 1.3 .2 -3.4 .2 -2.3 .2 5.3 .1 -5.6 .2 8 .2 -3 .2 3.1 .2 -7.6 .2 9.8 .2 -6.4 .2 1.4 .2 -10.4 .1 5.9 .2 .6 .2 1.1 .2 -3.9 .2 5.6 .2 3.3 .2 -6 .2 3.7 .1 .9 .2 -5.2 .2 2.1 .2 4.8 .2 -8.3 .2 -2.7 .2 7.2 .2 3.1 .2 -6.1 .1 0 .2 -1.6 .2 -3.5 .2 3.2 .2 -3.7 .2 13.6 .2 -5.2 .2 -2.9 .2 -2.1 .1 .9 .2 -3.6 .2 7.4 .2 3.1 .2 -8.9 .2 -1 .2 2.3 .2 4.9 .2 -.9 .1 -3.7 .2 .7 .2 -4.2 .2 -.4 .2 2.9 .2 3.8 .2 -3.2 .2 1.7 .2 .3 .1 -.3 .2 3.9 .2 -.4 .2 -5.1 .2 2.1 .2 -4 .2 .7 .2 1.4 .1 8.3 .2 -4.9 .2 2.6 .2 -4.1 .2 1.8 .2 -3.8 .2 4.1 .2 -4.4 .2 5.7 .1 -1.6 .2 -.7 .2 -.2 .2 8 .2 -7.5 .2 4.9 .2 -5.8 .2 5.7 .2 -4.7 .1 -5.3 .2 0 .2 8.2 .2 -8.6 .2 7.3 .2 -3.7 .2 1.4 .2 .2 .2 .9 .1 .2 .2 -4.1 .2 2.5 .2 .3 .2 3.9 .2 .3 .2 -2.6 .2 -3.1 .1 1.4 .2 2.3 .2 -2.9 .2 1.7 .2 -1.7 .2 -.8 .2 3.4 .2 -4.8 .2 2.1 .1 4.8 .2 -4.2 .2 3.2 .2 -2.7 .2 .2 .2 -2.4 .2 3.2 .2 -1.5 .2 -2.4 .1 .1 .2 -4.6 .2 6.6 .2 -1.1 .2 7.3 .2 -4.5 .2 5.9 .2 -.1 .2 -5.9 .1 3.7 .2 -2 .2 5.8 .2 -13.2 .2 14 .2 -8.5 .2 -7 .2 11.9 .2 -8.6 .1 1.8 .2 3.1 .2 -.4 .2 -.8 .2 -1.1 .2 -.4 .2 -2.7 .2 11.4 .1 -8 .2 1.9 .2 4.7 .2 -7.6 .2 -1 .2 2.2 .2 .4 .2 .5 .2 -1.9 .1 4.1 .2 -1 .2 2.5 .2 -6.5 .2 2.6 .2 2.6 .2 3.2 .2 -1.3 .2 -1.8 .1 -2.5 .2 -.2 .2 7.2 .2 -.2 .2 -1.1 .2 1.4 .2 1.2 .2 -11.8 .2 4 .1 2.9 .2 6.6 .2 -11.3 .2 2.1 .2 1.7 .2 -2.7 .2 2.1 .2 -5 .2 6.1 .1 -2.2 .2 3.2 .2 6 .2 -4.2 .2 -7.8 .2 2.9 .2 2.7 .2 -1.8 .1 -.3 .2 -2.5 .2 6.2 .2 -6.2 .2 6.9 .2 1.3 .2 -4.6 .2 -6.4 .2 7.4 .1 -2.9 .2 3.1 .2 -4.6 .2 1.5 .2 2.9 .2 -2.1 .2 -2.2 .2 -1.9 .2 5.9 .1 1.9 .2 -1.2 .2 2.9 .2 -6.5 .2 7.2 .2 -4.7 .2 -3.9 .2 4.5 .2 -.1 .1 -2.7 .2 9.6 .2 -10 .2 6.8 .2 -2.7 .2 5.1 .2 1.1 .2 -5.7 .1 -8 .2 -3.9 .2 -.1 .2 3.4 .2 .7 .2 -.7 .2 1.3 .2 5.2 .2 .8 .1 -2.1 .2 -.4 .2 3.2 .2 .6 .2 -2.3 .2 -12.8 .2 13 .2 -5.8 .2 1.1 .1 3 .2 4.6 .2 -9.4 .2 1.3 .2 5.7 .2 .1 .2 -1.4 .2 -5.5 .2 10 .1 -2.3 .2 -.4 .2 .6 .2 3.4 .2 .7 .2 -3.5 .2 -3.8 .2 2 .2 .9 .1 -3.2 .2 .5 .2 -3.6 .2 7 .2 -.2 .2 3.9 .2 -5 .2 -1.7 .1 3.8 .2 -8.5 .2 5.7 .2 -5.4 .2 6.1 .2 1.9 .2 1.3 .2 -2.2 .2 -2.8 .1 7.6 .2 -7.3 .2 -3.1 .2 -.8 .2 3.4 .2 -3.1 .2 2.4 .2 .9 .2 -3.3 .1 .9 .2 -3.6 .2 3.7 .2 -4 .2 -2.5 .2 5.6 .2 -2.7 .2 -1.4 .2 13.9 .1 -18 .2 14.9 .2 -15.7 .2 12.3 .2 3.4 .2 -3.2 .2 -4.8 .2 5 .2 -1 .1 -4.4 .2 5.1 .2 -3.1 .2 -.7 .2 9.9 .2 -3.2 .2 -5 .2 1.1 .1 -.6 .2 9.9 .2 -6.1 .2 -6.7 .2 1.3 .2 0 .2 3.5 .2 1.3 .2 5.8 .1 -1.8 .2 3.8 .2 -12.7 .2 2.8 .2 .1 .2 .7 .2 -3.6 .2 -.4 .2 5.4 .1 -7.1 .2 3.7 .2 .2 .2 -.5 .2 -2.7 .2 -.1 .2 2.5 .2 -5.6 .2 12.6 .1 -9.3 .2 6.4 .2 -2.6 .2 .3 .2 -7.2 .2 5 .2 0 .2 -2.1 .1 8.8 .2 -5.9 .2 -3.5 .2 6.6 .2 -2.6 .2 1.5 .2 4 .2 -10.8 .2 3.1 .1 -5.7 .2 2.8 .2 5.5 .2 -6.9 .2 4.9 .2 -.5 .2 3.1 .2 2 .2 -5.9 .1 3.6 .2 -1.1 .2 2 .2 -6.1 .2 6.9 .2 .3 .2 -9.6 .2 3.6 .2 -.6 .1 -.3 .2 -3.3 .2 7.7 .2 -.8 .2 3.7 .2 -2.3 .2 4.7 .2 -3.9 .2 -3.1 .1 -3.2 .2 -2.8 .2 8.8 .2 .9 .2 -5.8 .2 4.6 .2 -7.7 .2 2.7 .1 6 .2 -3.8 .2 -4.4 .2 8.3 .2 -3.7 .2 .2 .2 -2.4 .2 2.3 .2 1.7 .1 -3.1 .2 2.5 .2 .5 .2 -.8 .2 1.1 .2 1 .2 -.3 .2 -.7 .2 2.1 .1 5.7 .2 -3.8 .2 -6.6 .2 4.7 .2 -.6 .2 -1.9 .2 6.7 .2 1 .2 -1.8 .1 5.3 .2 -7.9 .2 -.6 .2 1.9 .2 .2 .2 1.9 .2 -.3 .2 10.5 .2 -11.9 .1 2.3 .2 .1 .2 -.2 .2 -.1 .2 6.5 .2 1.6 .2 -6.2 .2 -1.7 .1 -2.8 .2 5.6 .2 -4.4 .2 -2.3 .2 5.6 .2 -.4 .2 -9.1 .2 13.6 .2 -5.3 .1 2.2 .2 -1.7 .2 -13.3 .2 14.9 .2 -4.3 .2 .2 .2 .3 .2 -5 .2 4.9 .1 -4.4 .2 -2.3 .2 4.3 .2 -6.5 .2 9 .2 -5.5 .2 -3 .2 9.7 .2 -3.2 .1 -3.4 .2 1.3 .2 1.3 .2 -6.5 .2 7.6 .2 -6 .2 -1.8 .2 8.5 .1 -3.3 .2 2.4 .2 -2.3 .2 -1 .2 11.1 .2 -3.6 .2 .3 .2 -11.2 .2 6.2 .1 -3.4 .2 7.7 .2 -6.2 .2 6.7 .2 -2.3 .2 .4 .2 -1.4 .2 1.4 .2 -2.4 .1 -.6 .2 -7.2 .2 7.5 .2 -5.2 .2 6.6 .2 -.3 .2 -2.8 .2 -1.7 .2 1.4 .1 1.2 .2 -2.3 .2 -.4 .2 5.7 .2 -6.6 .2 -1.8 .2 4.2 .2 2 .2 3.1 .1 -4.2 .2 -3.2 .2 6.2 .2 .3 .2 -.8 .2 -6.7 .2 7.4 .2 4.1 .1 -7 .2 -4.6 .2 6.2 .2 1.3 .2 -1.3 .2 -6.3 .2 6.6 .2 .5 .2 -3.6 .1 4.3 .2 4.6 .2 -8.3 .2 .9 .2 -2.2 .2 2.8 .2 -3 .2 6.7 .2 -2.3 .1 3 .2 -7.1 .2 4 .2 -7.5 .2 7.1 .2 5.5 .2 -6.8 .2 2.1 .2 .8 .1 -2.8 .2 -5.3 .2 5.3 .2 2.6 .2 -8 .2 .7 .2 4.5 .2 2.1 .2 -4.4 .1 4.8 .2 -.1 .2 1.6 .2 -5.3 .2 -4.5 .2 4.2 .2 -4.1 .2 11.2 .1 -7 .2 7.1 .2 -9.5 .2 -1 .2 10.4 .2 -3.9 .2 -2.5 .2 7.7 .2 -3.8 .1 1.3 .2 -4.4 .2 1.4 .2 1.8 .2 -.6 .2 -2.7 .2 -1.2 .2 2.2 .2 -4.1 .1 3.9 .2 -3.4 .2 -.6 .2 2.5 .2 -3.8 .2 1.9 .2 -.2 .2 7.1 .2 -3.2 .1 -2.4 .2 1.2 .2 3.9 .2 -1.6 .2 2 .2 .2 .2 -6.8 .2 3.9 .1 -2.3 .2 -1.2 .2 3.3 .2 -2.7 .2 5.1 .2 -1.4 .2 -6.1 .2 -2.1 .2 2.8 .1 4.7 .2 -.2 .2 -4.9 .2 2.8 .2 -1.6 .2 0 .2 -5.8 .2 3.6 .2 -2.3 .1 2.7 .2 1.1 .2 4.3 .2 -4.5 .2 -3.6 .2 2.5 .2 3.7 .2 4.7 .2 -6 .1 -4.2 .2 6.7 .2 -1.3 .2 -3 .2 -3.9 .2 8.6 .2 -4.9 .2 -.4 .2 3.8 .1 -3.7 .2 5.8 .2 -5.7 .2 -1.3 .2 2.3 .2 6 .2 -8.3 .2 .9 .1 2.2 .2 -1.4 .2 3.7 .2 .2 .2 -1.7 .2 -1.9 .2 -.6 .2 3 .2 -4.1 .1 1.9 .2 3.8 .2 4.3 .2 1.1 .2 -9.7 .2 7.2 .2 .8 .2 -2.9 .2 -4.7 .1 -4.1 .2 4.5 .2 1.8 .2 -1.1 .2 .2 .2 2 .2 5.6 .2 -7.9 .2 1.2 .1 3.1 .2 -.7 .2 -3.8 .2 1.7 .2 .5 .2 -1.3 .2 -6.2 .2 9.2 .2 -4.9 .1 3 .2 3.2 .2 -6.3 .2 1.3 .2 -2 .2 -1.2 .2 1.5 .2 3.2 .1 -.3 .2 -.6 .2 6 .2 -1.5 .2 -3.9 .2 3.9 .2 -3.1 .2 -3.9 .2 4.4 .1 -2.5 .2 4.8 .2 -4.9 .2 4.9 .2 -.1 .2 -1.3 .2 2.1 .2 -8.2 .2 6 .1 1.4 .2 -7.8 .2 2.9 .2 -1.1 .2 6.1 .2 1.1 .2 4.3 .2 -9.3 .2 3.7 .1 1 .2 -6.2 .2 7.7 .2 -2.9 .2 2.3 .2 -1.9 .2 -2.4 .2 2.6 .1 .5 .2 3.7 .2 -.6 .2 -2.9 .2 .2 .2 2.6 .2 -2.5 .2 -.4 .2 3.1 .1 -.2 .2 -5.7 .2 -2.9 .2 1.3 .2 5 .2 1 .2 0 .2 -5.5 .2 6.1 .1 -8.4 .2 4.7 .2 -3.4 .2 2.2 .2 -5.5 .2 .2 .2 8.4 .2 -11 .2 5 .1 5.4 .2 -5.3 .2 1.2 .2 1.3 .2 -3 .2 -1.5 .2 7.1 .2 -3.3 .2 1.7 .1 -1.1 .2 5.5 .2 -8.1 .2 .6 .2 -6.1 .2 8.1 .2 -1 .2 -3.3 .1 -.4 .2 -2.4 .2 0 .2 5.5 .2 -4 .2 -1.9 .2 6.8 .2 -11.2 .2 6.6 .1 .6 .2 5.5 .2 -3 .2 4.1 .2 -9.9 .2 5.6 .2 -1.9 .2 -1.4 .2 1.4 .1 .9 .2 -3.1 .2 5.7 .2 3.8 .2 -2.3 .2 -7.3 .2 -.4 .2 7.1 .2 -.8 .1 -1.5 .2 6.1 .2 -4.3 .2 2.2 .2 -6.2 .2 12.1 .2 -4.4 .2 2.9 .2 -8.9 .1 .1 .2 1.4 .2 -9.6 .2 5.9 .2 5.6 .2 -4.2 .2 -2.8 .2 3 .1 -6 .2 5.7 .2 3.4 .2 3.7 .2 -9.3 .2 14.3 .2 -10.8 .2 -3.6 .2 4.4 .1 -1.6 .2 -2.5 .2 -1.5 .2 -1 .2 2.9"/><path stroke="#00ff00" d="M386.3 269.8l.2 -30.2 .2 0 .2 -2 .2 .1 .1 -.8 .2 -.6 .2 -6.5 .2 -.3 .2 3.6 .2 0 .2 -.2 .2 -2.1 .2 2.3 .1 -6.5 .2 1.3 .2 6.7 .2 -5.8 .2 -1 .2 -8.8 .2 3.9 .2 4.4 .1 2.9 .2 -3.9 .2 1.1 .2 2 .2 -3.8 .2 -1.4 .2 1 .2 1.3 .2 -3.8 .1 4.5 .2 -4 .2 -4 .2 1.5 .2 4.9 .2 -3.3 .2 1 .2 -2.4 .2 -2.8 .1 5 .2 -.9 .2 -6.9 .2 6.8 .2 -4.7 .2 -1.5 .2 3 .2 -3.1 .2 .8 .1 2.1 .2 -3.4 .2 2.7 .2 -4 .2 4.9 .2 -3.5 .2 -.3 .2 5 .2 -9.4 .1 7.6 .2 -2.4 .2 1 .2 -1.2 .2 -1.5 .2 .6 .2 -2.1 .2 3.8 .1 -.9 .2 2.4 .2 -.8 .2 -2.2 .2 .4 .2 1.3 .2 -1.9 .2 -.8 .2 4 .1 -3.1 .2 3.7 .2 1.1 .2 -2 .2 -2.8 .2 -1.7 .2 1.7 .2 -.6 .2 7.4 .1 -2.2 .2 -4.9 .2 -.1 .2 .4 .2 4.7 .2 1.3 .2 -1.7 .2 -6.1 .2 1 .1 -5.9 .2 8.3 .2 -1.5 .2 3 .2 -3 .2 -1.1 .2 .7 .2 -6.1 .2 6.6 .1 -4.8 .2 .6 .2 4 .2 -3.3 .2 3.6 .2 -2.3 .2 2.3 .2 -3.3 .1 4.5 .2 -2.8 .2 -3.6 .2 1 .2 0 .2 1.3 .2 -3 .2 3.3 .2 -4.6 .1 2.2 .2 -.8 .2 -.4 .2 -1.8 .2 -.8 .2 -2.1 .2 .9 .2 3.4 .2 -2 .1 -2.7 .2 -.8 .2 3.8 .2 3.3 .2 -6.8 .2 5.6 .2 .1 .2 1.9 .2 -3.2 .1 6.4 .2 -5.6 .2 -3.8 .2 -4.6 .2 6.8 .2 -.4 .2 .2 .2 5.3 .1 1.6 .2 -3.8 .2 -2 .2 3.7 .2 -3.7 .2 2.9 .2 .4 .2 -2 .2 -2.6 .1 -.1 .2 2.3 .2 -.5 .2 .7 .2 -.6 .2 -3.6 .2 -.7 .2 6.9 .2 -2.3 .1 1.5 .2 -4.7 .2 -1.1 .2 8.4 .2 -4.8 .2 -4.3 .2 6.1 .2 -10.8 .2 2.9 .1 5.8 .2 1.5 .2 -6.6 .2 5.6 .2 2.8 .2 -3 .2 5.3 .2 -1.3 .2 -8.4 .1 6.7 .2 -1.9 .2 4.3 .2 -.8 .2 -6.4 .2 4.3 .2 -2.9 .2 -.9 .1 3.9 .2 2.6 .2 4 .2 -10.1 .2 3.2 .2 -6.4 .2 6.9 .2 .2 .2 2.7 .1 1.8 .2 -3.9 .2 .5 .2 -1.2 .2 1.9 .2 -.1 .2 -3.7 .2 .5 .2 5.1 .1 -1 .2 -3.2 .2 -1 .2 -5.3 .2 5.5 .2 -3.4 .2 6.6 .2 -3.4 .2 -7.2 .1 9 .2 -2.2 .2 0 .2 -4.5 .2 3.9 .2 -.5 .2 -4.1 .2 2.6 .2 .1 .1 5.2 .2 1 .2 -6.5 .2 4.9 .2 -8.8 .2 -.4 .2 6.4 .2 2 .1 .4 .2 -6.6 .2 2 .2 4.5 .2 -1.1 .2 -4 .2 3.7 .2 -.9 .2 4.4 .1 -7.6 .2 .4 .2 3 .2 3.5 .2 -5.4 .2 -2.2 .2 -.3 .2 1.2 .2 5.6 .1 -2.9 .2 -2.9 .2 5 .2 1.4 .2 -6.8 .2 3.9 .2 4.8 .2 -7 .2 1.7 .1 2.1 .2 -2.3 .2 2.2 .2 -1.3 .2 4.9 .2 -7.6 .2 5.2 .2 -3.2 .1 1 .2 6.9 .2 -8.1 .2 3.5 .2 -4.9 .2 6.7 .2 -4.7 .2 -3.4 .2 2.6 .1 0 .2 -.7 .2 2.7 .2 1.2 .2 1.2 .2 -8.4 .2 2.2 .2 2.4 .2 4.3 .1 -7.4 .2 3.6 .2 -1 .2 2.2 .2 -1.4 .2 3.9 .2 -.9 .2 -3.4 .2 -.2 .1 2 .2 -7.7 .2 1.7 .2 7.8 .2 3.8 .2 -.9 .2 -6.7 .2 -.8 .2 -5.4 .1 3 .2 3.9 .2 -2.3 .2 2 .2 1.1 .2 -2.1 .2 6.5 .2 -4.7 .1 -2.6 .2 1.8 .2 -3.3 .2 -2.1 .2 1.2 .2 -2.3 .2 -2.9 .2 3.1 .2 -2.4 .1 2.5 .2 1.6 .2 -5.6 .2 1.9 .2 10 .2 -13.7 .2 4.7 .2 .1 .2 -3.9 .1 3.7 .2 -1.5 .2 -5.7 .2 .8 .2 7.9 .2 0 .2 .4 .2 -4.9 .2 1.7 .1 -.5 .2 2.1 .2 -1.6 .2 -2.7 .2 4.5 .2 2 .2 -3.3 .2 5.3 .2 -2.4 .1 -.4 .2 -5.6 .2 5.2 .2 -5.7 .2 4.4 .2 .6 .2 .7 .2 -.2 .1 1.8 .2 2.1 .2 -2.3 .2 -6.8 .2 4.2 .2 -5.8 .2 -.5 .2 7.8 .2 -8.4 .1 4.2 .2 4.1 .2 -.8 .2 -2.3 .2 7.3 .2 -6.5 .2 3.1 .2 -3.6 .2 -.7 .1 1.4 .2 -.1 .2 -.4 .2 5.3 .2 -9.1 .2 5.9 .2 -1.1 .2 -1.8 .2 3.9 .1 .6 .2 4.3 .2 -9.3 .2 -2.9 .2 3.8 .2 4.5 .2 4.9 .2 -9.9 .1 6.1 .2 -1.3 .2 -.6 .2 .4 .2 -1.3 .2 -3.3 .2 1.7 .2 3.3 .2 -5 .1 1.8 .2 4.2 .2 -3.8 .2 -5.6 .2 1 .2 .8 .2 1.4 .2 7.3 .2 -8.2 .1 -4.6 .2 5 .2 1.4 .2 2.4 .2 -2.4 .2 1.2 .2 .7 .2 -2.4 .2 .2 .1 -2.4 .2 -.8 .2 3.4 .2 -3.5 .2 1.5 .2 2.4 .2 -.2 .2 -1.4 .2 1.7 .1 .5 .2 -5.5 .2 4.7 .2 -3 .2 -1.1 .2 1.5 .2 2.1 .2 -.8 .1 3.4 .2 -4.7 .2 5 .2 -.9 .2 2.4 .2 -5 .2 5.3 .2 -.9 .2 -3.4 .1 6.1 .2 -1.5 .2 3.5 .2 -5.2 .2 -.2 .2 2.4 .2 -2.6 .2 -2.4 .2 -.2 .1 -.9 .2 1.3 .2 4 .2 -1.2 .2 -.3 .2 -3.3 .2 4.8 .2 2.4 .2 -2.1 .1 -4.3 .2 .7 .2 .8 .2 3.8 .2 -2.2 .2 1.5 .2 -4.1 .2 -.5 .2 2.5 .1 -4.7 .2 0 .2 7.8 .2 -1.4 .2 3.5 .2 0 .2 .5 .2 -2.2 .1 -2.6 .2 1.5 .2 9 .2 -8 .2 2.5 .2 -5.2 .2 2.9 .2 -7.4 .2 -.4 .1 -2.8 .2 6.8 .2 -.2 .2 4.8 .2 -.5 .2 -6.5 .2 8.2 .2 -2.3 .2 -2.6 .1 .4 .2 2.8 .2 -4.2 .2 3.2 .2 .3 .2 1.4 .2 -4.3 .2 -1.6 .2 2.6 .1 -3.4 .2 3.6 .2 .1 .2 -3.3 .2 4 .2 2.4 .2 -5.1 .2 -1.2 .1 -2.2 .2 9.3 .2 -7.6 .2 1.4 .2 1.7 .2 -2.1 .2 -3.9 .2 .8 .2 -.1 .1 2.6 .2 -4.9 .2 2.6 .2 -1.5 .2 5.3 .2 0 .2 -.9 .2 -.3 .2 -3 .1 7.6 .2 -7.1 .2 3.6 .2 -6.5 .2 4.3 .2 .4 .2 -1.2 .2 4.4 .2 -5.8 .1 -.2 .2 -1.7 .2 1.2 .2 2 .2 1.4 .2 -2.9 .2 .7 .2 .9 .2 -3.6 .1 3.4 .2 5.1 .2 -2.9 .2 -4.1 .2 1.4 .2 3.6 .2 2 .2 -3.4 .1 5.9 .2 -.4 .2 -5.9 .2 9.4 .2 -6.9 .2 3.8 .2 -.7 .2 1.6 .2 2.3 .1 -5.6 .2 2.6 .2 -1.6 .2 -2.2 .2 1 .2 .6 .2 2.8 .2 4.6 .2 -11.3 .1 10 .2 -3 .2 -1.9 .2 2.6 .2 -3.3 .2 2.5 .2 -.6 .2 -7.4 .2 8.6 .1 -6.2 .2 10.3 .2 -5.5 .2 1.3 .2 -2.9 .2 8.7 .2 .2 .2 -6.1 .2 -.9 .1 -1.5 .2 4 .2 -3.3 .2 .3 .2 3.9 .2 -5.7 .2 4.3 .2 3.2 .1 -3.9 .2 3.3 .2 -3.4 .2 3.9 .2 -.2 .2 -2.1 .2 -2.7 .2 3.3 .2 -4.8 .1 -.3 .2 5 .2 0 .2 -4.3 .2 4.9 .2 -.6 .2 -5.2 .2 1.3 .2 1.8 .1 8.3 .2 -4.8 .2 3.8 .2 -5.7 .2 -2 .2 -.9 .2 7.3 .2 -5.7 .2 -.3 .1 -.9 .2 .1 .2 -1.4 .2 .7 .2 4.4 .2 1.6 .2 -5.8 .2 3.3 .1 4.2 .2 -1.5 .2 -1.6 .2 1 .2 -4.8 .2 0 .2 6.7 .2 -2.4 .2 -4.8 .1 .8 .2 -.2 .2 -5.8 .2 7.4 .2 -6.7 .2 4.9 .2 7.5 .2 -4.4 .2 -3.2 .1 1.6 .2 -3 .2 .9 .2 -2.1 .2 2.5 .2 -1.9 .2 1.4 .2 2 .2 -2.5 .1 2.7 .2 -5.9 .2 6.5 .2 .1 .2 -.5 .2 -2.7 .2 -3.7 .2 8.7 .2 -2.8 .1 .8 .2 2.5 .2 1.8 .2 -6.2 .2 6 .2 -10.4 .2 1.8 .2 -.4 .1 -1.2 .2 5.7 .2 1.2 .2 3.3 .2 -7 .2 .5 .2 2.7 .2 .4 .2 -4.2 .1 1.9 .2 3.1 .2 -5.3 .2 5.5 .2 -3 .2 4.3 .2 -2.5 .2 -3.1 .2 4.4 .1 -9.3 .2 11.2 .2 -4.4 .2 2.8 .2 -2.9 .2 -5 .2 5.3 .2 -.3 .2 -2.4 .1 6.5 .2 -1.5 .2 .4 .2 -9.8 .2 11.7 .2 -9.6 .2 6.2 .2 -2.6 .2 .3 .1 -3.2 .2 4.5 .2 0 .2 -.9 .2 1.1 .2 .1 .2 -1.9 .2 2.2 .1 -3 .2 1.8 .2 -5.2 .2 6.8 .2 -5.3 .2 2.1 .2 -5.3 .2 3.3 .2 .6 .1 2.3 .2 .5 .2 -7.6 .2 1.1 .2 6 .2 2.1 .2 -5.2 .2 .5 .2 3.1 .1 -.6 .2 -.4 .2 1.6 .2 -2.1 .2 3.5 .2 2.9 .2 -9.8 .2 5.7 .2 -3.7 .1 2.9 .2 -1.4 .2 -.9 .2 2 .2 -8.6 .2 4.6 .2 5 .2 -2.5 .1 0 .2 1 .2 -4 .2 -.8 .2 2.2 .2 -1 .2 6.2 .2 -5.6 .2 4.7 .1 .7 .2 -1.7 .2 -5.6 .2 8.6 .2 -1.8 .2 -4.2 .2 .7 .2 3.9 .2 1.9 .1 -.4 .2 -5.9 .2 9.1 .2 -7.9 .2 .5 .2 .6 .2 -5 .2 4.3 .2 3.8 .1 1.6 .2 -2.9 .2 -4.8 .2 5.8 .2 -1.8 .2 2.9 .2 -3.2 .2 -5.6 .2 6.4 .1 -1.2 .2 4.5 .2 2.6 .2 -3.7 .2 -2.2 .2 -1.2 .2 5.1 .2 -2.9 .1 -4.3 .2 3.7 .2 -5.8 .2 2.2 .2 2.5 .2 1.4 .2 -4.8 .2 -3.7 .2 11.7 .1 -8.5 .2 2.2 .2 -3.1 .2 -.5 .2 2.8 .2 -5.6 .2 3.7 .2 5 .2 -3.8 .1 4.1 .2 -6 .2 2.2 .2 2.5 .2 -3.6 .2 1.9 .2 .6 .2 -4.2 .2 2.3 .1 -.4 .2 5.7 .2 -1.9 .2 -4.8 .2 .7 .2 .8 .2 4.6 .2 -3.9 .2 6.3 .1 -5 .2 -5.3 .2 -1.9 .2 2.5 .2 .4 .2 4.3 .2 -5.3 .2 2.2 .1 -8.3 .2 7.3 .2 0 .2 4.7 .2 -6.9 .2 2.9 .2 -6 .2 4.4 .2 1.6 .1 -.4 .2 1.3 .2 3.4 .2 -7.4 .2 -1.9 .2 7.7 .2 5.7 .2 -8.8 .2 .4 .1 1.5 .2 3.3 .2 -7.7 .2 9.6 .2 -9.1 .2 3.6 .2 5.3 .2 -1.9 .2 0 .1 -8.4 .2 2.6 .2 3.3 .2 -.9 .2 -4.8 .2 1.3 .2 -4.1 .2 9 .1 -2.2 .2 2.7 .2 -.7 .2 3.9 .2 -5.4 .2 4 .2 -4.5 .2 -1.7 .2 4.2 .1 .4 .2 .5 .2 2.2 .2 -2.6 .2 -1.3 .2 .9 .2 -4.3 .2 8.2 .2 -3.2 .1 -1.3 .2 -.6 .2 2.8 .2 -1 .2 -.9 .2 -1.7 .2 2.7 .2 -6 .2 2.4 .1 -4.3 .2 4.5 .2 -4.2 .2 2.2 .2 -1.9 .2 -2.8 .2 2.1 .2 1.3 .2 3.1 .1 4.9 .2 -5 .2 0 .2 -7.6 .2 5.2 .2 -1.1 .2 1.5 .2 1.1 .1 -3 .2 5.5 .2 -3.9 .2 6.2 .2 -3.2 .2 -6.3 .2 2.7 .2 -1.6 .2 -1.8 .1 2.4 .2 8.7 .2 -1.7 .2 -6.9 .2 3.9 .2 3.3 .2 .1 .2 -6.2 .2 5.8 .1 -1.1 .2 -.2 .2 .3 .2 -1.7 .2 -1.5 .2 1.3 .2 -2.9 .2 3 .2 -6 .1 9.5 .2 -4.7 .2 -.2 .2 -.5 .2 1.9 .2 -.9 .2 .3 .2 2.6 .2 -2.6 .1 -.6 .2 1.7 .2 3.9 .2 -2.7 .2 -5.1 .2 4.1 .2 -2.1 .2 1.2 .1 3.4 .2 9 .2 -13.9 .2 7.8 .2 -1.7 .2 -1.3 .2 .8 .2 -2.1 .2 4.9 .1 -4.8 .2 4 .2 -4.3 .2 .1 .2 2.2 .2 -.2 .2 -1.7 .2 1.8 .2 -4.3 .1 .6 .2 3.9 .2 -7.8 .2 7.3 .2 -8 .2 5.3 .2 -4.5 .2 1.9 .2 3.4 .1 .4 .2 -5.7 .2 10 .2 -2.5 .2 .1 .2 -6.6 .2 3.3 .2 2.4 .1 -1.4 .2 -2 .2 3.8 .2 -2.3 .2 -3.3 .2 -.5 .2 -.3 .2 6.7 .2 -1.7 .1 2 .2 -2.2 .2 -1.5 .2 3.5 .2 -1.5 .2 4.5 .2 -7.5 .2 3.3 .2 -2.3 .1 3.6 .2 -.1 .2 -2 .2 .9 .2 -3.9 .2 4.2 .2 3.6 .2 -6.2 .2 4.8 .1 -3.5 .2 -1.6 .2 1.5 .2 -6.4 .2 2.9 .2 6.7 .2 -8.6 .2 5.5 .2 1 .1 -5 .2 6.3 .2 4.1 .2 -7.4 .2 0 .2 2.6 .2 -6.1 .2 8.2 .1 -1.4 .2 -4.3 .2 1.8 .2 3.4 .2 -1.6 .2 3.1 .2 .4 .2 -2.5 .2 .8 .1 -3.3 .2 .4 .2 -1.3 .2 .7 .2 -1.1 .2 1.3 .2 .8 .2 4 .2 -6.1 .1 -1.6 .2 -1 .2 .2 .2 .6 .2 -3.3 .2 3.6 .2 .1 .2 6.1 .2 -3.4 .1 -1.4 .2 1.9 .2 -6.8 .2 3.9 .2 -1.3 .2 1.6 .2 -5.5 .2 4.4 .2 -2.7 .1 3.7 .2 1 .2 -.4 .2 -1.4 .2 -1.1 .2 -1.4 .2 3.8 .2 1.4 .1 -2.4 .2 -1.7 .2 2.2 .2 2.1 .2 1.9 .2 -6.9 .2 6.2 .2 .3 .2 -2.5 .1 .5 .2 -1.7 .2 -.2 .2 3.7 .2 -2.2 .2 -3.8 .2 1.8 .2 .1 .2 2.5 .1 -1.4 .2 -3.9 .2 4.3 .2 -.8 .2 -3 .2 -5.6 .2 13.3 .2 -10.1 .2 1.2 .1 3.6 .2 -2.1 .2 7.4 .2 .1 .2 -3.7 .2 -3.3 .2 5.1 .2 -3.2 .1 2.3 .2 -5.8 .2 6 .2 -6.2 .2 8.8 .2 -5.1 .2 .9 .2 3.3 .2 -2.6 .1 -.5 .2 .5 .2 .6 .2 -.1 .2 -1.9 .2 -1.4 .2 1.5 .2 -1.4 .2 2.7 .1 -8.2 .2 5.6 .2 -.4 .2 5.1 .2 -6.8 .2 4.4 .2 -.9 .2 -1.1 .2 4.2 .1 -5.6 .2 2.5 .2 1.8 .2 .6 .2 2.4 .2 -2.3 .2 2.2 .2 -6.3 .2 5.2 .1 -11.9 .2 7.6 .2 3.1 .2 -8 .2 4.5 .2 3 .2 -1.5 .2 -5.3 .1 6 .2 2.6 .2 -4.4 .2 -1.5 .2 6.9 .2 -1.9 .2 -1.3 .2 -3.1 .2 .8 .1 5.2 .2 -4.9 .2 4 .2 -5.6 .2 3.1 .2 -2.7 .2 -.3 .2 2.4 .2 -1.2 .1 2 .2 -1.2 .2 -2.9 .2 .2 .2 -3.3 .2 9 .2 -1.7 .2 -7.5 .2 3.1 .1 5.1 .2 -5 .2 2.9 .2 .4 .2 3.3 .2 -5.7 .2 -2 .2 -1.8 .2 2.4 .1 -.4 .2 1 .2 -.3 .2 -.9 .2 2.2 .2 1.6 .2 -3.2 .2 -.9 .1 -2.4 .2 3.2 .2 -.4 .2 2.3 .2 -2.7 .2 1 .2 -1.1 .2 1.1 .2 -4.1 .1 3.9 .2 0 .2 -4 .2 5.3 .2 -5.5 .2 5.6 .2 -6.2 .2 .5 .2 3.2 .1 1.3 .2 -.9 .2 4.1 .2 -5 .2 3.8 .2 -1.9 .2 -.7 .2 -3.6 .2 7.4 .1 .5 .2 1.9 .2 -7.8 .2 3.4 .2 -1 .2 -1.9 .2 0 .2 9.7 .1 -6.8 .2 0 .2 4.5 .2 1.6 .2 -7.2 .2 -5.7 .2 10.5 .2 -2.3 .2 -2.2 .1 8.4 .2 -10.4 .2 5.6 .2 -4.5 .2 -6.9 .2 6.9 .2 3.3 .2 -1.9 .2 1.2 .1 -2.4 .2 4.6 .2 -5 .2 2.5 .2 -9.3 .2 10.6 .2 -6.6 .2 8 .2 -8.9 .1 3.4 .2 6.9 .2 -3.3 .2 -.5 .2 2.5 .2 -4.3 .2 2.4 .2 -2.4 .2 -1.8 .1 .4 .2 1.7 .2 .6 .2 -1.1 .2 2.1 .2 -1.1 .2 6 .2 -4.9 .1 -4.4 .2 2.2 .2 .2 .2 -.3 .2 -3.9 .2 5.6 .2 4.9 .2 -9.1 .2 3.8 .1 1.8 .2 .9 .2 2 .2 -4.2 .2 -1.1 .2 -4.1 .2 6.1 .2 -.5 .2 1.4 .1 1.2 .2 -4.6 .2 2.8 .2 -1.2 .2 -4 .2 8.9 .2 -5.5 .2 -.6 .2 -3.3 .1 3.8 .2 -.3 .2 .9 .2 -4.2 .2 1.9 .2 -.9 .2 3 .2 -1 .2 -4 .1 3.4 .2 -2.9 .2 -5.3 .2 1.9 .2 3.5 .2 0 .2 1.5 .2 -.7 .1 1.2 .2 -.5 .2 2 .2 1.1 .2 -6.7 .2 6.4 .2 .9 .2 1.4 .2 -8.2 .1 -4.5 .2 4.1 .2 2.9 .2 -3.2 .2 1.1 .2 -1.1 .2 4.6 .2 -3.3 .2 3.9 .1 -2.2 .2 -1.5 .2 0 .2 -4.4 .2 .5 .2 4.9 .2 -5.3 .2 10.3 .2 -1.4 .1 -1.9 .2 -.1 .2 -.8 .2 .3 .2 -6 .2 8.1 .2 -4.7 .2 2.7 .1 -3.4 .2 .7 .2 -.5 .2 -2.6 .2 -.6 .2 10.2 .2 -6.4 .2 -4.8 .2 1.7 .1 1.2 .2 -.6 .2 -4.1 .2 2.7 .2 -.6 .2 .6 .2 -1 .2 1.9 .2 -3.8 .1 2.7 .2 -.3 .2 -1.4 .2 9.3 .2 -4.2 .2 -1 .2 1.4 .2 .6 .2 -1.5 .1 -.1 .2 3.7 .2 -1.9 .2 -3.4 .2 2.9 .2 -2.1 .2 -1.1 .2 3.1 .2 .2 .1 -5.2 .2 7.3 .2 -2.7 .2 -.4 .2 2.1 .2 5.2 .2 -7.2 .2 -3.2 .1 7.5 .2 -2.3 .2 2.9 .2 -1.8 .2 .8 .2 -1.2 .2 5 .2 -2 .2 -2.6 .1 1.7 .2 1.7 .2 -4.2 .2 6.5 .2 .7 .2 -3.5 .2 5.6 .2 -9.5 .2 7.8 .1 -1 .2 -5.5 .2 5.2 .2 -8.6 .2 2.4 .2 .2 .2 2.4 .2 -1.2 .2 1.3 .1 -2.7 .2 6 .2 -5 .2 2.9 .2 -1.7 .2 -2.7 .2 6.2 .2 -7.1 .2 3.4 .1 1.5 .2 -2.1 .2 5.3 .2 -3.1 .2 .5 .2 -3.8 .2 1.9 .2 2.4 .1 -3.5 .2 .5 .2 -1.5 .2 2.8 .2 -1.2 .2 -5.2 .2 9 .2 -5.5 .2 3.9 .1 -4.8 .2 4.9 .2 -6.8 .2 -3.8 .2 9.3 .2 -6 .2 -3.8 .2 7.6 .2 -1.5 .1 .1 .2 -.8 .2 1.2 .2 -3.8 .2 1.1 .2 -7 .2 .9 .2 2.8 .2 3.1 .1 .5 .2 3.9 .2 -6 .2 1 .2 -.9 .2 -.5 .2 -6.1 .2 6.8 .1 -2.4 .2 -1.1 .2 1.3 .2 -3 .2 1.8 .2 6 .2 -2.9 .2 3.5 .2 -3.8 .1 2.7 .2 3.3 .2 -.9 .2 -2.2 .2 2.1 .2 -2.2 .2 2.6 .2 .9 .2 .3 .1 -.6 .2 2 .2 8.2 .2 -6.4 .2 -3.8 .2 6.2 .2 -6.4 .2 3.5 .2 -10.2 .1 10.4 .2 -3.5 .2 3.5 .2 -4.5 .2 -.3 .2 3.4 .2 4.3 .2 -7.5 .2 4 .1 -6 .2 5.4 .2 -.9 .2 -2.3 .2 -.1 .2 -1.4 .2 4.9 .2 -2.2 .1 5.8 .2 -7.2 .2 2.4 .2 -.8 .2 1.2 .2 -.2 .2 -2.4 .2 4.9 .2 -2.3 .1 -4 .2 3.3 .2 1.1 .2 .2 .2 1.3 .2 -2.8 .2 -5.5 .2 .6 .2 4.2 .1 -1.5 .2 -2.4 .2 8.8 .2 -11.3 .2 11.9 .2 -8.4 .2 .6 .2 1.8 .2 -1 .1 -.9 .2 .8 .2 1.9 .2 -7.1 .2 4.5 .2 -.2 .2 6.8 .2 -6.3 .2 .1 .1 -1.7 .2 1.5 .2 2.4 .2 1.2 .2 -3.8 .2 6.5 .2 -3.7 .2 -3.6 .1 10.3 .2 -13 .2 2 .2 2.3 .2 2 .2 -1.6 .2 .6 .2 -10.9 .2 13.4 .1 -8.7 .2 4.6 .2 4 .2 -2.1 .2 .1"/></g>
<rect x="386.30" y="160.50" width="301.60" height="109.30" fill="none" stroke="#000" stroke-width="1.2"/>
<text x="374.3" y="275.6" class="tk" text-anchor="end">0</text>
<text x="374.3" y="239.2" class="tk" text-anchor="end">1</text>
<text x="374.3" y="202.7" class="tk" text-anchor="end">2</text>
<text x="374.3" y="166.3" class="tk" text-anchor="end">3</text>
<text x="386.3" y="292.3" class="tk" text-anchor="middle">0</text>
<text x="446.6" y="292.3" class="tk" text-anchor="middle">20</text>
<text x="506.9" y="292.3" class="tk" text-anchor="middle">40</text>
<text x="567.3" y="292.3" class="tk" text-anchor="middle">60</text>
<text x="627.6" y="292.3" class="tk" text-anchor="middle">80</text>
<text x="687.9" y="292.3" class="tk" text-anchor="middle">100</text>
<path d="M377.70 269.50H386.30M377.70 233.50H386.30M377.70 196.50H386.30M377.70 160.50H386.30M386.50 269.80V277.30M446.50 269.80V277.30M506.50 269.80V277.30M567.50 269.80V277.30M627.50 269.80V277.30M687.50 269.80V277.30" stroke="#000" stroke-width="1.2" fill="none"/>
<ellipse cx="402.50" cy="327.30" rx="12.2" ry="10.8" fill="#d9d9d9"/>
<text x="404.05" y="333.30" class="lt">F</text>
<text x="431.75" y="412.9" fill="#ff0000" stroke="#ff0000" class="lg" textLength="70.48" lengthAdjust="spacing">Bexarotene,</text>
<text x="505.00" y="412.7" fill="#000000" stroke="#000000" class="lg" textLength="71.12" lengthAdjust="spacing">Capmatinib.</text>
<text x="583.05" y="413.2" fill="#000000" stroke="#000000" class="lg" textLength="71.26" lengthAdjust="spacing">Ref/HDAC6</text>
<g clip-path="url(#cF)" fill="none" stroke-width="0.90" stroke-linejoin="round"><path stroke="#000000" d="M386.3 421.1l.2 -47.2 .2 -1.7 .2 .3 .2 -2.8 .1 -2.7 .2 .8 .2 -4.5 .2 2.1 .2 -4.6 .2 2.2 .2 -.6 .2 .6 .2 -2.1 .1 1.5 .2 -.3 .2 1.1 .2 1.5 .2 .5 .2 -5.6 .2 .8 .2 -1.7 .1 1.3 .2 -.1 .2 -6.9 .2 11.8 .2 -4.1 .2 -3.1 .2 -3 .2 7.6 .2 1.5 .1 2.1 .2 -1.2 .2 -3 .2 .5 .2 -2.5 .2 -.5 .2 5.6 .2 2 .2 -2.3 .1 -3.8 .2 -4.7 .2 11.8 .2 -8 .2 4.7 .2 -4.5 .2 -3 .2 3.9 .2 2.2 .1 -.7 .2 -2 .2 1.5 .2 .5 .2 2.1 .2 -2.4 .2 0 .2 -2.8 .2 -.7 .1 -.3 .2 7.6 .2 -4.4 .2 1 .2 -1.3 .2 2.5 .2 .4 .2 -7 .1 7.6 .2 1.5 .2 -1.3 .2 -6.3 .2 1.7 .2 6.4 .2 0 .2 -3.2 .2 1.3 .1 5.1 .2 -.6 .2 -1.9 .2 7.2 .2 -3.2 .2 -.9 .2 -3.2 .2 -2.2 .2 1.4 .1 2 .2 -2.1 .2 .8 .2 3.5 .2 4.8 .2 -3 .2 -1 .2 2.4 .2 -2.8 .1 -3.1 .2 4.2 .2 .7 .2 1.2 .2 -5.7 .2 -1.8 .2 5.2 .2 -6.9 .2 7.7 .1 -4.1 .2 .8 .2 -4.5 .2 5.9 .2 -5.8 .2 5.1 .2 5.7 .2 -4.9 .1 -1 .2 -5.8 .2 6.2 .2 -1.1 .2 -6.1 .2 4.5 .2 2.9 .2 1.8 .2 1.6 .1 -3.9 .2 -5.8 .2 5.6 .2 2.1 .2 -6.9 .2 -.5 .2 2.3 .2 -1.6 .2 .8 .1 .2 .2 -2.6 .2 9.5 .2 -3.5 .2 -2.1 .2 3.1 .2 -9.1 .2 13.7 .2 -8.4 .1 2.9 .2 -1 .2 -3.2 .2 4.7 .2 -1.7 .2 -7.5 .2 5.7 .2 4.5 .1 -.7 .2 2.1 .2 -5.9 .2 -3.2 .2 3.5 .2 -2.2 .2 3.5 .2 -5.7 .2 1.6 .1 -.1 .2 -3.3 .2 9.8 .2 -6.1 .2 7.2 .2 -6.3 .2 .4 .2 .1 .2 -1.7 .1 3.6 .2 -.5 .2 -3.3 .2 8.9 .2 -4.9 .2 1.9 .2 -3 .2 1.1 .2 4.6 .1 -3.8 .2 -4.4 .2 2.9 .2 -1 .2 2.4 .2 -1.7 .2 7.7 .2 -3.1 .2 -6.1 .1 2.8 .2 1 .2 .2 .2 8.7 .2 -9 .2 4.2 .2 -.6 .2 -4.3 .1 3.4 .2 .3 .2 -3.1 .2 -1.2 .2 -4.4 .2 9.7 .2 -4.7 .2 -5.9 .2 1.3 .1 -.7 .2 1.5 .2 -.8 .2 -4.9 .2 -4.3 .2 5.2 .2 -5.8 .2 6.6 .2 4.4 .1 -9.1 .2 9.8 .2 -5.5 .2 -2.1 .2 1.5 .2 -2.5 .2 -1.1 .2 -.8 .2 -1.3 .1 -2.3 .2 3 .2 -3.3 .2 2.6 .2 -2 .2 -.5 .2 3.8 .2 -2.9 .2 4.2 .1 9.9 .2 -3.5 .2 -8.8 .2 6.5 .2 -9.3 .2 7.3 .2 2.3 .2 3.9 .1 -2.6 .2 -1.6 .2 -.7 .2 1.4 .2 2.5 .2 3.6 .2 .9 .2 -1.9 .2 -.6 .1 1 .2 1.3 .2 -1.4 .2 7.2 .2 -4.2 .2 -1.1 .2 -3.3 .2 3.3 .2 .3 .1 -6.2 .2 .9 .2 -3 .2 4 .2 3.5 .2 -1.7 .2 -6.5 .2 -1.1 .2 4.6 .1 -1.3 .2 7 .2 -8.2 .2 3.5 .2 1.7 .2 .5 .2 -4.4 .2 4.1 .1 0 .2 5.7 .2 -6.8 .2 7.8 .2 -1.9 .2 -4.3 .2 .6 .2 -2.8 .2 3.3 .1 .6 .2 -3.5 .2 6.1 .2 -10.3 .2 6.3 .2 -7.6 .2 -2.3 .2 -1 .2 2.3 .1 -1.7 .2 -.6 .2 9.8 .2 -3.9 .2 -4.2 .2 .2 .2 -.4 .2 0 .2 -7 .1 10.4 .2 -3 .2 7.3 .2 -2.1 .2 -4.7 .2 6 .2 2 .2 -7.6 .2 4.8 .1 -4.9 .2 8.9 .2 -10.2 .2 11.7 .2 -2 .2 -1.8 .2 -2 .2 .9 .1 -6.7 .2 .5 .2 -.6 .2 4.1 .2 2.1 .2 6.9 .2 -8 .2 3 .2 -4.3 .1 2.5 .2 1 .2 -.4 .2 -5.3 .2 2.6 .2 3.1 .2 3.4 .2 -4.6 .2 .5 .1 1.2 .2 -4 .2 -1.1 .2 .6 .2 5.7 .2 .5 .2 -7.4 .2 5 .2 -4.3 .1 4.1 .2 -.5 .2 -5.6 .2 6.1 .2 -4.2 .2 .5 .2 3.3 .2 1.7 .2 1.4 .1 -6.7 .2 .9 .2 8.4 .2 -4 .2 9.2 .2 -7.2 .2 -6.1 .2 11.3 .1 -3.5 .2 5.4 .2 -3.8 .2 3.6 .2 -3.7 .2 6.6 .2 -5.3 .2 .6 .2 -.4 .1 -5.7 .2 5.7 .2 -.3 .2 2.8 .2 -7.1 .2 5.9 .2 2 .2 -7.5 .2 2.8 .1 -5.1 .2 4.4 .2 .7 .2 .9 .2 7.2 .2 -4.4 .2 -6.8 .2 3.4 .2 2.2 .1 -4.6 .2 -2 .2 -4.7 .2 11.1 .2 -.9 .2 3.9 .2 -.1 .2 -8.9 .1 2.7 .2 1.4 .2 -6 .2 -1.4 .2 2.2 .2 5.7 .2 -.6 .2 -7.4 .2 8.1 .1 1.1 .2 2.3 .2 -14.2 .2 7.5 .2 -2.7 .2 3.6 .2 .1 .2 2.6 .2 -8.4 .1 5.4 .2 -7.5 .2 6.5 .2 -3.5 .2 -2.5 .2 8.7 .2 -6.6 .2 3.3 .2 1.4 .1 -2.6 .2 2.4 .2 -4.1 .2 4.9 .2 -5.8 .2 -4 .2 1 .2 6.5 .2 -2.7 .1 -8.1 .2 3.2 .2 .7 .2 6.6 .2 -2.9 .2 -10.2 .2 3.5 .2 5.3 .1 -2 .2 -5.2 .2 2.6 .2 8.5 .2 -1.1 .2 -2.6 .2 -3.6 .2 6.3 .2 -.4 .1 6.3 .2 -6.7 .2 -3.1 .2 -.8 .2 5.5 .2 -4.4 .2 3.6 .2 2.2 .2 -5.6 .1 7.5 .2 -4.1 .2 1 .2 -3.8 .2 0 .2 -.1 .2 2.5 .2 -2.4 .2 4.9 .1 -5.1 .2 -8.8 .2 3.1 .2 -.6 .2 3.4 .2 .6 .2 -1.3 .2 -.5 .2 .6 .1 3.5 .2 -3.7 .2 5.5 .2 -9.8 .2 3.1 .2 1.1 .2 5.1 .2 -8 .1 -2.2 .2 5.6 .2 -1.3 .2 5.6 .2 -7.5 .2 1.5 .2 9.8 .2 -9.6 .2 3.4 .1 -.7 .2 .4 .2 1.2 .2 -6.5 .2 5.4 .2 -.8 .2 -1.1 .2 2.6 .2 2.3 .1 -4 .2 -.9 .2 3.7 .2 -1.7 .2 -3.9 .2 .7 .2 -2 .2 -1.1 .2 3.9 .1 0 .2 3.9 .2 -6.2 .2 4.8 .2 -2.4 .2 -3.5 .2 6.6 .2 4.8 .1 -1.2 .2 -2.8 .2 -7.5 .2 3.7 .2 .3 .2 4.9 .2 -4.8 .2 1.6 .2 -.9 .1 5.9 .2 -4.8 .2 7.3 .2 -4.5 .2 1 .2 -.4 .2 -3 .2 10.1 .2 -6.1 .1 1.4 .2 1.6 .2 -3.9 .2 -2.6 .2 3.9 .2 1.2 .2 -5.5 .2 6.8 .2 -6.3 .1 3.4 .2 -.6 .2 -1.1 .2 -4 .2 10.4 .2 -9.2 .2 7.8 .2 -4.9 .2 -1.8 .1 2.9 .2 4 .2 -.4 .2 0 .2 -2.4 .2 -1.4 .2 -1.5 .2 8.7 .1 -8.5 .2 -2.2 .2 6.1 .2 .3 .2 -6 .2 -3.9 .2 1.2 .2 2.7 .2 8.8 .1 -10.6 .2 5.7 .2 -2.9 .2 5.7 .2 -4.6 .2 3.6 .2 -1.3 .2 -7.6 .2 8.6 .1 -6.1 .2 3.4 .2 6.5 .2 -10.1 .2 3.3 .2 2.6 .2 .2 .2 3.2 .2 -9.2 .1 7.3 .2 -2.8 .2 4.7 .2 -7.4 .2 -2.6 .2 2.4 .2 -1 .2 5.9 .2 .8 .1 -4.8 .2 4.3 .2 -2 .2 1.7 .2 1.6 .2 -5.5 .2 -2.2 .2 -2.4 .1 1.9 .2 11.9 .2 -10 .2 -1.7 .2 1.7 .2 2.4 .2 -5.8 .2 1.4 .2 8.1 .1 -9.4 .2 -4 .2 4.4 .2 3.8 .2 -9.1 .2 3.2 .2 7.7 .2 -6.5 .2 -1.3 .1 .5 .2 6.3 .2 -.9 .2 -3.7 .2 -8.9 .2 8.4 .2 -.3 .2 2.2 .2 -1.9 .1 -3.6 .2 8.2 .2 -9.6 .2 7.7 .2 -.7 .2 1.2 .2 -.6 .2 -.5 .1 4.7 .2 -4.2 .2 7.1 .2 -13.5 .2 5.9 .2 6.4 .2 -6.4 .2 1.7 .2 1.2 .1 -3.6 .2 4.7 .2 -2.4 .2 -.8 .2 -3.5 .2 2.5 .2 -2 .2 11.7 .2 -11.3 .1 .7 .2 -3.2 .2 2.9 .2 -5.1 .2 4.8 .2 0 .2 -1.7 .2 4.2 .2 .2 .1 -4.9 .2 -.2 .2 .3 .2 -2.1 .2 4.2 .2 1.1 .2 -2.1 .2 .4 .2 2.4 .1 2.5 .2 -2 .2 1.7 .2 -4.1 .2 12.7 .2 -19.5 .2 10.9 .2 -6.3 .1 -.5 .2 -1.4 .2 5.6 .2 -7.3 .2 4.4 .2 -1.1 .2 4.3 .2 -2.4 .2 2.8 .1 -3.6 .2 -1.3 .2 1.8 .2 -.6 .2 -3.6 .2 4.4 .2 1.3 .2 4 .2 -8.3 .1 3.2 .2 .9 .2 1.9 .2 1.1 .2 -.8 .2 -3.6 .2 5.1 .2 -4.8 .2 -3.3 .1 5.2 .2 -1.4 .2 -6.3 .2 -3.7 .2 8.3 .2 -1.2 .2 3 .2 -7.4 .2 7.2 .1 -.2 .2 -2.7 .2 2.7 .2 -.4 .2 .9 .2 4.3 .2 -2.4 .2 7 .1 -6 .2 -5.4 .2 -2.8 .2 1.9 .2 4 .2 -3.7 .2 3.8 .2 2.3 .2 -8.8 .1 4.6 .2 -.3 .2 -1.4 .2 -.1 .2 1 .2 2 .2 -.9 .2 -1.2 .2 1.4 .1 5.7 .2 -5.3 .2 -3.7 .2 6.5 .2 -8.9 .2 -2.9 .2 2.8 .2 12.2 .2 -6.9 .1 -1 .2 -1.1 .2 6.4 .2 -7.3 .2 -2.8 .2 3 .2 -3.6 .2 7.3 .1 -3.6 .2 -.5 .2 5.5 .2 -3.2 .2 1.8 .2 -1 .2 5.2 .2 -5.1 .2 3.7 .1 -6.1 .2 6.5 .2 -3.6 .2 -1.5 .2 4.3 .2 -2.8 .2 -.3 .2 1.2 .2 -.3 .1 2.3 .2 -4.4 .2 .9 .2 3.9 .2 -.3 .2 1.4 .2 -3.4 .2 -2.3 .2 5.2 .1 -5.5 .2 7.9 .2 -3 .2 3.1 .2 -7.6 .2 9.8 .2 -6.4 .2 1.4 .2 -10.3 .1 5.9 .2 .5 .2 1.1 .2 -3.8 .2 5.5 .2 3.3 .2 -5.9 .2 3.6 .1 .9 .2 -5.2 .2 2.1 .2 4.8 .2 -8.2 .2 -2.7 .2 7.1 .2 3.1 .2 -6 .1 -.1 .2 -1.5 .2 -3.5 .2 3.2 .2 -3.8 .2 13.6 .2 -5.2 .2 -2.9 .2 -2.1 .1 1 .2 -3.6 .2 7.4 .2 3 .2 -8.8 .2 -1 .2 2.3 .2 4.9 .2 -1 .1 -3.7 .2 .8 .2 -4.2 .2 -.5 .2 3 .2 3.8 .2 -3.2 .2 1.7 .2 .2 .1 -.3 .2 4 .2 -.5 .2 -5.1 .2 2.1 .2 -3.9 .2 .7 .2 1.4 .1 8.2 .2 -4.9 .2 2.7 .2 -4.1 .2 1.8 .2 -3.8 .2 4 .2 -4.4 .2 5.7 .1 -1.5 .2 -.8 .2 -.1 .2 7.9 .2 -7.5 .2 4.9 .2 -5.8 .2 5.7 .2 -4.6 .1 -5.3 .2 0 .2 8.1 .2 -8.6 .2 7.4 .2 -3.8 .2 1.5 .2 .1 .2 1 .1 .1 .2 -4.1 .2 2.5 .2 .3 .2 3.9 .2 .3 .2 -2.6 .2 -3.1 .1 1.5 .2 2.2 .2 -2.9 .2 1.8 .2 -1.8 .2 -.7 .2 3.3 .2 -4.7 .2 2 .1 4.8 .2 -4.2 .2 3.2 .2 -2.7 .2 .3 .2 -2.4 .2 3.1 .2 -1.4 .2 -2.5 .1 .1 .2 -4.5 .2 6.5 .2 -1.1 .2 7.3 .2 -4.4 .2 5.8 .2 -.1 .2 -5.9 .1 3.7 .2 -2 .2 5.8 .2 -13.1 .2 13.9 .2 -8.4 .2 -7 .2 11.8 .2 -8.6 .1 1.9 .2 3 .2 -.4 .2 -.8 .2 -1.1 .2 -.3 .2 -2.7 .2 11.3 .1 -7.9 .2 1.8 .2 4.8 .2 -7.6 .2 -1 .2 2.1 .2 .4 .2 .5 .2 -1.9 .1 4.2 .2 -1.1 .2 2.5 .2 -6.5 .2 2.7 .2 2.5 .2 3.2 .2 -1.3 .2 -1.8 .1 -2.5 .2 -.2 .2 7.2 .2 -.2 .2 -1.1 .2 1.4 .2 1.1 .2 -11.6 .2 4 .1 2.8 .2 6.6 .2 -11.3 .2 2.1 .2 1.7 .2 -2.7 .2 2.2 .2 -5 .2 6 .1 -2.2 .2 3.2 .2 6 .2 -4.2 .2 -7.8 .2 2.9 .2 2.7 .2 -1.8 .1 -.3 .2 -2.5 .2 6.2 .2 -6.2 .2 6.9 .2 1.3 .2 -4.6 .2 -6.3 .2 7.3 .1 -2.9 .2 3.1 .2 -4.5 .2 1.4 .2 2.9 .2 -2 .2 -2.3 .2 -1.9 .2 5.9 .1 1.9 .2 -1.2 .2 2.9 .2 -6.5 .2 7.2 .2 -4.7 .2 -3.9 .2 4.5 .2 -.1 .1 -2.7 .2 9.6 .2 -9.9 .2 6.7 .2 -2.6 .2 5 .2 1.1 .2 -5.7 .1 -7.9 .2 -3.9 .2 -.1 .2 3.3 .2 .7 .2 -.7 .2 1.3 .2 5.2 .2 .8 .1 -2.1 .2 -.4 .2 3.2 .2 .6 .2 -2.2 .2 -12.9 .2 13 .2 -5.8 .2 1.1 .1 3 .2 4.7 .2 -9.5 .2 1.4 .2 5.6 .2 .1 .2 -1.3 .2 -5.5 .2 9.9 .1 -2.3 .2 -.4 .2 .6 .2 3.4 .2 .7 .2 -3.5 .2 -3.7 .2 1.9 .2 .9 .1 -3.2 .2 .5 .2 -3.5 .2 6.9 .2 -.2 .2 3.8 .2 -4.9 .2 -1.7 .1 3.8 .2 -8.4 .2 5.6 .2 -5.4 .2 6.2 .2 1.9 .2 1.2 .2 -2.2 .2 -2.7 .1 7.4 .2 -7.2 .2 -3.1 .2 -.7 .2 3.4 .2 -3.2 .2 2.5 .2 .9 .2 -3.3 .1 .8 .2 -3.5 .2 3.6 .2 -4 .2 -2.4 .2 5.5 .2 -2.7 .2 -1.3 .2 13.8 .1 -17.9 .2 14.8 .2 -15.6 .2 12.3 .2 3.3 .2 -3.2 .2 -4.7 .2 4.9 .2 -.9 .1 -4.4 .2 5 .2 -3 .2 -.8 .2 9.9 .2 -3.2 .2 -5 .2 1.1 .1 -.6 .2 9.9 .2 -6.1 .2 -6.6 .2 1.2 .2 .1 .2 3.4 .2 1.3 .2 5.8 .1 -1.8 .2 3.8 .2 -12.7 .2 2.9 .2 0 .2 .8 .2 -3.7 .2 -.3 .2 5.3 .1 -7 .2 3.6 .2 .2 .2 -.5 .2 -2.6 .2 -.1 .2 2.4 .2 -5.5 .2 12.5 .1 -9.2 .2 6.3 .2 -2.6 .2 .3 .2 -7.1 .2 4.9 .2 0 .2 -2.1 .1 8.8 .2 -5.9 .2 -3.4 .2 6.5 .2 -2.6 .2 1.5 .2 4 .2 -10.8 .2 3.2 .1 -5.7 .2 2.7 .2 5.5 .2 -6.8 .2 4.9 .2 -.5 .2 3 .2 2.1 .2 -5.9 .1 3.5 .2 -1 .2 1.9 .2 -6.1 .2 6.9 .2 .3 .2 -9.5 .2 3.6 .2 -.6 .1 -.4 .2 -3.2 .2 7.6 .2 -.7 .2 3.6 .2 -2.2 .2 4.6 .2 -3.9 .2 -3.1 .1 -3.2 .2 -2.7 .2 8.7 .2 1 .2 -5.8 .2 4.5 .2 -7.7 .2 2.7 .1 6 .2 -3.7 .2 -4.4 .2 8.2 .2 -3.7 .2 .2 .2 -2.3 .2 2.3 .2 1.7 .1 -3.2 .2 2.6 .2 .5 .2 -.9 .2 1.1 .2 1 .2 -.3 .2 -.6 .2 2 .1 5.7 .2 -3.8 .2 -6.5 .2 4.6 .2 -.5 .2 -1.9 .2 6.5 .2 1 .2 -1.7 .1 5.3 .2 -7.9 .2 -.6 .2 1.9 .2 .2 .2 1.9 .2 -.3 .2 10.5 .2 -11.9 .1 2.3 .2 .1 .2 -.2 .2 -.1 .2 6.5 .2 1.6 .2 -6.2 .2 -1.7 .1 -2.8 .2 5.6 .2 -4.4 .2 -2.3 .2 5.5 .2 -.3 .2 -9 .2 13.5 .2 -5.3 .1 2.2 .2 -1.8 .2 -13.1 .2 14.8 .2 -4.3 .2 .2 .2 .3 .2 -4.9 .2 4.8 .1 -4.4 .2 -2.2 .2 4.2 .2 -6.5 .2 9 .2 -5.5 .2 -3 .2 9.7 .2 -3.2 .1 -3.4 .2 1.3 .2 1.3 .2 -6.4 .2 7.5 .2 -5.9 .2 -1.8 .2 8.4 .1 -3.3 .2 2.4 .2 -2.3 .2 -1 .2 11.1 .2 -3.6 .2 .3 .2 -11.2 .2 6.2 .1 -3.4 .2 7.7 .2 -6.2 .2 6.7 .2 -2.3 .2 .4 .2 -1.4 .2 1.4 .2 -2.4 .1 -.6 .2 -7.1 .2 7.4 .2 -5.2 .2 6.6 .2 -.3 .2 -2.8 .2 -1.7 .2 1.4 .1 1.2 .2 -2.2 .2 -.5 .2 5.7 .2 -6.6 .2 -1.8 .2 4.2 .2 2 .2 3.1 .1 -4.2 .2 -3.1 .2 6.1 .2 .3 .2 -.8 .2 -6.6 .2 7.3 .2 4.1 .1 -7 .2 -4.6 .2 6.2 .2 1.3 .2 -1.3 .2 -6.2 .2 6.5 .2 .5 .2 -3.6 .1 4.3 .2 4.5 .2 -8.1 .2 .8 .2 -2.1 .2 2.7 .2 -2.9 .2 6.6 .2 -2.3 .1 3 .2 -7.1 .2 4 .2 -7.5 .2 7.2 .2 5.3 .2 -6.7 .2 2.1 .2 .8 .1 -2.8 .2 -5.3 .2 5.3 .2 2.6 .2 -7.9 .2 .6 .2 4.5 .2 2.1 .2 -4.4 .1 4.8 .2 -.1 .2 1.6 .2 -5.3 .2 -4.5 .2 4.2 .2 -4.1 .2 11.2 .1 -6.9 .2 7 .2 -9.5 .2 -1 .2 10.4 .2 -3.9 .2 -2.5 .2 7.6 .2 -3.7 .1 1.3 .2 -4.3 .2 1.3 .2 1.8 .2 -.6 .2 -2.7 .2 -1.2 .2 2.2 .2 -4.1 .1 4 .2 -3.5 .2 -.6 .2 2.5 .2 -3.7 .2 1.8 .2 -.2 .2 7 .2 -3.1 .1 -2.4 .2 1.3 .2 3.8 .2 -1.6 .2 2 .2 .2 .2 -6.7 .2 3.9 .1 -2.3 .2 -1.3 .2 3.3 .2 -2.7 .2 5.1 .2 -1.4 .2 -6 .2 -2.1 .2 2.7 .1 4.7 .2 -.2 .2 -4.9 .2 2.8 .2 -1.6 .2 0 .2 -5.8 .2 3.6 .2 -2.3 .1 2.7 .2 1.1 .2 4.3 .2 -4.5 .2 -3.5 .2 2.5 .2 3.6 .2 4.6 .2 -5.9 .1 -4.1 .2 6.6 .2 -1.3 .2 -3 .2 -3.9 .2 8.6 .2 -4.8 .2 -.4 .2 3.7 .1 -3.6 .2 5.7 .2 -5.7 .2 -1.3 .2 2.3 .2 6 .2 -8.3 .2 .9 .1 2.2 .2 -1.4 .2 3.7 .2 .3 .2 -1.8 .2 -1.8 .2 -.6 .2 2.9 .2 -4.1 .1 2 .2 3.7 .2 4.3 .2 1 .2 -9.6 .2 7.2 .2 .8 .2 -2.9 .2 -4.7 .1 -4.1 .2 4.5 .2 1.9 .2 -1.1 .2 .2 .2 1.9 .2 5.6 .2 -7.8 .2 1.1 .1 3.1 .2 -.7 .2 -3.8 .2 1.8 .2 .4 .2 -1.3 .2 -6.2 .2 9.2 .2 -4.9 .1 3 .2 3.2 .2 -6.2 .2 1.3 .2 -2 .2 -1.3 .2 1.5 .2 3.2 .1 -.3 .2 -.6 .2 6 .2 -1.5 .2 -3.8 .2 3.8 .2 -3.1 .2 -3.8 .2 4.4 .1 -2.5 .2 4.7 .2 -4.9 .2 4.9 .2 -.1 .2 -1.3 .2 2.1 .2 -8.2 .2 6 .1 1.4 .2 -7.8 .2 2.9 .2 -1.1 .2 6.1 .2 1.1 .2 4.3 .2 -9.2 .2 3.6 .1 1 .2 -6.1 .2 7.5 .2 -2.8 .2 2.3 .2 -1.9 .2 -2.4 .2 2.6 .1 .5 .2 3.7 .2 -.6 .2 -2.9 .2 .2 .2 2.6 .2 -2.6 .2 -.3 .2 3 .1 -.1 .2 -5.7 .2 -2.9 .2 1.3 .2 5 .2 1 .2 0 .2 -5.5 .2 6 .1 -8.3 .2 4.8 .2 -3.5 .2 2.2 .2 -5.4 .2 .1 .2 8.4 .2 -10.9 .2 5 .1 5.3 .2 -5.3 .2 1.2 .2 1.3 .2 -3 .2 -1.5 .2 7.1 .2 -3.3 .2 1.7 .1 -1.1 .2 5.5 .2 -8.1 .2 .6 .2 -6.1 .2 8.1 .2 -1 .2 -3.2 .1 -.4 .2 -2.4 .2 -.1 .2 5.5 .2 -4 .2 -1.9 .2 6.8 .2 -11.1 .2 6.6 .1 .5 .2 5.5 .2 -3 .2 4.1 .2 -9.8 .2 5.6 .2 -1.9 .2 -1.4 .2 1.3 .1 .9 .2 -3 .2 5.6 .2 3.8 .2 -2.3 .2 -7.3 .2 -.3 .2 7 .2 -.7 .1 -1.6 .2 6.1 .2 -4.3 .2 2.2 .2 -6.2 .2 12.1 .2 -4.4 .2 2.8 .2 -8.8 .1 .1 .2 1.4 .2 -9.5 .2 5.8 .2 5.6 .2 -4.1 .2 -2.8 .2 2.9 .1 -5.9 .2 5.6 .2 3.4 .2 3.7 .2 -9.3 .2 14.2 .2 -10.6 .2 -3.6 .2 4.3 .1 -1.6 .2 -2.4 .2 -1.5 .2 -1.1 .2 2.9"/><path stroke="#ff0000" d="M386.3 421.1l.2 -19 .2 -11.9 .2 -1 .2 -.4 .1 -.7 .2 .4 .2 -2.5 .2 .9 .2 -3.3 .2 -3.5 .2 5.7 .2 -3.1 .2 -3.9 .1 8.4 .2 .7 .2 -5.6 .2 3.3 .2 -3.5 .2 -.9 .2 2.8 .2 -4.7 .1 -2.3 .2 2.5 .2 3.8 .2 -2.6 .2 3 .2 -5.6 .2 4.8 .2 .8 .2 -1.1 .1 -2 .2 1.8 .2 -1.1 .2 .9 .2 -2.1 .2 0 .2 2.2 .2 .6 .2 -1.6 .1 1.4 .2 -5.4 .2 4.1 .2 -.7 .2 7.4 .2 -12.7 .2 2 .2 2.1 .2 2.1 .1 -1.8 .2 -6.8 .2 10.1 .2 -4.7 .2 1.5 .2 1 .2 -.2 .2 1.4 .2 -4.3 .1 3 .2 -7.1 .2 2.8 .2 4.2 .2 4.5 .2 -5.4 .2 -2.2 .2 4.7 .1 -6.7 .2 3.6 .2 1.3 .2 3 .2 -2.9 .2 .1 .2 -2 .2 0 .2 1.5 .1 .6 .2 -1.6 .2 2.5 .2 .5 .2 -1.8 .2 3.7 .2 -1.7 .2 -.1 .2 3.8 .1 -3.5 .2 0 .2 -.5 .2 5 .2 -6.4 .2 .2 .2 3.5 .2 -2.4 .2 .5 .1 1.1 .2 -1.2 .2 2.6 .2 .5 .2 -3.2 .2 -5.3 .2 5.7 .2 1.5 .2 -.4 .1 -3.6 .2 -2.6 .2 4.2 .2 -4.4 .2 0 .2 1.3 .2 -1.5 .2 -2.1 .1 2.3 .2 2.3 .2 -7.2 .2 10.3 .2 .4 .2 -5.3 .2 1.5 .2 -.1 .2 -.4 .1 -1.5 .2 1.3 .2 2.8 .2 .8 .2 0 .2 .8 .2 -4.3 .2 1.5 .2 -1.3 .1 3.3 .2 -4.2 .2 5.8 .2 -4.9 .2 -1 .2 3.4 .2 1.2 .2 -5 .2 3.6 .1 1 .2 -2.6 .2 3.9 .2 -2.5 .2 -6.6 .2 5.5 .2 -4.6 .2 5.6 .1 -1.2 .2 -1.7 .2 -.8 .2 -.7 .2 -5.1 .2 6 .2 -1.8 .2 1.9 .2 -1.3 .1 .8 .2 1.6 .2 -1.4 .2 1.3 .2 -1.6 .2 3.3 .2 -3.3 .2 -1.5 .2 -4.2 .1 1.8 .2 4 .2 1.9 .2 -2.2 .2 -.3 .2 3.7 .2 -1.1 .2 2 .2 -2.7 .1 -5.8 .2 4.5 .2 1.7 .2 0 .2 -.4 .2 -1.8 .2 7.1 .2 -4.7 .2 -1.7 .1 -1 .2 -4.7 .2 5.6 .2 -2.2 .2 -5.1 .2 6.9 .2 -.4 .2 .3 .1 -3.5 .2 6.2 .2 -1.7 .2 -1.9 .2 -3.9 .2 .4 .2 1.6 .2 -5.3 .2 5.2 .1 2.1 .2 -5 .2 -1.2 .2 5.3 .2 3 .2 -3.2 .2 -3.2 .2 -.9 .2 3.9 .1 -3.9 .2 4.7 .2 -3.1 .2 1.6 .2 -3.1 .2 3 .2 -.8 .2 1.1 .2 1.9 .1 -7.6 .2 1 .2 1.3 .2 1.9 .2 -7.3 .2 5.7 .2 -2.5 .2 -2.2 .2 3.4 .1 -3.8 .2 6.6 .2 -.9 .2 -2.1 .2 5.4 .2 -.3 .2 -7 .2 6.2 .1 -6.5 .2 1.6 .2 -2.5 .2 -.4 .2 -.2 .2 -2.6 .2 4.9 .2 -.5 .2 -4.8 .1 4.4 .2 -4.9 .2 1.5 .2 4.1 .2 1.8 .2 .7 .2 -9.7 .2 9.5 .2 .5 .1 -6.1 .2 1 .2 .8 .2 .4 .2 .8 .2 1.1 .2 -1.1 .2 -3.5 .2 -1.7 .1 .3 .2 4.6 .2 6.2 .2 -7 .2 2.6 .2 6.1 .2 -10.6 .2 4.6 .1 2.7 .2 -2.3 .2 .6 .2 -.5 .2 2.2 .2 -1.5 .2 -1.4 .2 1.3 .2 -4.6 .1 5.5 .2 1.8 .2 .4 .2 -1.6 .2 -1.2 .2 -.1 .2 1.2 .2 -.1 .2 -.1 .1 -3.1 .2 2.5 .2 1.1 .2 2.3 .2 .7 .2 -4.3 .2 1.5 .2 .2 .2 2.8 .1 -3.2 .2 3.6 .2 -1.1 .2 .3 .2 -5.2 .2 4.1 .2 -.7 .2 -2.6 .2 1.8 .1 -2.2 .2 .6 .2 -.5 .2 1.7 .2 -2.9 .2 2.1 .2 3.4 .2 -4.4 .1 4.2 .2 -.6 .2 -1.8 .2 -1.1 .2 10.4 .2 -6.1 .2 -3.5 .2 7.3 .2 -8.7 .1 1.3 .2 1.4 .2 -1.9 .2 2.7 .2 -4.8 .2 -1.3 .2 8 .2 -2.3 .2 -4.3 .1 2.2 .2 1.7 .2 -5.1 .2 7.7 .2 -4.8 .2 .5 .2 .6 .2 -5 .2 6.8 .1 -5.2 .2 1.7 .2 -5.4 .2 .7 .2 6.5 .2 .9 .2 -2.6 .2 3.1 .2 -1.2 .1 -2.1 .2 2.8 .2 -7.3 .2 3.9 .2 1.7 .2 1.9 .2 -1.8 .2 -4.4 .1 1.2 .2 -2.7 .2 .4 .2 1.1 .2 2.6 .2 -1.5 .2 .3 .2 4.7 .2 -5.8 .1 3.5 .2 -2.4 .2 3.3 .2 -1.5 .2 -7.4 .2 8.5 .2 -4.6 .2 -5.3 .2 7.8 .1 -1.5 .2 1.2 .2 -2.5 .2 5.5 .2 -5.5 .2 -.9 .2 -5 .2 5.9 .2 2.2 .1 -1.4 .2 7.5 .2 -7.5 .2 -5 .2 4.9 .2 -1 .2 .4 .2 -1 .1 3.4 .2 -5.2 .2 4.5 .2 -1.4 .2 -3.8 .2 4.3 .2 1.7 .2 -5.8 .2 4.7 .1 -3.9 .2 4.7 .2 4.5 .2 -7.2 .2 -3.6 .2 5 .2 -2 .2 -.1 .2 1.4 .1 -.4 .2 -2.4 .2 1 .2 2.3 .2 -3.1 .2 .7 .2 -.2 .2 -1.8 .2 9.5 .1 -6.6 .2 -.8 .2 4.9 .2 -10.4 .2 6.1 .2 1.9 .2 -.1 .2 -2.3 .2 2.1 .1 1.9 .2 -3.3 .2 -2.4 .2 .9 .2 -1.1 .2 3.3 .2 .8 .2 -3.4 .1 1.6 .2 -1.2 .2 1.5 .2 -3 .2 0 .2 -1.3 .2 1.5 .2 .6 .2 1.4 .1 -3.5 .2 3.9 .2 2.8 .2 -3.5 .2 -4 .2 -.5 .2 .7 .2 0 .2 3.9 .1 .5 .2 1.1 .2 -.1 .2 -5.7 .2 2.5 .2 -2.5 .2 -3.2 .2 2.2 .2 5.7 .1 -3.9 .2 2.6 .2 -3.7 .2 7.6 .2 -2.4 .2 -1.4 .2 -7 .2 9.8 .2 -6.8 .1 2 .2 2.7 .2 -3.9 .2 -4.8 .2 6 .2 1.2 .2 -3.1 .2 1.1 .1 5.8 .2 -4.2 .2 .4 .2 3.4 .2 -1.2 .2 -.4 .2 .6 .2 -4.6 .2 .5 .1 5.4 .2 -2.5 .2 -.3 .2 2.3 .2 -3.8 .2 -3 .2 5.3 .2 -3.4 .2 6.8 .1 -8.6 .2 3.4 .2 3.3 .2 1.5 .2 -1 .2 -8 .2 8 .2 -2.2 .2 -1.4 .1 2.7 .2 -6.2 .2 7.8 .2 -7.5 .2 3.4 .2 -1.8 .2 .1 .2 -2.2 .1 3.7 .2 -2.8 .2 2.7 .2 .7 .2 -2.9 .2 -3.2 .2 1.6 .2 -1.4 .2 1.2 .1 8.5 .2 -6.3 .2 -3.8 .2 6.4 .2 1.8 .2 1.2 .2 -11.9 .2 6.6 .2 -4.1 .1 2.2 .2 -4.1 .2 -3.5 .2 9.9 .2 -3.1 .2 .3 .2 2.8 .2 -2.3 .2 -.5 .1 -2.3 .2 -2.3 .2 2.9 .2 4.6 .2 -5.4 .2 3.2 .2 -1.1 .2 1.8 .2 -3.5 .1 -4.3 .2 2 .2 2 .2 .1 .2 1.7 .2 .7 .2 -.3 .2 -.3 .1 2.8 .2 3.7 .2 -5.8 .2 2.6 .2 -1.7 .2 2.9 .2 .3 .2 -2.5 .2 -1.3 .1 .4 .2 4.6 .2 1.8 .2 -3.6 .2 -4.3 .2 6.3 .2 .1 .2 -8.5 .2 8.3 .1 -.4 .2 -.9 .2 1.2 .2 .7 .2 -2.9 .2 .2 .2 .6 .2 4.7 .2 -7.4 .1 2.5 .2 -.6 .2 -1.9 .2 .4 .2 .2 .2 .3 .2 1.9 .2 1 .2 1.1 .1 -5.5 .2 3.3 .2 -.6 .2 -3 .2 -3 .2 6.3 .2 -3.1 .2 1.9 .1 3.5 .2 -1.5 .2 -7.8 .2 8 .2 -4.9 .2 2 .2 -2 .2 -.3 .2 1.5 .1 6 .2 -7.9 .2 1.9 .2 .6 .2 -3 .2 4.3 .2 -1.4 .2 .9 .2 6.3 .1 -2.2 .2 -2 .2 4.8 .2 -7.7 .2 -1 .2 .7 .2 -.6 .2 5.2 .2 -3.7 .1 -1.4 .2 .4 .2 .9 .2 .2 .2 -3.8 .2 5.3 .2 -3.1 .2 -2.2 .1 6.6 .2 1.8 .2 -7.9 .2 6.5 .2 1 .2 -4 .2 2.9 .2 -.3 .2 .6 .1 -.9 .2 -7.1 .2 4.4 .2 .8 .2 6.3 .2 2.1 .2 -3.7 .2 -7.5 .2 -.1 .1 8.5 .2 -.3 .2 -6.5 .2 .6 .2 1.4 .2 -1 .2 2.6 .2 -2.8 .2 2.6 .1 -3.2 .2 5.5 .2 3.7 .2 -10.4 .2 -1 .2 3 .2 3.5 .2 1.3 .2 -5.2 .1 4 .2 -2.4 .2 -1.8 .2 .8 .2 5.9 .2 -5.9 .2 2.4 .2 3.2 .1 -3.9 .2 -.7 .2 -.2 .2 -1.8 .2 7 .2 -7.3 .2 -1.8 .2 5.3 .2 1.7 .1 -3.2 .2 -2.4 .2 2 .2 .5 .2 1.6 .2 -7.4 .2 .5 .2 3.2 .2 -4.8 .1 7 .2 -4.9 .2 6.1 .2 -2.9 .2 -2.4 .2 -.4 .2 -.8 .2 3.1 .2 1.3 .1 -.2 .2 1.1 .2 -.8 .2 -3.2 .2 -.6 .2 8.6 .2 -7.6 .2 1.5 .2 -.8 .1 .8 .2 .4 .2 -.2 .2 5.7 .2 -5.9 .2 3.9 .2 -3.5 .2 2.5 .1 5.5 .2 -5.4 .2 1.1 .2 .8 .2 -6 .2 6.1 .2 1 .2 -6.7 .2 5 .1 1.9 .2 4.8 .2 -6.4 .2 -1.6 .2 -3.3 .2 6 .2 -4.3 .2 .2 .2 1.8 .1 2 .2 4.6 .2 -4.8 .2 1.9 .2 4.1 .2 -7 .2 2.1 .2 1.1 .2 -6.6 .1 6.8 .2 2.1 .2 .6 .2 -6.4 .2 2.9 .2 1.6 .2 2.4 .2 -2.3 .1 -.1 .2 -.3 .2 .9 .2 -1 .2 -2.2 .2 2.2 .2 -3.6 .2 10.8 .2 -4.6 .1 -6.8 .2 1.3 .2 3.4 .2 -1.6 .2 .9 .2 -.6 .2 -3 .2 6.9 .2 -2 .1 2.9 .2 -1 .2 2.3 .2 -2.4 .2 -1.9 .2 -.5 .2 -.9 .2 -1.7 .2 -.1 .1 2.8 .2 -5.1 .2 3.4 .2 -.6 .2 1.6 .2 -3.3 .2 2.6 .2 4.3 .2 -4.4 .1 1.6 .2 3.5 .2 -.1 .2 -1.5 .2 -7.6 .2 5.4 .2 -4.5 .2 -.3 .1 2.2 .2 .2 .2 5.4 .2 -7.2 .2 7.4 .2 -4.7 .2 1.4 .2 -3.6 .2 1.7 .1 -1.9 .2 2.7 .2 .9 .2 -3.4 .2 -2.3 .2 4.7 .2 2.2 .2 2.6 .2 -.9 .1 -.8 .2 -.7 .2 .2 .2 .9 .2 -2.2 .2 -3.6 .2 1.1 .2 1.9 .2 -1.2 .1 .5 .2 -1.8 .2 6.8 .2 -1.8 .2 -1.1 .2 1.1 .2 -3.2 .2 8.7 .2 -6.1 .1 -1.4 .2 3.4 .2 -2.1 .2 -3.1 .2 -1 .2 1.6 .2 1.4 .2 -.3 .1 -3.3 .2 2.8 .2 -2.6 .2 3 .2 -1.9 .2 2.6 .2 -1.1 .2 -2.8 .2 5.7 .1 -1.3 .2 -1.7 .2 1.3 .2 -3.4 .2 2.2 .2 -4.8 .2 .3 .2 1.2 .2 4.1 .1 2.3 .2 2.9 .2 -7.9 .2 -.3 .2 .5 .2 -3.1 .2 .4 .2 3.4 .2 3 .1 .6 .2 -.8 .2 .2 .2 .4 .2 -2.2 .2 2.9 .2 -3.7 .2 2 .1 -3.1 .2 4.4 .2 -1 .2 .4 .2 -3.8 .2 -7.7 .2 7.5 .2 1.4 .2 .7 .1 -1.2 .2 -.8 .2 2.8 .2 .7 .2 2.8 .2 -7.6 .2 -1.1 .2 3.5 .2 2.2 .1 -.9 .2 -2 .2 -3.2 .2 2 .2 -1.9 .2 3.6 .2 .3 .2 -5 .2 7.8 .1 -1.8 .2 -7.8 .2 5.2 .2 -3.4 .2 12.5 .2 -11.6 .2 3.3 .2 1.1 .2 -.6 .1 8.1 .2 -7.2 .2 -3.7 .2 -5.3 .2 7.9 .2 -8.4 .2 6.2 .2 1.5 .1 2.8 .2 -3.6 .2 3.4 .2 1.1 .2 -7.9 .2 4 .2 -.4 .2 -2.1 .2 3.9 .1 .8 .2 -1.9 .2 -1.9 .2 -2.5 .2 6.4 .2 -4.7 .2 -.8 .2 2.4 .2 -2.1 .1 1.2 .2 4 .2 .4 .2 -4.5 .2 3.3 .2 .7 .2 -4.9 .2 2.4 .2 -.9 .1 2.9 .2 -1.3 .2 0 .2 2.6 .2 -7.3 .2 5.4 .2 3.8 .2 -2.6 .2 -4.9 .1 4.1 .2 -2.9 .2 1.1 .2 1.8 .2 -1.6 .2 2 .2 -4.1 .2 -.5 .1 1.6 .2 -7.3 .2 8.5 .2 -5.9 .2 1.4 .2 -1.1 .2 1.8 .2 8.1 .2 -5.2 .1 -3.5 .2 3.5 .2 5.4 .2 -4.2 .2 -2.9 .2 -2.4 .2 5.4 .2 -1.8 .2 1.9 .1 .7 .2 -2.8 .2 -4.3 .2 2.7 .2 1.7 .2 .2 .2 -1.7 .2 3.4 .2 .3 .1 -1.4 .2 -1.7 .2 2.4 .2 -3.6 .2 6.8 .2 -4.2 .2 .3 .2 -1.9 .1 4.1 .2 .9 .2 -1.6 .2 -.6 .2 1.5 .2 -2.5 .2 2.2 .2 -4 .2 .1 .1 -.8 .2 -4.6 .2 4.5 .2 1.5 .2 1.1 .2 -6 .2 4.5 .2 1 .2 -2.9 .1 3.2 .2 .8 .2 -1.4 .2 -4.4 .2 3.9 .2 0 .2 4.4 .2 -1.1 .2 -4.5 .1 2.9 .2 -1.8 .2 -2.1 .2 3.6 .2 -4 .2 5.3 .2 -1 .2 .7 .2 2 .1 -4.6 .2 0 .2 -1.9 .2 5.2 .2 -5.3 .2 -2.8 .2 4.7 .2 -.9 .1 8.2 .2 -12.6 .2 4.8 .2 -.8 .2 4.1 .2 -2.9 .2 2.6 .2 -5.5 .2 1.5 .1 .4 .2 -2.4 .2 7.3 .2 -5 .2 1.6 .2 -6.2 .2 2.4 .2 1.4 .2 .5 .1 -10.1 .2 11.2 .2 -6.7 .2 2.8 .2 .3 .2 4.6 .2 -5.2 .2 4.5 .2 .9 .1 -4.6 .2 4.4 .2 -4.4 .2 3.3 .2 -3.3 .2 .8 .2 3.9 .2 .1 .2 -.3 .1 -2.1 .2 -1 .2 -5 .2 3.9 .2 3.9 .2 -.3 .2 .3 .2 -3.1 .1 .8 .2 .9 .2 .4 .2 0 .2 .1 .2 -.4 .2 3.2 .2 -3.7 .2 2.2 .1 -2.1 .2 2.3 .2 3.4 .2 -1.8 .2 -3.4 .2 -1.6 .2 0 .2 .7 .2 .3 .1 .4 .2 -1.5 .2 1.5 .2 -2.7 .2 1.5 .2 -.3 .2 1 .2 -6.3 .2 9.4 .1 -3.7 .2 .2 .2 -1.1 .2 1.8 .2 -4 .2 9.8 .2 -8.9 .2 7.2 .1 -2.5 .2 -2.2 .2 .9 .2 -1.4 .2 1.1 .2 -1.4 .2 -.5 .2 1.5 .2 3.7 .1 -2 .2 -4.3 .2 -.4 .2 .6 .2 0 .2 1.5 .2 -4.8 .2 6.6 .2 .4 .1 1.4 .2 -4.3 .2 4.3 .2 -2.4 .2 4.4 .2 -1.7 .2 -6 .2 1.4 .2 1.3 .1 .4 .2 0 .2 1.8 .2 1.4 .2 -1.2 .2 -4.3 .2 4 .2 4.1 .2 -3.1 .1 2.7 .2 -2 .2 -3.4 .2 2.1 .2 1.3 .2 -6.7 .2 -.5 .2 3.9 .1 -2.9 .2 4.9 .2 .1 .2 -3.1 .2 2.3 .2 -2.1 .2 9 .2 -9.7 .2 2.7 .1 -.2 .2 3.1 .2 -2.6 .2 -4.5 .2 .2 .2 1.1 .2 .2 .2 -1.5 .2 2 .1 1.2 .2 1.3 .2 -1.8 .2 .6 .2 -.1 .2 -1.6 .2 7.3 .2 -2 .2 -2.4 .1 -4.5 .2 1.3 .2 .8 .2 -1.3 .2 .1 .2 -3.2 .2 .2 .2 3.4 .2 -1.5 .1 -2.3 .2 -2.1 .2 4.2 .2 -3.8 .2 1.4 .2 4.2 .2 -3.1 .2 0 .1 .4 .2 -3.7 .2 -1.6 .2 -.2 .2 2 .2 1.3 .2 .9 .2 -1.3 .2 2.7 .1 -3.5 .2 2 .2 -1.4 .2 2.3 .2 -6.4 .2 1.9 .2 2.1 .2 2.6 .2 -2.9 .1 -.3 .2 3.8 .2 -2.4 .2 -3.9 .2 5.3 .2 .6 .2 -3.1 .2 -3.9 .2 6.7 .1 -1.1 .2 .7 .2 -.3 .2 -2.1 .2 1.5 .2 5.6 .2 -6 .2 .9 .1 .8 .2 .2 .2 1.2 .2 -1.5 .2 3.5 .2 3.1 .2 -3.4 .2 1.2 .2 -7.7 .1 5.1 .2 -4.1 .2 7.9 .2 0 .2 -2.7 .2 4.1 .2 -2.9 .2 2.4 .2 -4.3 .1 5.5 .2 -2.7 .2 3.6 .2 -5.3 .2 -2 .2 2.9 .2 2.5 .2 -2.6 .2 -1.8 .1 1.3 .2 -1.2 .2 -2.2 .2 3.4 .2 2.2 .2 1.4 .2 -3.1 .2 -.2 .2 2 .1 -2 .2 -5.1 .2 5.3 .2 -1.7 .2 -1.7 .2 .7 .2 -7 .2 5.4 .1 -2.1 .2 4.1 .2 -4.1 .2 2.3 .2 1.9 .2 -7.4 .2 -1.4 .2 3.8 .2 .1 .1 3.1 .2 -4.7 .2 2.6 .2 -1.7 .2 -1.7 .2 1.3 .2 3.5 .2 -2.1 .2 -.3 .1 -.8 .2 4.5 .2 -3.3 .2 2.4 .2 -.6 .2 -4.7 .2 1.9 .2 4.1 .2 -1.9 .1 3.2 .2 1.1 .2 -.7 .2 -1.3 .2 -3.7 .2 .8 .2 9.1 .2 -6 .2 1.8 .1 -1.3 .2 -1.7 .2 1.1 .2 .5 .2 2.7 .2 -5.9 .2 6.5 .2 -5.2 .1 2.4 .2 .7 .2 3.3 .2 -6.2 .2 3.4 .2 1.8 .2 -2 .2 -1 .2 4.2 .1 -1.3 .2 .9 .2 -5.2 .2 1.7 .2 2.9 .2 -.9 .2 .4 .2 5.2 .2 -5 .1 -4.1 .2 6.8 .2 -.6 .2 -2.5 .2 -3.4 .2 3.5 .2 -7.6 .2 5.3 .2 3.5 .1 1 .2 -5.3 .2 -.2 .2 1.9 .2 -2.4 .2 -.4 .2 3.8 .2 1.8 .1 .7 .2 -3 .2 -.2 .2 -3.9 .2 2.6 .2 1.1 .2 .8 .2 -3.5 .2 -.6 .1 4.1 .2 -1.8 .2 3.8 .2 -1.3 .2 -1.4 .2 1 .2 -.9 .2 -1.5 .2 1.7 .1 -2.9 .2 3.8 .2 -2.5 .2 4.3 .2 .7 .2 -2.7 .2 -2.9 .2 4.5 .2 -.9 .1 -3.9 .2 3.3 .2 -3.6 .2 6.2 .2 .9 .2 -5.2 .2 2.3 .2 -.4 .2 6.2 .1 -7.2 .2 2.1 .2 1.1 .2 -1.1 .2 3.7 .2 -1.4 .2 -.1 .2 -4.9 .1 3 .2 -4.1 .2 4.7 .2 1.1 .2 -6.1 .2 6.4 .2 -4.7 .2 5.4 .2 -5.8 .1 4.4 .2 -7 .2 -2.5 .2 2 .2 2.5 .2 1.7 .2 -1.5 .2 -3.5 .2 6.2 .1 1.9 .2 -7.3 .2 5.4 .2 -.6 .2 0 .2 -.8 .2 -.6 .2 -.1 .2 4.5 .1 -3.1 .2 .7 .2 -4.5 .2 4.3 .2 .3 .2 3.6 .2 -6.3 .2 -1.3 .2 3.7 .1 -3.3 .2 2.8 .2 .4 .2 -2 .2 3.3 .2 .4 .2 -3.1 .2 .7 .1 -2.5 .2 0 .2 6.6 .2 -4.5 .2 4.9 .2 -6 .2 -.4 .2 2.6 .2 2 .1 -5.3 .2 2.2 .2 3.8 .2 -6 .2 -.8 .2 2.1 .2 -1.8 .2 -.5 .2 4.7 .1 -3.9 .2 .6 .2 2.1 .2 -3.5 .2 2.4 .2 1.4 .2 .2 .2 6.5 .2 -3.7 .1 0 .2 -6.9 .2 1.1 .2 -.8 .2 2 .2 -1.2 .2 3.2 .2 1.3 .1 .4 .2 -4.4 .2 2.7 .2 .2 .2 -.6 .2 -1.9 .2 4 .2 -3.8 .2 1.1 .1 -4.3 .2 4.8 .2 2.4 .2 -1.2 .2 -.7 .2 3 .2 4.2 .2 -9.2 .2 1.2 .1 .1 .2 .6 .2 -1.4 .2 -.8 .2 5.5 .2 -5.6 .2 3.6 .2 -1.4 .2 1.1 .1 0 .2 .1 .2 2.3 .2 -1.8 .2 -.4 .2 -2.6 .2 4.4 .2 -.9 .2 -.5 .1 4.4 .2 -7 .2 -.4 .2 .5 .2 3.5 .2 -5.2 .2 3.9 .2 -3.4 .1 3.5 .2 2 .2 -6.2 .2 7.7 .2 -3.8 .2 -.1 .2 -1.9 .2 .6 .2 -5.8 .1 -.7 .2 6 .2 -2.7 .2 -4.3 .2 5.6 .2 -5.1 .2 2.5 .2 -1.4 .2 -2.8 .1 -.3 .2 3 .2 .3 .2 -5.2 .2 -2.3 .2 .9 .2 .7 .2 -1.4 .2 4.4 .1 -3.4 .2 -2 .2 1 .2 5 .2 -.1 .2 -6.3 .2 7.4 .2 -.9 .2 -6.5 .1 5.7 .2 -.2 .2 -5.4 .2 2.3 .2 1.6 .2 3.3 .2 -3.2 .2 .5 .1 1.2 .2 1.9 .2 -6.5 .2 1.5 .2 -.2 .2 .7 .2 5.4 .2 -4.1 .2 -1.2 .1 2.8 .2 5.3 .2 -1 .2 -2.8 .2 -3.5"/><path stroke="#00ff00" d="M386.3 421.1l.2 -30.1 .2 .1 .2 -2 .2 .1 .1 -.8 .2 -.6 .2 -6.5 .2 -.3 .2 3.6 .2 0 .2 -.2 .2 -2.1 .2 2.3 .1 -6.5 .2 1.3 .2 6.7 .2 -5.8 .2 -1 .2 -8.7 .2 3.9 .2 4.3 .1 2.9 .2 -3.9 .2 1.1 .2 2 .2 -3.7 .2 -1.5 .2 1 .2 1.4 .2 -3.9 .1 4.6 .2 -4 .2 -4.1 .2 1.5 .2 4.9 .2 -3.2 .2 1 .2 -2.5 .2 -2.7 .1 5 .2 -.9 .2 -6.9 .2 6.8 .2 -4.7 .2 -1.5 .2 3 .2 -3.1 .2 .8 .1 2 .2 -3.3 .2 2.7 .2 -4 .2 4.9 .2 -3.5 .2 -.3 .2 5 .2 -9.4 .1 7.6 .2 -2.4 .2 1 .2 -1.2 .2 -1.5 .2 .6 .2 -2.1 .2 3.7 .1 -.8 .2 2.4 .2 -.8 .2 -2.2 .2 .4 .2 1.3 .2 -1.9 .2 -.8 .2 4 .1 -3.1 .2 3.7 .2 1 .2 -1.9 .2 -2.8 .2 -1.7 .2 1.7 .2 -.6 .2 7.4 .1 -2.2 .2 -4.9 .2 -.1 .2 .5 .2 4.6 .2 1.3 .2 -1.8 .2 -6 .2 1 .1 -5.8 .2 8.2 .2 -1.5 .2 2.9 .2 -2.9 .2 -1.1 .2 .7 .2 -6.1 .2 6.6 .1 -4.8 .2 .6 .2 4 .2 -3.2 .2 3.5 .2 -2.2 .2 2.2 .2 -3.3 .1 4.4 .2 -2.7 .2 -3.5 .2 1 .2 -.1 .2 1.3 .2 -2.9 .2 3.2 .2 -4.6 .1 2.2 .2 -.7 .2 -.5 .2 -1.8 .2 -.7 .2 -2.2 .2 1 .2 3.4 .2 -2.1 .1 -2.7 .2 -.7 .2 3.8 .2 3.2 .2 -6.8 .2 5.6 .2 .2 .2 1.8 .2 -3.1 .1 6.3 .2 -5.5 .2 -3.8 .2 -4.6 .2 6.8 .2 -.4 .2 .2 .2 5.2 .1 1.6 .2 -3.7 .2 -2.1 .2 3.8 .2 -3.8 .2 2.9 .2 .4 .2 -2 .2 -2.6 .1 -.1 .2 2.3 .2 -.4 .2 .6 .2 -.5 .2 -3.7 .2 -.7 .2 6.9 .2 -2.2 .1 1.4 .2 -4.6 .2 -1.1 .2 8.3 .2 -4.8 .2 -4.2 .2 6 .2 -10.7 .2 2.9 .1 5.7 .2 1.5 .2 -6.6 .2 5.6 .2 2.8 .2 -3 .2 5.3 .2 -1.2 .2 -8.4 .1 6.6 .2 -1.9 .2 4.3 .2 -.8 .2 -6.4 .2 4.3 .2 -2.8 .2 -1 .1 3.9 .2 2.7 .2 3.9 .2 -10 .2 3.2 .2 -6.4 .2 6.8 .2 .3 .2 2.6 .1 1.8 .2 -3.9 .2 .5 .2 -1.1 .2 1.8 .2 -.1 .2 -3.7 .2 .6 .2 5 .1 -1 .2 -3.1 .2 -1 .2 -5.3 .2 5.5 .2 -3.4 .2 6.5 .2 -3.4 .2 -7.1 .1 8.9 .2 -2.1 .2 0 .2 -4.5 .2 3.8 .2 -.5 .2 -4 .2 2.5 .2 .1 .1 5.3 .2 .9 .2 -6.5 .2 4.9 .2 -8.7 .2 -.5 .2 6.5 .2 1.9 .1 .4 .2 -6.5 .2 1.9 .2 4.6 .2 -1.2 .2 -3.9 .2 3.7 .2 -1 .2 4.4 .1 -7.5 .2 .3 .2 3 .2 3.5 .2 -5.3 .2 -2.3 .2 -.2 .2 1.2 .2 5.5 .1 -2.9 .2 -2.8 .2 5 .2 1.3 .2 -6.8 .2 4 .2 4.7 .2 -6.9 .2 1.7 .1 2 .2 -2.2 .2 2.2 .2 -1.3 .2 4.8 .2 -7.5 .2 5.2 .2 -3.3 .1 1.1 .2 6.8 .2 -8.1 .2 3.5 .2 -4.8 .2 6.6 .2 -4.7 .2 -3.3 .2 2.6 .1 -.1 .2 -.6 .2 2.6 .2 1.2 .2 1.2 .2 -8.3 .2 2.1 .2 2.4 .2 4.3 .1 -7.3 .2 3.6 .2 -1 .2 2.1 .2 -1.4 .2 4 .2 -.9 .2 -3.4 .2 -.2 .1 1.9 .2 -7.7 .2 1.8 .2 7.7 .2 3.8 .2 -.8 .2 -6.7 .2 -.8 .2 -5.4 .1 2.9 .2 4 .2 -2.4 .2 2 .2 1.1 .2 -2.1 .2 6.5 .2 -4.7 .1 -2.5 .2 1.8 .2 -3.3 .2 -2.1 .2 1.2 .2 -2.3 .2 -2.9 .2 3.1 .2 -2.4 .1 2.5 .2 1.6 .2 -5.6 .2 1.9 .2 10 .2 -13.7 .2 4.6 .2 .1 .2 -3.8 .1 3.7 .2 -1.5 .2 -5.7 .2 .8 .2 7.9 .2 0 .2 .4 .2 -4.9 .2 1.7 .1 -.5 .2 2.1 .2 -1.6 .2 -2.7 .2 4.5 .2 2 .2 -3.3 .2 5.3 .2 -2.5 .1 -.3 .2 -5.6 .2 5.2 .2 -5.7 .2 4.4 .2 .6 .2 .7 .2 -.2 .1 1.8 .2 2.1 .2 -2.4 .2 -6.7 .2 4.2 .2 -5.8 .2 -.5 .2 7.8 .2 -8.4 .1 4.2 .2 4.1 .2 -.8 .2 -2.3 .2 7.3 .2 -6.5 .2 3.1 .2 -3.6 .2 -.7 .1 1.4 .2 -.1 .2 -.4 .2 5.2 .2 -9 .2 5.9 .2 -1.1 .2 -1.8 .2 3.9 .1 .6 .2 4.2 .2 -9.2 .2 -2.8 .2 3.7 .2 4.4 .2 4.9 .2 -9.8 .1 6.1 .2 -1.4 .2 -.6 .2 .5 .2 -1.4 .2 -3.2 .2 1.6 .2 3.4 .2 -5 .1 1.8 .2 4.2 .2 -3.8 .2 -5.6 .2 1 .2 .8 .2 1.4 .2 7.2 .2 -8.1 .1 -4.6 .2 5 .2 1.4 .2 2.4 .2 -2.4 .2 1.2 .2 .7 .2 -2.4 .2 .2 .1 -2.4 .2 -.8 .2 3.4 .2 -3.5 .2 1.5 .2 2.4 .2 -.2 .2 -1.4 .2 1.7 .1 .5 .2 -5.4 .2 4.6 .2 -3 .2 -1.1 .2 1.5 .2 2.1 .2 -.8 .1 3.4 .2 -4.7 .2 5 .2 -1 .2 2.5 .2 -5 .2 5.3 .2 -.9 .2 -3.4 .1 6.1 .2 -1.6 .2 3.6 .2 -5.2 .2 -.3 .2 2.5 .2 -2.7 .2 -2.3 .2 -.2 .1 -.9 .2 1.3 .2 4 .2 -1.3 .2 -.2 .2 -3.3 .2 4.7 .2 2.5 .2 -2.1 .1 -4.3 .2 .7 .2 .8 .2 3.8 .2 -2.2 .2 1.5 .2 -4.1 .2 -.5 .2 2.5 .1 -4.7 .2 0 .2 7.7 .2 -1.3 .2 3.5 .2 -.1 .2 .5 .2 -2.1 .1 -2.6 .2 1.5 .2 8.9 .2 -8 .2 2.6 .2 -5.2 .2 2.8 .2 -7.3 .2 -.4 .1 -2.8 .2 6.8 .2 -.3 .2 4.8 .2 -.4 .2 -6.5 .2 8.2 .2 -2.3 .2 -2.6 .1 .4 .2 2.8 .2 -4.2 .2 3.1 .2 .3 .2 1.5 .2 -4.4 .2 -1.5 .2 2.5 .1 -3.4 .2 3.7 .2 0 .2 -3.2 .2 4 .2 2.4 .2 -5.1 .2 -1.3 .1 -2.1 .2 9.2 .2 -7.5 .2 1.4 .2 1.6 .2 -2.1 .2 -3.8 .2 .8 .2 -.1 .1 2.5 .2 -4.8 .2 2.6 .2 -1.5 .2 5.3 .2 0 .2 -.9 .2 -.3 .2 -3 .1 7.6 .2 -7.1 .2 3.6 .2 -6.5 .2 4.3 .2 .4 .2 -1.2 .2 4.3 .2 -5.7 .1 -.2 .2 -1.6 .2 1.1 .2 2 .2 1.4 .2 -2.9 .2 .7 .2 .9 .2 -3.6 .1 3.4 .2 5.1 .2 -3 .2 -4 .2 1.4 .2 3.6 .2 2 .2 -3.4 .1 5.9 .2 -.4 .2 -5.9 .2 9.4 .2 -7 .2 3.8 .2 -.6 .2 1.6 .2 2.2 .1 -5.5 .2 2.5 .2 -1.5 .2 -2.2 .2 .9 .2 .7 .2 2.8 .2 4.5 .2 -11.2 .1 9.9 .2 -2.9 .2 -2 .2 2.7 .2 -3.3 .2 2.4 .2 -.6 .2 -7.3 .2 8.5 .1 -6.1 .2 10.2 .2 -5.5 .2 1.3 .2 -2.8 .2 8.6 .2 .2 .2 -6 .2 -1 .1 -1.4 .2 4 .2 -3.4 .2 .4 .2 3.8 .2 -5.6 .2 4.2 .2 3.2 .1 -3.9 .2 3.4 .2 -3.4 .2 3.8 .2 -.1 .2 -2.1 .2 -2.7 .2 3.3 .2 -4.8 .1 -.3 .2 4.9 .2 0 .2 -4.3 .2 4.9 .2 -.5 .2 -5.3 .2 1.4 .2 1.8 .1 8.2 .2 -4.8 .2 3.8 .2 -5.7 .2 -2 .2 -.8 .2 7.2 .2 -5.7 .2 -.2 .1 -1 .2 .1 .2 -1.4 .2 .8 .2 4.4 .2 1.5 .2 -5.7 .2 3.2 .1 4.2 .2 -1.5 .2 -1.6 .2 1 .2 -4.8 .2 0 .2 6.7 .2 -2.4 .2 -4.7 .1 .7 .2 -.2 .2 -5.7 .2 7.3 .2 -6.7 .2 4.9 .2 7.5 .2 -4.3 .2 -3.3 .1 1.6 .2 -2.9 .2 .8 .2 -2.1 .2 2.5 .2 -1.9 .2 1.5 .2 1.9 .2 -2.5 .1 2.7 .2 -5.9 .2 6.6 .2 0 .2 -.5 .2 -2.6 .2 -3.8 .2 8.7 .2 -2.8 .1 .9 .2 2.4 .2 1.8 .2 -6.1 .2 5.9 .2 -10.3 .2 1.8 .2 -.5 .1 -1.1 .2 5.6 .2 1.2 .2 3.3 .2 -7 .2 .5 .2 2.8 .2 .3 .2 -4.2 .1 2 .2 3 .2 -5.3 .2 5.6 .2 -3.1 .2 4.3 .2 -2.4 .2 -3.1 .2 4.3 .1 -9.2 .2 11.2 .2 -4.4 .2 2.8 .2 -3 .2 -5 .2 5.3 .2 -.2 .2 -2.4 .1 6.4 .2 -1.5 .2 .4 .2 -9.7 .2 11.6 .2 -9.5 .2 6.1 .2 -2.6 .2 .4 .1 -3.3 .2 4.5 .2 0 .2 -.9 .2 1.1 .2 .1 .2 -1.8 .2 2.2 .1 -3.1 .2 1.8 .2 -5.1 .2 6.8 .2 -5.4 .2 2.2 .2 -5.3 .2 3.3 .2 .6 .1 2.2 .2 .5 .2 -7.5 .2 1.1 .2 5.9 .2 2.1 .2 -5.2 .2 .5 .2 3.2 .1 -.6 .2 -.5 .2 1.6 .2 -2 .2 3.4 .2 2.9 .2 -9.7 .2 5.6 .2 -3.7 .1 3 .2 -1.4 .2 -.9 .2 1.9 .2 -8.5 .2 4.6 .2 4.9 .2 -2.5 .1 0 .2 1 .2 -3.9 .2 -.9 .2 2.2 .2 -.9 .2 6.2 .2 -5.6 .2 4.7 .1 .7 .2 -1.8 .2 -5.5 .2 8.5 .2 -1.8 .2 -4.1 .2 .7 .2 3.9 .2 1.8 .1 -.3 .2 -6 .2 9.1 .2 -7.8 .2 .5 .2 .5 .2 -4.9 .2 4.2 .2 3.8 .1 1.6 .2 -2.9 .2 -4.8 .2 5.8 .2 -1.8 .2 2.9 .2 -3.2 .2 -5.6 .2 6.4 .1 -1.2 .2 4.5 .2 2.6 .2 -3.7 .2 -2.2 .2 -1.1 .2 5 .2 -2.9 .1 -4.2 .2 3.6 .2 -5.7 .2 2.1 .2 2.5 .2 1.5 .2 -4.8 .2 -3.7 .2 11.6 .1 -8.5 .2 2.3 .2 -3.1 .2 -.5 .2 2.8 .2 -5.6 .2 3.7 .2 4.9 .2 -3.8 .1 4.1 .2 -6 .2 2.3 .2 2.4 .2 -3.5 .2 1.9 .2 .6 .2 -4.2 .2 2.3 .1 -.5 .2 5.7 .2 -1.9 .2 -4.7 .2 .7 .2 .7 .2 4.6 .2 -3.9 .2 6.3 .1 -5 .2 -5.2 .2 -1.9 .2 2.4 .2 .5 .2 4.2 .2 -5.2 .2 2.2 .1 -8.3 .2 7.3 .2 0 .2 4.6 .2 -6.8 .2 2.9 .2 -6 .2 4.4 .2 1.6 .1 -.4 .2 1.2 .2 3.4 .2 -7.3 .2 -1.9 .2 7.7 .2 5.6 .2 -8.8 .2 .4 .1 1.5 .2 3.3 .2 -7.6 .2 9.6 .2 -9.1 .2 3.6 .2 5.3 .2 -2 .2 0 .1 -8.3 .2 2.6 .2 3.3 .2 -.9 .2 -4.8 .2 1.3 .2 -4.1 .2 9 .1 -2.2 .2 2.7 .2 -.8 .2 3.9 .2 -5.3 .2 4 .2 -4.5 .2 -1.7 .2 4.1 .1 .5 .2 .5 .2 2.2 .2 -2.6 .2 -1.3 .2 .8 .2 -4.2 .2 8.1 .2 -3.2 .1 -1.2 .2 -.6 .2 2.8 .2 -1 .2 -1 .2 -1.6 .2 2.6 .2 -5.9 .2 2.4 .1 -4.3 .2 4.4 .2 -4.1 .2 2.2 .2 -1.9 .2 -2.8 .2 2 .2 1.4 .2 3.1 .1 4.9 .2 -5.1 .2 0 .2 -7.5 .2 5.2 .2 -1.1 .2 1.5 .2 1.1 .1 -3.1 .2 5.6 .2 -3.9 .2 6.2 .2 -3.2 .2 -6.4 .2 2.8 .2 -1.6 .2 -1.8 .1 2.4 .2 8.7 .2 -1.7 .2 -6.9 .2 3.9 .2 3.3 .2 0 .2 -6.2 .2 5.9 .1 -1.2 .2 -.1 .2 .3 .2 -1.7 .2 -1.5 .2 1.3 .2 -2.9 .2 3 .2 -6 .1 9.4 .2 -4.6 .2 -.2 .2 -.6 .2 2 .2 -1 .2 .4 .2 2.6 .2 -2.6 .1 -.7 .2 1.7 .2 3.9 .2 -2.6 .2 -5.1 .2 4 .2 -2.1 .2 1.3 .1 3.4 .2 8.8 .2 -13.7 .2 7.7 .2 -1.6 .2 -1.3 .2 .7 .2 -2 .2 4.8 .1 -4.8 .2 4 .2 -4.3 .2 .1 .2 2.2 .2 -.2 .2 -1.6 .2 1.7 .2 -4.3 .1 .7 .2 3.9 .2 -7.8 .2 7.3 .2 -8 .2 5.3 .2 -4.5 .2 1.8 .2 3.5 .1 .4 .2 -5.7 .2 10 .2 -2.6 .2 .2 .2 -6.7 .2 3.4 .2 2.3 .1 -1.3 .2 -2 .2 3.7 .2 -2.2 .2 -3.3 .2 -.5 .2 -.4 .2 6.7 .2 -1.6 .1 2 .2 -2.3 .2 -1.5 .2 3.6 .2 -1.5 .2 4.4 .2 -7.5 .2 3.4 .2 -2.3 .1 3.5 .2 -.1 .2 -1.9 .2 .9 .2 -3.9 .2 4.1 .2 3.6 .2 -6.1 .2 4.7 .1 -3.4 .2 -1.6 .2 1.5 .2 -6.4 .2 2.9 .2 6.6 .2 -8.5 .2 5.5 .2 1 .1 -5 .2 6.2 .2 4.2 .2 -7.4 .2 -.1 .2 2.7 .2 -6.1 .2 8.1 .1 -1.4 .2 -4.3 .2 1.8 .2 3.5 .2 -1.6 .2 3.1 .2 .3 .2 -2.5 .2 .9 .1 -3.3 .2 .4 .2 -1.4 .2 .8 .2 -1.1 .2 1.3 .2 .8 .2 3.9 .2 -6 .1 -1.7 .2 -.9 .2 .2 .2 .6 .2 -3.3 .2 3.6 .2 0 .2 6.1 .2 -3.4 .1 -1.4 .2 2 .2 -6.8 .2 3.9 .2 -1.3 .2 1.6 .2 -5.5 .2 4.3 .2 -2.6 .1 3.6 .2 1.1 .2 -.5 .2 -1.3 .2 -1.1 .2 -1.4 .2 3.8 .2 1.4 .1 -2.4 .2 -1.7 .2 2.2 .2 2 .2 2 .2 -6.9 .2 6.1 .2 .3 .2 -2.4 .1 .5 .2 -1.8 .2 -.2 .2 3.7 .2 -2.1 .2 -3.8 .2 1.8 .2 .1 .2 2.5 .1 -1.4 .2 -3.9 .2 4.2 .2 -.8 .2 -2.9 .2 -5.6 .2 13.2 .2 -10 .2 1.2 .1 3.5 .2 -2 .2 7.3 .2 .1 .2 -3.7 .2 -3.3 .2 5.2 .2 -3.2 .1 2.3 .2 -5.8 .2 6 .2 -6.2 .2 8.7 .2 -5 .2 .8 .2 3.3 .2 -2.5 .1 -.6 .2 .5 .2 .6 .2 -.1 .2 -1.8 .2 -1.4 .2 1.4 .2 -1.3 .2 2.6 .1 -8.1 .2 5.6 .2 -.4 .2 5.1 .2 -6.8 .2 4.3 .2 -.9 .2 -1 .2 4.1 .1 -5.6 .2 2.6 .2 1.7 .2 .7 .2 2.3 .2 -2.2 .2 2.2 .2 -6.4 .2 5.3 .1 -11.9 .2 7.6 .2 3 .2 -7.9 .2 4.4 .2 3.1 .2 -1.5 .2 -5.3 .1 6 .2 2.5 .2 -4.4 .2 -1.4 .2 6.8 .2 -1.9 .2 -1.2 .2 -3.1 .2 .8 .1 5.1 .2 -4.8 .2 3.9 .2 -5.6 .2 3.1 .2 -2.6 .2 -.3 .2 2.3 .2 -1.2 .1 2.1 .2 -1.3 .2 -2.8 .2 .2 .2 -3.3 .2 9 .2 -1.8 .2 -7.4 .2 3.1 .1 5 .2 -4.9 .2 2.9 .2 .3 .2 3.3 .2 -5.6 .2 -2 .2 -1.8 .2 2.4 .1 -.4 .2 .9 .2 -.2 .2 -.9 .2 2.2 .2 1.6 .2 -3.2 .2 -.9 .1 -2.4 .2 3.1 .2 -.3 .2 2.3 .2 -2.7 .2 1 .2 -1.1 .2 1.1 .2 -4.1 .1 3.9 .2 0 .2 -4 .2 5.3 .2 -5.5 .2 5.6 .2 -6.2 .2 .5 .2 3.2 .1 1.3 .2 -.9 .2 4.1 .2 -5 .2 3.7 .2 -1.9 .2 -.6 .2 -3.6 .2 7.3 .1 .6 .2 1.8 .2 -7.7 .2 3.4 .2 -1 .2 -1.9 .2 0 .2 9.6 .1 -6.7 .2 0 .2 4.5 .2 1.5 .2 -7.1 .2 -5.7 .2 10.4 .2 -2.2 .2 -2.3 .1 8.4 .2 -10.3 .2 5.6 .2 -4.5 .2 -6.9 .2 6.8 .2 3.4 .2 -1.9 .2 1.2 .1 -2.4 .2 4.5 .2 -4.9 .2 2.5 .2 -9.2 .2 10.5 .2 -6.6 .2 8 .2 -8.9 .1 3.4 .2 6.8 .2 -3.2 .2 -.5 .2 2.5 .2 -4.3 .2 2.4 .2 -2.5 .2 -1.7 .1 .4 .2 1.7 .2 .6 .2 -1.2 .2 2.2 .2 -1.1 .2 5.9 .2 -4.8 .1 -4.4 .2 2.2 .2 .2 .2 -.3 .2 -3.9 .2 5.6 .2 4.8 .2 -9 .2 3.8 .1 1.8 .2 .9 .2 1.9 .2 -4.2 .2 -1.1 .2 -4 .2 6.1 .2 -.6 .2 1.5 .1 1.2 .2 -4.6 .2 2.7 .2 -1.2 .2 -3.9 .2 8.9 .2 -5.5 .2 -.6 .2 -3.3 .1 3.8 .2 -.3 .2 .9 .2 -4.2 .2 1.9 .2 -1 .2 3.1 .2 -1.1 .2 -3.9 .1 3.4 .2 -2.9 .2 -5.3 .2 1.9 .2 3.5 .2 0 .2 1.5 .2 -.7 .1 1.2 .2 -.5 .2 1.9 .2 1.2 .2 -6.7 .2 6.4 .2 .9 .2 1.4 .2 -8.2 .1 -4.5 .2 4.1 .2 2.9 .2 -3.2 .2 1.1 .2 -1.1 .2 4.6 .2 -3.3 .2 3.9 .1 -2.2 .2 -1.5 .2 0 .2 -4.4 .2 .5 .2 4.9 .2 -5.3 .2 10.2 .2 -1.3 .1 -1.9 .2 -.1 .2 -.8 .2 .3 .2 -5.9 .2 8 .2 -4.7 .2 2.7 .1 -3.4 .2 .7 .2 -.5 .2 -2.6 .2 -.5 .2 10.1 .2 -6.4 .2 -4.7 .2 1.7 .1 1.1 .2 -.6 .2 -4.1 .2 2.8 .2 -.7 .2 .7 .2 -1.1 .2 2 .2 -3.8 .1 2.6 .2 -.3 .2 -1.4 .2 9.3 .2 -4.1 .2 -1.1 .2 1.4 .2 .6 .2 -1.5 .1 -.1 .2 3.7 .2 -1.9 .2 -3.3 .2 2.8 .2 -2.1 .2 -1.1 .2 3.1 .2 .2 .1 -5.2 .2 7.3 .2 -2.6 .2 -.5 .2 2.1 .2 5.2 .2 -7.2 .2 -3.1 .1 7.4 .2 -2.3 .2 2.9 .2 -1.8 .2 .8 .2 -1.2 .2 5 .2 -2.1 .2 -2.5 .1 1.7 .2 1.7 .2 -4.2 .2 6.5 .2 .6 .2 -3.4 .2 5.5 .2 -9.4 .2 7.7 .1 -1 .2 -5.5 .2 5.3 .2 -8.6 .2 2.4 .2 .2 .2 2.3 .2 -1.1 .2 1.3 .1 -2.7 .2 6 .2 -5 .2 2.9 .2 -1.7 .2 -2.7 .2 6.1 .2 -7 .2 3.4 .1 1.5 .2 -2.1 .2 5.3 .2 -3.1 .2 .5 .2 -3.8 .2 1.9 .2 2.3 .1 -3.4 .2 .5 .2 -1.5 .2 2.8 .2 -1.2 .2 -5.2 .2 8.9 .2 -5.4 .2 3.8 .1 -4.7 .2 4.9 .2 -6.8 .2 -3.7 .2 9.2 .2 -6 .2 -3.7 .2 7.5 .2 -1.5 .1 .1 .2 -.8 .2 1.2 .2 -3.8 .2 1.1 .2 -7 .2 1 .2 2.7 .2 3.1 .1 .5 .2 3.9 .2 -6 .2 1 .2 -.9 .2 -.5 .2 -6 .2 6.8 .1 -2.5 .2 -1 .2 1.2 .2 -2.9 .2 1.8 .2 5.9 .2 -2.8 .2 3.4 .2 -3.8 .1 2.7 .2 3.3 .2 -.9 .2 -2.2 .2 2.1 .2 -2.2 .2 2.5 .2 1 .2 .3 .1 -.6 .2 2 .2 8.1 .2 -6.4 .2 -3.7 .2 6.1 .2 -6.3 .2 3.5 .2 -10.1 .1 10.2 .2 -3.4 .2 3.5 .2 -4.5 .2 -.3 .2 3.3 .2 4.3 .2 -7.4 .2 4 .1 -6 .2 5.4 .2 -.9 .2 -2.3 .2 -.1 .2 -1.4 .2 4.9 .2 -2.2 .1 5.8 .2 -7.2 .2 2.4 .2 -.8 .2 1.2 .2 -.2 .2 -2.4 .2 4.9 .2 -2.3 .1 -4 .2 3.3 .2 1.1 .2 .2 .2 1.3 .2 -2.8 .2 -5.5 .2 .6 .2 4.2 .1 -1.5 .2 -2.3 .2 8.6 .2 -11.1 .2 11.7 .2 -8.3 .2 .7 .2 1.7 .2 -1 .1 -.9 .2 .8 .2 1.9 .2 -7.1 .2 4.5 .2 -.2 .2 6.7 .2 -6.2 .2 .1 .1 -1.7 .2 1.5 .2 2.4 .2 1.2 .2 -3.8 .2 6.5 .2 -3.7 .2 -3.6 .1 10.3 .2 -13 .2 2 .2 2.3 .2 2 .2 -1.6 .2 .6 .2 -10.8 .2 13.3 .1 -8.7 .2 4.6 .2 4 .2 -2.1 .2 .1"/></g>
<rect x="386.30" y="312.40" width="301.60" height="108.70" fill="none" stroke="#000" stroke-width="1.2"/>
<text x="374.3" y="426.9" class="tk" text-anchor="end">0</text>
<text x="374.3" y="390.7" class="tk" text-anchor="end">1</text>
<text x="374.3" y="354.4" class="tk" text-anchor="end">2</text>
<text x="374.3" y="318.2" class="tk" text-anchor="end">3</text>
<text x="386.3" y="443.6" class="tk" text-anchor="middle">0</text>
<text x="446.6" y="443.6" class="tk" text-anchor="middle">20</text>
<text x="506.9" y="443.6" class="tk" text-anchor="middle">40</text>
<text x="567.3" y="443.6" class="tk" text-anchor="middle">60</text>
<text x="627.6" y="443.6" class="tk" text-anchor="middle">80</text>
<text x="687.9" y="443.6" class="tk" text-anchor="middle">100</text>
<path d="M377.70 421.50H386.30M377.70 384.50H386.30M377.70 348.50H386.30M377.70 312.50H386.30M386.50 421.10V428.60M446.50 421.10V428.60M506.50 421.10V428.60M567.50 421.10V428.60M627.50 421.10V428.60M687.50 421.10V428.60" stroke="#000" stroke-width="1.2" fill="none"/>
<path d="M351.4 69V177.6M351.4 264V373" stroke="#000" stroke-width="2.8"/>
<path d="M351.4 61.5L355.5 70.2L351.4 69.2L347.3 70.2Z" fill="#000"/>
<path d="M351.4 380.5L355.5 372.0L351.4 373.0L347.3 372.0Z" fill="#000"/>
<text class="ax" transform="translate(356.7 257.1) rotate(-90)" textLength="73.3" lengthAdjust="spacingAndGlyphs">RMSD [Å]</text>
<path d="M224 457.3H329M408 457.0H513" stroke="#000" stroke-width="2.8"/>
<path d="M217.8 457.3L225.4 453.6L224.4 457.3L225.4 461Z" fill="#000"/>
<path d="M520.2 457L512.4 453.2L513.4 457L512.4 460.8Z" fill="#000"/>
<text class="ax" x="333.2" y="460.5" textLength="67.5" lengthAdjust="spacingAndGlyphs">Time [ns]</text>
</svg>
</body></html>
